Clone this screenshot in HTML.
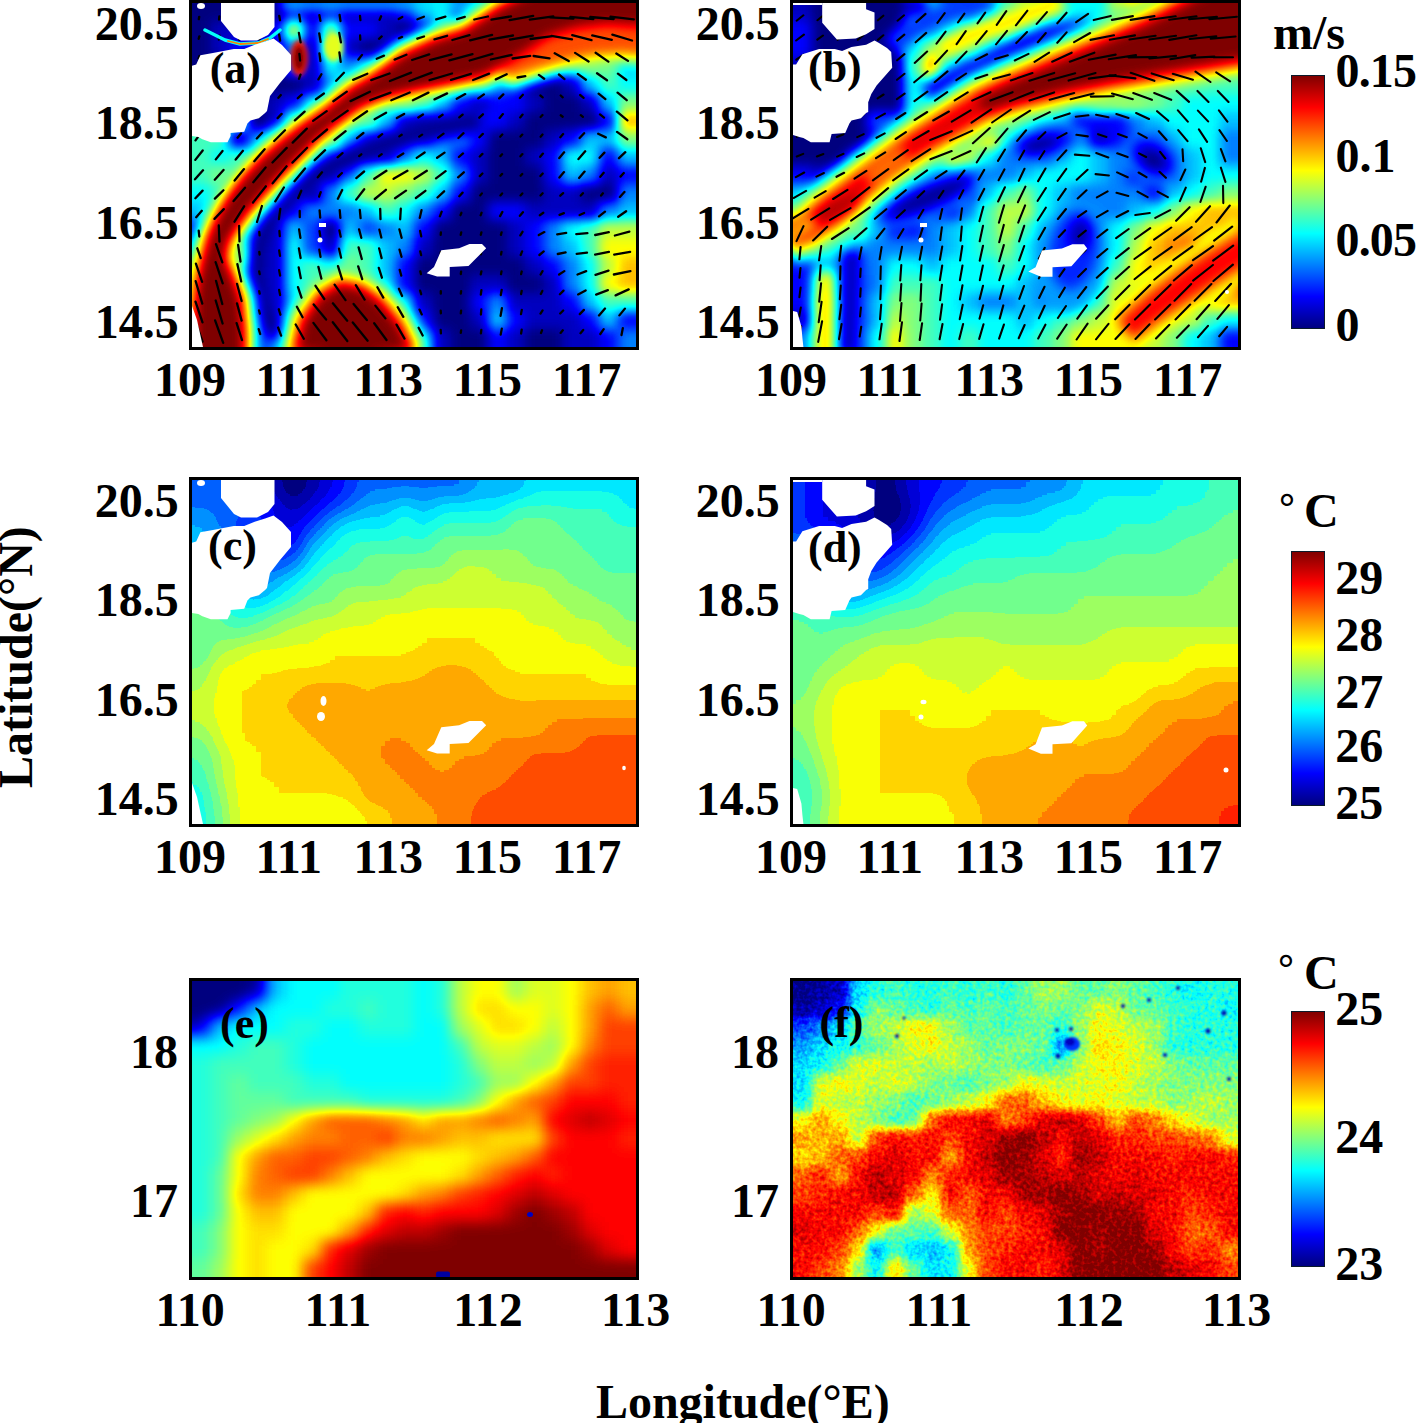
<!DOCTYPE html><html><head><meta charset="utf-8"><style>
html,body{margin:0;padding:0;background:#fff;}
body{width:1417px;height:1423px;position:relative;overflow:hidden;font-family:"Liberation Serif",serif;font-weight:bold;}
.t{position:absolute;line-height:1;white-space:nowrap;color:#000;}
.fr{position:absolute;border:3px solid #000;box-sizing:border-box;}
.pn{position:absolute;overflow:hidden;}
.cb{position:absolute;box-sizing:border-box;border:1px solid #0b1a2a;}
</style></head><body>

<svg class="pn" style="left:192px;top:3px" width="444" height="344" viewBox="0 0 444 344">
<defs><filter id="fa" filterUnits="userSpaceOnUse" x="-55.5" y="-54.3" width="555.0" height="452.6" color-interpolation-filters="sRGB"><feGaussianBlur stdDeviation="6.0" result="bl"/><feComponentTransfer><feFuncR type="table" tableValues="0 0 0 0 0.5 1 1 1 0.5"/><feFuncG type="table" tableValues="0 0 0.5 1 1 1 0.5 0 0"/><feFuncB type="table" tableValues="0.5 1 1 1 0.5 0 0 0 0"/></feComponentTransfer></filter></defs>
<g filter="url(#fa)" shape-rendering="crispEdges">
<rect x="-55.5" y="-54.3" width="148.6" height="18.7" fill="#000000"/>
<rect x="92.5" y="-54.3" width="19.1" height="18.7" fill="#202020"/>
<rect x="111.0" y="-54.3" width="19.1" height="18.7" fill="#101010"/>
<rect x="129.5" y="-54.3" width="19.1" height="18.7" fill="#202020"/>
<rect x="148.0" y="-54.3" width="56.1" height="18.7" fill="#101010"/>
<rect x="203.5" y="-54.3" width="19.1" height="18.7" fill="#202020"/>
<rect x="222.0" y="-54.3" width="19.1" height="18.7" fill="#505050"/>
<rect x="240.5" y="-54.3" width="19.1" height="18.7" fill="#606060"/>
<rect x="259.0" y="-54.3" width="19.1" height="18.7" fill="#202020"/>
<rect x="277.5" y="-54.3" width="19.1" height="18.7" fill="#505050"/>
<rect x="296.0" y="-54.3" width="19.1" height="18.7" fill="#9f9f9f"/>
<rect x="314.5" y="-54.3" width="185.6" height="18.7" fill="#ffffff"/>
<rect x="-55.5" y="-36.2" width="148.6" height="18.7" fill="#000000"/>
<rect x="92.5" y="-36.2" width="19.1" height="18.7" fill="#202020"/>
<rect x="111.0" y="-36.2" width="19.1" height="18.7" fill="#101010"/>
<rect x="129.5" y="-36.2" width="19.1" height="18.7" fill="#202020"/>
<rect x="148.0" y="-36.2" width="56.1" height="18.7" fill="#101010"/>
<rect x="203.5" y="-36.2" width="19.1" height="18.7" fill="#202020"/>
<rect x="222.0" y="-36.2" width="19.1" height="18.7" fill="#505050"/>
<rect x="240.5" y="-36.2" width="19.1" height="18.7" fill="#606060"/>
<rect x="259.0" y="-36.2" width="19.1" height="18.7" fill="#202020"/>
<rect x="277.5" y="-36.2" width="19.1" height="18.7" fill="#505050"/>
<rect x="296.0" y="-36.2" width="19.1" height="18.7" fill="#9f9f9f"/>
<rect x="314.5" y="-36.2" width="185.6" height="18.7" fill="#ffffff"/>
<rect x="-55.5" y="-18.1" width="148.6" height="18.7" fill="#000000"/>
<rect x="92.5" y="-18.1" width="19.1" height="18.7" fill="#202020"/>
<rect x="111.0" y="-18.1" width="19.1" height="18.7" fill="#101010"/>
<rect x="129.5" y="-18.1" width="19.1" height="18.7" fill="#202020"/>
<rect x="148.0" y="-18.1" width="56.1" height="18.7" fill="#101010"/>
<rect x="203.5" y="-18.1" width="19.1" height="18.7" fill="#202020"/>
<rect x="222.0" y="-18.1" width="19.1" height="18.7" fill="#505050"/>
<rect x="240.5" y="-18.1" width="19.1" height="18.7" fill="#606060"/>
<rect x="259.0" y="-18.1" width="19.1" height="18.7" fill="#202020"/>
<rect x="277.5" y="-18.1" width="19.1" height="18.7" fill="#505050"/>
<rect x="296.0" y="-18.1" width="19.1" height="18.7" fill="#9f9f9f"/>
<rect x="314.5" y="-18.1" width="185.6" height="18.7" fill="#ffffff"/>
<rect x="-55.5" y="0.0" width="148.6" height="18.7" fill="#000000"/>
<rect x="92.5" y="0.0" width="19.1" height="18.7" fill="#202020"/>
<rect x="111.0" y="0.0" width="19.1" height="18.7" fill="#101010"/>
<rect x="129.5" y="0.0" width="19.1" height="18.7" fill="#202020"/>
<rect x="148.0" y="0.0" width="56.1" height="18.7" fill="#101010"/>
<rect x="203.5" y="0.0" width="19.1" height="18.7" fill="#202020"/>
<rect x="222.0" y="0.0" width="19.1" height="18.7" fill="#505050"/>
<rect x="240.5" y="0.0" width="19.1" height="18.7" fill="#606060"/>
<rect x="259.0" y="0.0" width="19.1" height="18.7" fill="#202020"/>
<rect x="277.5" y="0.0" width="19.1" height="18.7" fill="#505050"/>
<rect x="296.0" y="0.0" width="19.1" height="18.7" fill="#9f9f9f"/>
<rect x="314.5" y="0.0" width="185.6" height="18.7" fill="#ffffff"/>
<rect x="-55.5" y="18.1" width="74.6" height="18.7" fill="#000000"/>
<rect x="18.5" y="18.1" width="56.1" height="18.7" fill="#101010"/>
<rect x="74.0" y="18.1" width="19.1" height="18.7" fill="#202020"/>
<rect x="92.5" y="18.1" width="19.1" height="18.7" fill="#8f8f8f"/>
<rect x="111.0" y="18.1" width="19.1" height="18.7" fill="#202020"/>
<rect x="129.5" y="18.1" width="19.1" height="18.7" fill="#808080"/>
<rect x="148.0" y="18.1" width="37.6" height="18.7" fill="#202020"/>
<rect x="185.0" y="18.1" width="19.1" height="18.7" fill="#101010"/>
<rect x="203.5" y="18.1" width="19.1" height="18.7" fill="#000000"/>
<rect x="222.0" y="18.1" width="19.1" height="18.7" fill="#101010"/>
<rect x="240.5" y="18.1" width="19.1" height="18.7" fill="#404040"/>
<rect x="259.0" y="18.1" width="19.1" height="18.7" fill="#808080"/>
<rect x="277.5" y="18.1" width="19.1" height="18.7" fill="#dfdfdf"/>
<rect x="296.0" y="18.1" width="56.1" height="18.7" fill="#ffffff"/>
<rect x="351.5" y="18.1" width="19.1" height="18.7" fill="#efefef"/>
<rect x="370.0" y="18.1" width="37.6" height="18.7" fill="#dfdfdf"/>
<rect x="407.0" y="18.1" width="93.1" height="18.7" fill="#efefef"/>
<rect x="-55.5" y="36.2" width="74.6" height="18.7" fill="#000000"/>
<rect x="18.5" y="36.2" width="19.1" height="18.7" fill="#101010"/>
<rect x="37.0" y="36.2" width="37.6" height="18.7" fill="#202020"/>
<rect x="74.0" y="36.2" width="19.1" height="18.7" fill="#101010"/>
<rect x="92.5" y="36.2" width="19.1" height="18.7" fill="#404040"/>
<rect x="111.0" y="36.2" width="19.1" height="18.7" fill="#101010"/>
<rect x="129.5" y="36.2" width="19.1" height="18.7" fill="#9f9f9f"/>
<rect x="148.0" y="36.2" width="19.1" height="18.7" fill="#101010"/>
<rect x="166.5" y="36.2" width="37.6" height="18.7" fill="#000000"/>
<rect x="203.5" y="36.2" width="19.1" height="18.7" fill="#202020"/>
<rect x="222.0" y="36.2" width="19.1" height="18.7" fill="#808080"/>
<rect x="240.5" y="36.2" width="19.1" height="18.7" fill="#dfdfdf"/>
<rect x="259.0" y="36.2" width="56.1" height="18.7" fill="#ffffff"/>
<rect x="314.5" y="36.2" width="19.1" height="18.7" fill="#efefef"/>
<rect x="333.0" y="36.2" width="37.6" height="18.7" fill="#cfcfcf"/>
<rect x="370.0" y="36.2" width="19.1" height="18.7" fill="#bfbfbf"/>
<rect x="388.5" y="36.2" width="111.6" height="18.7" fill="#afafaf"/>
<rect x="-55.5" y="54.3" width="148.6" height="18.7" fill="#000000"/>
<rect x="92.5" y="54.3" width="19.1" height="18.7" fill="#404040"/>
<rect x="111.0" y="54.3" width="19.1" height="18.7" fill="#101010"/>
<rect x="129.5" y="54.3" width="19.1" height="18.7" fill="#606060"/>
<rect x="148.0" y="54.3" width="19.1" height="18.7" fill="#404040"/>
<rect x="166.5" y="54.3" width="19.1" height="18.7" fill="#505050"/>
<rect x="185.0" y="54.3" width="19.1" height="18.7" fill="#9f9f9f"/>
<rect x="203.5" y="54.3" width="19.1" height="18.7" fill="#efefef"/>
<rect x="222.0" y="54.3" width="74.6" height="18.7" fill="#ffffff"/>
<rect x="296.0" y="54.3" width="19.1" height="18.7" fill="#cfcfcf"/>
<rect x="314.5" y="54.3" width="19.1" height="18.7" fill="#8f8f8f"/>
<rect x="333.0" y="54.3" width="37.6" height="18.7" fill="#707070"/>
<rect x="370.0" y="54.3" width="19.1" height="18.7" fill="#808080"/>
<rect x="388.5" y="54.3" width="19.1" height="18.7" fill="#8f8f8f"/>
<rect x="407.0" y="54.3" width="19.1" height="18.7" fill="#808080"/>
<rect x="425.5" y="54.3" width="74.6" height="18.7" fill="#505050"/>
<rect x="-55.5" y="72.4" width="167.1" height="18.7" fill="#000000"/>
<rect x="111.0" y="72.4" width="19.1" height="18.7" fill="#101010"/>
<rect x="129.5" y="72.4" width="19.1" height="18.7" fill="#404040"/>
<rect x="148.0" y="72.4" width="19.1" height="18.7" fill="#afafaf"/>
<rect x="166.5" y="72.4" width="19.1" height="18.7" fill="#efefef"/>
<rect x="185.0" y="72.4" width="56.1" height="18.7" fill="#ffffff"/>
<rect x="240.5" y="72.4" width="19.1" height="18.7" fill="#efefef"/>
<rect x="259.0" y="72.4" width="19.1" height="18.7" fill="#bfbfbf"/>
<rect x="277.5" y="72.4" width="19.1" height="18.7" fill="#808080"/>
<rect x="296.0" y="72.4" width="19.1" height="18.7" fill="#404040"/>
<rect x="314.5" y="72.4" width="19.1" height="18.7" fill="#101010"/>
<rect x="333.0" y="72.4" width="37.6" height="18.7" fill="#000000"/>
<rect x="370.0" y="72.4" width="19.1" height="18.7" fill="#101010"/>
<rect x="388.5" y="72.4" width="19.1" height="18.7" fill="#505050"/>
<rect x="407.0" y="72.4" width="19.1" height="18.7" fill="#707070"/>
<rect x="425.5" y="72.4" width="74.6" height="18.7" fill="#606060"/>
<rect x="-55.5" y="90.5" width="93.1" height="18.7" fill="#606060"/>
<rect x="37.0" y="90.5" width="37.6" height="18.7" fill="#000000"/>
<rect x="74.0" y="90.5" width="19.1" height="18.7" fill="#101010"/>
<rect x="92.5" y="90.5" width="19.1" height="18.7" fill="#202020"/>
<rect x="111.0" y="90.5" width="19.1" height="18.7" fill="#505050"/>
<rect x="129.5" y="90.5" width="19.1" height="18.7" fill="#9f9f9f"/>
<rect x="148.0" y="90.5" width="19.1" height="18.7" fill="#dfdfdf"/>
<rect x="166.5" y="90.5" width="19.1" height="18.7" fill="#efefef"/>
<rect x="185.0" y="90.5" width="19.1" height="18.7" fill="#cfcfcf"/>
<rect x="203.5" y="90.5" width="19.1" height="18.7" fill="#afafaf"/>
<rect x="222.0" y="90.5" width="19.1" height="18.7" fill="#808080"/>
<rect x="240.5" y="90.5" width="19.1" height="18.7" fill="#505050"/>
<rect x="259.0" y="90.5" width="19.1" height="18.7" fill="#202020"/>
<rect x="277.5" y="90.5" width="19.1" height="18.7" fill="#101010"/>
<rect x="296.0" y="90.5" width="37.6" height="18.7" fill="#202020"/>
<rect x="333.0" y="90.5" width="19.1" height="18.7" fill="#101010"/>
<rect x="351.5" y="90.5" width="37.6" height="18.7" fill="#000000"/>
<rect x="388.5" y="90.5" width="19.1" height="18.7" fill="#101010"/>
<rect x="407.0" y="90.5" width="19.1" height="18.7" fill="#505050"/>
<rect x="425.5" y="90.5" width="74.6" height="18.7" fill="#808080"/>
<rect x="-55.5" y="108.6" width="111.6" height="18.7" fill="#707070"/>
<rect x="55.5" y="108.6" width="19.1" height="18.7" fill="#000000"/>
<rect x="74.0" y="108.6" width="19.1" height="18.7" fill="#101010"/>
<rect x="92.5" y="108.6" width="19.1" height="18.7" fill="#8f8f8f"/>
<rect x="111.0" y="108.6" width="19.1" height="18.7" fill="#afafaf"/>
<rect x="129.5" y="108.6" width="19.1" height="18.7" fill="#cfcfcf"/>
<rect x="148.0" y="108.6" width="19.1" height="18.7" fill="#afafaf"/>
<rect x="166.5" y="108.6" width="19.1" height="18.7" fill="#808080"/>
<rect x="185.0" y="108.6" width="19.1" height="18.7" fill="#505050"/>
<rect x="203.5" y="108.6" width="19.1" height="18.7" fill="#101010"/>
<rect x="222.0" y="108.6" width="37.6" height="18.7" fill="#000000"/>
<rect x="259.0" y="108.6" width="19.1" height="18.7" fill="#101010"/>
<rect x="277.5" y="108.6" width="37.6" height="18.7" fill="#202020"/>
<rect x="314.5" y="108.6" width="19.1" height="18.7" fill="#101010"/>
<rect x="333.0" y="108.6" width="74.6" height="18.7" fill="#000000"/>
<rect x="407.0" y="108.6" width="19.1" height="18.7" fill="#202020"/>
<rect x="425.5" y="108.6" width="74.6" height="18.7" fill="#afafaf"/>
<rect x="-55.5" y="126.7" width="93.1" height="18.7" fill="#707070"/>
<rect x="37.0" y="126.7" width="19.1" height="18.7" fill="#101010"/>
<rect x="55.5" y="126.7" width="19.1" height="18.7" fill="#404040"/>
<rect x="74.0" y="126.7" width="19.1" height="18.7" fill="#9f9f9f"/>
<rect x="92.5" y="126.7" width="19.1" height="18.7" fill="#dfdfdf"/>
<rect x="111.0" y="126.7" width="19.1" height="18.7" fill="#cfcfcf"/>
<rect x="129.5" y="126.7" width="19.1" height="18.7" fill="#afafaf"/>
<rect x="148.0" y="126.7" width="19.1" height="18.7" fill="#505050"/>
<rect x="166.5" y="126.7" width="19.1" height="18.7" fill="#202020"/>
<rect x="185.0" y="126.7" width="37.6" height="18.7" fill="#000000"/>
<rect x="222.0" y="126.7" width="19.1" height="18.7" fill="#101010"/>
<rect x="240.5" y="126.7" width="37.6" height="18.7" fill="#404040"/>
<rect x="277.5" y="126.7" width="19.1" height="18.7" fill="#202020"/>
<rect x="296.0" y="126.7" width="56.1" height="18.7" fill="#000000"/>
<rect x="351.5" y="126.7" width="19.1" height="18.7" fill="#101010"/>
<rect x="370.0" y="126.7" width="19.1" height="18.7" fill="#202020"/>
<rect x="388.5" y="126.7" width="37.6" height="18.7" fill="#505050"/>
<rect x="425.5" y="126.7" width="74.6" height="18.7" fill="#808080"/>
<rect x="-55.5" y="144.8" width="74.6" height="18.7" fill="#707070"/>
<rect x="18.5" y="144.8" width="19.1" height="18.7" fill="#606060"/>
<rect x="37.0" y="144.8" width="19.1" height="18.7" fill="#707070"/>
<rect x="55.5" y="144.8" width="19.1" height="18.7" fill="#9f9f9f"/>
<rect x="74.0" y="144.8" width="19.1" height="18.7" fill="#cfcfcf"/>
<rect x="92.5" y="144.8" width="19.1" height="18.7" fill="#efefef"/>
<rect x="111.0" y="144.8" width="19.1" height="18.7" fill="#afafaf"/>
<rect x="129.5" y="144.8" width="19.1" height="18.7" fill="#505050"/>
<rect x="148.0" y="144.8" width="37.6" height="18.7" fill="#000000"/>
<rect x="185.0" y="144.8" width="19.1" height="18.7" fill="#101010"/>
<rect x="203.5" y="144.8" width="19.1" height="18.7" fill="#404040"/>
<rect x="222.0" y="144.8" width="19.1" height="18.7" fill="#606060"/>
<rect x="240.5" y="144.8" width="19.1" height="18.7" fill="#505050"/>
<rect x="259.0" y="144.8" width="19.1" height="18.7" fill="#202020"/>
<rect x="277.5" y="144.8" width="19.1" height="18.7" fill="#101010"/>
<rect x="296.0" y="144.8" width="37.6" height="18.7" fill="#000000"/>
<rect x="333.0" y="144.8" width="19.1" height="18.7" fill="#101010"/>
<rect x="351.5" y="144.8" width="19.1" height="18.7" fill="#202020"/>
<rect x="370.0" y="144.8" width="37.6" height="18.7" fill="#606060"/>
<rect x="407.0" y="144.8" width="19.1" height="18.7" fill="#202020"/>
<rect x="425.5" y="144.8" width="74.6" height="18.7" fill="#505050"/>
<rect x="-55.5" y="162.9" width="74.6" height="18.7" fill="#707070"/>
<rect x="18.5" y="162.9" width="19.1" height="18.7" fill="#808080"/>
<rect x="37.0" y="162.9" width="19.1" height="18.7" fill="#8f8f8f"/>
<rect x="55.5" y="162.9" width="19.1" height="18.7" fill="#bfbfbf"/>
<rect x="74.0" y="162.9" width="19.1" height="18.7" fill="#efefef"/>
<rect x="92.5" y="162.9" width="19.1" height="18.7" fill="#cfcfcf"/>
<rect x="111.0" y="162.9" width="19.1" height="18.7" fill="#505050"/>
<rect x="129.5" y="162.9" width="19.1" height="18.7" fill="#000000"/>
<rect x="148.0" y="162.9" width="19.1" height="18.7" fill="#404040"/>
<rect x="166.5" y="162.9" width="19.1" height="18.7" fill="#707070"/>
<rect x="185.0" y="162.9" width="37.6" height="18.7" fill="#9f9f9f"/>
<rect x="222.0" y="162.9" width="19.1" height="18.7" fill="#8f8f8f"/>
<rect x="240.5" y="162.9" width="19.1" height="18.7" fill="#707070"/>
<rect x="259.0" y="162.9" width="19.1" height="18.7" fill="#404040"/>
<rect x="277.5" y="162.9" width="19.1" height="18.7" fill="#101010"/>
<rect x="296.0" y="162.9" width="56.1" height="18.7" fill="#000000"/>
<rect x="351.5" y="162.9" width="19.1" height="18.7" fill="#202020"/>
<rect x="370.0" y="162.9" width="19.1" height="18.7" fill="#505050"/>
<rect x="388.5" y="162.9" width="19.1" height="18.7" fill="#404040"/>
<rect x="407.0" y="162.9" width="19.1" height="18.7" fill="#101010"/>
<rect x="425.5" y="162.9" width="74.6" height="18.7" fill="#202020"/>
<rect x="-55.5" y="181.1" width="74.6" height="18.7" fill="#606060"/>
<rect x="18.5" y="181.1" width="19.1" height="18.7" fill="#707070"/>
<rect x="37.0" y="181.1" width="19.1" height="18.7" fill="#afafaf"/>
<rect x="55.5" y="181.1" width="19.1" height="18.7" fill="#dfdfdf"/>
<rect x="74.0" y="181.1" width="19.1" height="18.7" fill="#bfbfbf"/>
<rect x="92.5" y="181.1" width="19.1" height="18.7" fill="#606060"/>
<rect x="111.0" y="181.1" width="19.1" height="18.7" fill="#000000"/>
<rect x="129.5" y="181.1" width="19.1" height="18.7" fill="#404040"/>
<rect x="148.0" y="181.1" width="19.1" height="18.7" fill="#707070"/>
<rect x="166.5" y="181.1" width="37.6" height="18.7" fill="#8f8f8f"/>
<rect x="203.5" y="181.1" width="19.1" height="18.7" fill="#808080"/>
<rect x="222.0" y="181.1" width="19.1" height="18.7" fill="#707070"/>
<rect x="240.5" y="181.1" width="19.1" height="18.7" fill="#505050"/>
<rect x="259.0" y="181.1" width="19.1" height="18.7" fill="#202020"/>
<rect x="277.5" y="181.1" width="74.6" height="18.7" fill="#000000"/>
<rect x="351.5" y="181.1" width="37.6" height="18.7" fill="#101010"/>
<rect x="388.5" y="181.1" width="37.6" height="18.7" fill="#000000"/>
<rect x="425.5" y="181.1" width="74.6" height="18.7" fill="#404040"/>
<rect x="-55.5" y="199.2" width="74.6" height="18.7" fill="#505050"/>
<rect x="18.5" y="199.2" width="19.1" height="18.7" fill="#808080"/>
<rect x="37.0" y="199.2" width="19.1" height="18.7" fill="#bfbfbf"/>
<rect x="55.5" y="199.2" width="19.1" height="18.7" fill="#cfcfcf"/>
<rect x="74.0" y="199.2" width="19.1" height="18.7" fill="#808080"/>
<rect x="92.5" y="199.2" width="19.1" height="18.7" fill="#202020"/>
<rect x="111.0" y="199.2" width="56.1" height="18.7" fill="#404040"/>
<rect x="166.5" y="199.2" width="19.1" height="18.7" fill="#505050"/>
<rect x="185.0" y="199.2" width="19.1" height="18.7" fill="#707070"/>
<rect x="203.5" y="199.2" width="19.1" height="18.7" fill="#606060"/>
<rect x="222.0" y="199.2" width="19.1" height="18.7" fill="#404040"/>
<rect x="240.5" y="199.2" width="19.1" height="18.7" fill="#202020"/>
<rect x="259.0" y="199.2" width="37.6" height="18.7" fill="#000000"/>
<rect x="296.0" y="199.2" width="37.6" height="18.7" fill="#202020"/>
<rect x="333.0" y="199.2" width="74.6" height="18.7" fill="#101010"/>
<rect x="407.0" y="199.2" width="19.1" height="18.7" fill="#404040"/>
<rect x="425.5" y="199.2" width="74.6" height="18.7" fill="#505050"/>
<rect x="-55.5" y="217.3" width="74.6" height="18.7" fill="#202020"/>
<rect x="18.5" y="217.3" width="37.6" height="18.7" fill="#9f9f9f"/>
<rect x="55.5" y="217.3" width="37.6" height="18.7" fill="#101010"/>
<rect x="92.5" y="217.3" width="19.1" height="18.7" fill="#505050"/>
<rect x="111.0" y="217.3" width="19.1" height="18.7" fill="#303030"/>
<rect x="129.5" y="217.3" width="19.1" height="18.7" fill="#000000"/>
<rect x="148.0" y="217.3" width="19.1" height="18.7" fill="#505050"/>
<rect x="166.5" y="217.3" width="19.1" height="18.7" fill="#303030"/>
<rect x="185.0" y="217.3" width="19.1" height="18.7" fill="#404040"/>
<rect x="203.5" y="217.3" width="19.1" height="18.7" fill="#505050"/>
<rect x="222.0" y="217.3" width="19.1" height="18.7" fill="#202020"/>
<rect x="240.5" y="217.3" width="74.6" height="18.7" fill="#000000"/>
<rect x="314.5" y="217.3" width="19.1" height="18.7" fill="#101010"/>
<rect x="333.0" y="217.3" width="19.1" height="18.7" fill="#202020"/>
<rect x="351.5" y="217.3" width="19.1" height="18.7" fill="#404040"/>
<rect x="370.0" y="217.3" width="19.1" height="18.7" fill="#606060"/>
<rect x="388.5" y="217.3" width="19.1" height="18.7" fill="#707070"/>
<rect x="407.0" y="217.3" width="93.1" height="18.7" fill="#8f8f8f"/>
<rect x="-55.5" y="235.4" width="74.6" height="18.7" fill="#404040"/>
<rect x="18.5" y="235.4" width="19.1" height="18.7" fill="#bfbfbf"/>
<rect x="37.0" y="235.4" width="19.1" height="18.7" fill="#afafaf"/>
<rect x="55.5" y="235.4" width="19.1" height="18.7" fill="#000000"/>
<rect x="74.0" y="235.4" width="19.1" height="18.7" fill="#101010"/>
<rect x="92.5" y="235.4" width="19.1" height="18.7" fill="#606060"/>
<rect x="111.0" y="235.4" width="19.1" height="18.7" fill="#303030"/>
<rect x="129.5" y="235.4" width="19.1" height="18.7" fill="#101010"/>
<rect x="148.0" y="235.4" width="37.6" height="18.7" fill="#707070"/>
<rect x="185.0" y="235.4" width="19.1" height="18.7" fill="#505050"/>
<rect x="203.5" y="235.4" width="19.1" height="18.7" fill="#404040"/>
<rect x="222.0" y="235.4" width="19.1" height="18.7" fill="#101010"/>
<rect x="240.5" y="235.4" width="74.6" height="18.7" fill="#000000"/>
<rect x="314.5" y="235.4" width="19.1" height="18.7" fill="#101010"/>
<rect x="333.0" y="235.4" width="19.1" height="18.7" fill="#202020"/>
<rect x="351.5" y="235.4" width="19.1" height="18.7" fill="#404040"/>
<rect x="370.0" y="235.4" width="19.1" height="18.7" fill="#505050"/>
<rect x="388.5" y="235.4" width="19.1" height="18.7" fill="#707070"/>
<rect x="407.0" y="235.4" width="93.1" height="18.7" fill="#9f9f9f"/>
<rect x="-55.5" y="253.5" width="74.6" height="18.7" fill="#9f9f9f"/>
<rect x="18.5" y="253.5" width="19.1" height="18.7" fill="#dfdfdf"/>
<rect x="37.0" y="253.5" width="19.1" height="18.7" fill="#bfbfbf"/>
<rect x="55.5" y="253.5" width="19.1" height="18.7" fill="#000000"/>
<rect x="74.0" y="253.5" width="19.1" height="18.7" fill="#101010"/>
<rect x="92.5" y="253.5" width="19.1" height="18.7" fill="#606060"/>
<rect x="111.0" y="253.5" width="19.1" height="18.7" fill="#707070"/>
<rect x="129.5" y="253.5" width="19.1" height="18.7" fill="#606060"/>
<rect x="148.0" y="253.5" width="19.1" height="18.7" fill="#808080"/>
<rect x="166.5" y="253.5" width="19.1" height="18.7" fill="#707070"/>
<rect x="185.0" y="253.5" width="19.1" height="18.7" fill="#505050"/>
<rect x="203.5" y="253.5" width="19.1" height="18.7" fill="#202020"/>
<rect x="222.0" y="253.5" width="111.6" height="18.7" fill="#000000"/>
<rect x="333.0" y="253.5" width="19.1" height="18.7" fill="#101010"/>
<rect x="351.5" y="253.5" width="19.1" height="18.7" fill="#202020"/>
<rect x="370.0" y="253.5" width="19.1" height="18.7" fill="#404040"/>
<rect x="388.5" y="253.5" width="19.1" height="18.7" fill="#606060"/>
<rect x="407.0" y="253.5" width="19.1" height="18.7" fill="#8f8f8f"/>
<rect x="425.5" y="253.5" width="74.6" height="18.7" fill="#afafaf"/>
<rect x="-55.5" y="271.6" width="93.1" height="18.7" fill="#ffffff"/>
<rect x="37.0" y="271.6" width="19.1" height="18.7" fill="#bfbfbf"/>
<rect x="55.5" y="271.6" width="19.1" height="18.7" fill="#000000"/>
<rect x="74.0" y="271.6" width="19.1" height="18.7" fill="#101010"/>
<rect x="92.5" y="271.6" width="19.1" height="18.7" fill="#606060"/>
<rect x="111.0" y="271.6" width="19.1" height="18.7" fill="#707070"/>
<rect x="129.5" y="271.6" width="19.1" height="18.7" fill="#9f9f9f"/>
<rect x="148.0" y="271.6" width="19.1" height="18.7" fill="#afafaf"/>
<rect x="166.5" y="271.6" width="19.1" height="18.7" fill="#808080"/>
<rect x="185.0" y="271.6" width="19.1" height="18.7" fill="#505050"/>
<rect x="203.5" y="271.6" width="19.1" height="18.7" fill="#202020"/>
<rect x="222.0" y="271.6" width="56.1" height="18.7" fill="#000000"/>
<rect x="277.5" y="271.6" width="37.6" height="18.7" fill="#101010"/>
<rect x="314.5" y="271.6" width="37.6" height="18.7" fill="#000000"/>
<rect x="351.5" y="271.6" width="19.1" height="18.7" fill="#101010"/>
<rect x="370.0" y="271.6" width="19.1" height="18.7" fill="#404040"/>
<rect x="388.5" y="271.6" width="19.1" height="18.7" fill="#606060"/>
<rect x="407.0" y="271.6" width="19.1" height="18.7" fill="#9f9f9f"/>
<rect x="425.5" y="271.6" width="74.6" height="18.7" fill="#afafaf"/>
<rect x="-55.5" y="289.7" width="74.6" height="18.7" fill="#efefef"/>
<rect x="18.5" y="289.7" width="19.1" height="18.7" fill="#ffffff"/>
<rect x="37.0" y="289.7" width="19.1" height="18.7" fill="#bfbfbf"/>
<rect x="55.5" y="289.7" width="19.1" height="18.7" fill="#000000"/>
<rect x="74.0" y="289.7" width="19.1" height="18.7" fill="#101010"/>
<rect x="92.5" y="289.7" width="19.1" height="18.7" fill="#505050"/>
<rect x="111.0" y="289.7" width="19.1" height="18.7" fill="#9f9f9f"/>
<rect x="129.5" y="289.7" width="37.6" height="18.7" fill="#dfdfdf"/>
<rect x="166.5" y="289.7" width="19.1" height="18.7" fill="#afafaf"/>
<rect x="185.0" y="289.7" width="19.1" height="18.7" fill="#707070"/>
<rect x="203.5" y="289.7" width="19.1" height="18.7" fill="#505050"/>
<rect x="222.0" y="289.7" width="19.1" height="18.7" fill="#101010"/>
<rect x="240.5" y="289.7" width="37.6" height="18.7" fill="#000000"/>
<rect x="277.5" y="289.7" width="19.1" height="18.7" fill="#202020"/>
<rect x="296.0" y="289.7" width="19.1" height="18.7" fill="#404040"/>
<rect x="314.5" y="289.7" width="56.1" height="18.7" fill="#101010"/>
<rect x="370.0" y="289.7" width="19.1" height="18.7" fill="#202020"/>
<rect x="388.5" y="289.7" width="19.1" height="18.7" fill="#505050"/>
<rect x="407.0" y="289.7" width="93.1" height="18.7" fill="#707070"/>
<rect x="-55.5" y="307.8" width="74.6" height="18.7" fill="#dfdfdf"/>
<rect x="18.5" y="307.8" width="19.1" height="18.7" fill="#ffffff"/>
<rect x="37.0" y="307.8" width="19.1" height="18.7" fill="#bfbfbf"/>
<rect x="55.5" y="307.8" width="19.1" height="18.7" fill="#101010"/>
<rect x="74.0" y="307.8" width="19.1" height="18.7" fill="#202020"/>
<rect x="92.5" y="307.8" width="19.1" height="18.7" fill="#505050"/>
<rect x="111.0" y="307.8" width="19.1" height="18.7" fill="#bfbfbf"/>
<rect x="129.5" y="307.8" width="19.1" height="18.7" fill="#efefef"/>
<rect x="148.0" y="307.8" width="19.1" height="18.7" fill="#ffffff"/>
<rect x="166.5" y="307.8" width="19.1" height="18.7" fill="#dfdfdf"/>
<rect x="185.0" y="307.8" width="19.1" height="18.7" fill="#afafaf"/>
<rect x="203.5" y="307.8" width="19.1" height="18.7" fill="#606060"/>
<rect x="222.0" y="307.8" width="19.1" height="18.7" fill="#202020"/>
<rect x="240.5" y="307.8" width="37.6" height="18.7" fill="#000000"/>
<rect x="277.5" y="307.8" width="19.1" height="18.7" fill="#101010"/>
<rect x="296.0" y="307.8" width="19.1" height="18.7" fill="#505050"/>
<rect x="314.5" y="307.8" width="19.1" height="18.7" fill="#202020"/>
<rect x="333.0" y="307.8" width="56.1" height="18.7" fill="#101010"/>
<rect x="388.5" y="307.8" width="19.1" height="18.7" fill="#202020"/>
<rect x="407.0" y="307.8" width="19.1" height="18.7" fill="#505050"/>
<rect x="425.5" y="307.8" width="74.6" height="18.7" fill="#202020"/>
<rect x="-55.5" y="325.9" width="74.6" height="18.7" fill="#dfdfdf"/>
<rect x="18.5" y="325.9" width="19.1" height="18.7" fill="#ffffff"/>
<rect x="37.0" y="325.9" width="19.1" height="18.7" fill="#bfbfbf"/>
<rect x="55.5" y="325.9" width="19.1" height="18.7" fill="#202020"/>
<rect x="74.0" y="325.9" width="19.1" height="18.7" fill="#404040"/>
<rect x="92.5" y="325.9" width="19.1" height="18.7" fill="#afafaf"/>
<rect x="111.0" y="325.9" width="19.1" height="18.7" fill="#dfdfdf"/>
<rect x="129.5" y="325.9" width="56.1" height="18.7" fill="#ffffff"/>
<rect x="185.0" y="325.9" width="19.1" height="18.7" fill="#dfdfdf"/>
<rect x="203.5" y="325.9" width="19.1" height="18.7" fill="#afafaf"/>
<rect x="222.0" y="325.9" width="19.1" height="18.7" fill="#505050"/>
<rect x="240.5" y="325.9" width="19.1" height="18.7" fill="#101010"/>
<rect x="259.0" y="325.9" width="37.6" height="18.7" fill="#000000"/>
<rect x="296.0" y="325.9" width="19.1" height="18.7" fill="#202020"/>
<rect x="314.5" y="325.9" width="19.1" height="18.7" fill="#101010"/>
<rect x="333.0" y="325.9" width="37.6" height="18.7" fill="#000000"/>
<rect x="370.0" y="325.9" width="37.6" height="18.7" fill="#101010"/>
<rect x="407.0" y="325.9" width="19.1" height="18.7" fill="#202020"/>
<rect x="425.5" y="325.9" width="74.6" height="18.7" fill="#404040"/>
<rect x="-55.5" y="344.0" width="74.6" height="18.7" fill="#dfdfdf"/>
<rect x="18.5" y="344.0" width="19.1" height="18.7" fill="#ffffff"/>
<rect x="37.0" y="344.0" width="19.1" height="18.7" fill="#bfbfbf"/>
<rect x="55.5" y="344.0" width="19.1" height="18.7" fill="#202020"/>
<rect x="74.0" y="344.0" width="19.1" height="18.7" fill="#404040"/>
<rect x="92.5" y="344.0" width="19.1" height="18.7" fill="#afafaf"/>
<rect x="111.0" y="344.0" width="19.1" height="18.7" fill="#dfdfdf"/>
<rect x="129.5" y="344.0" width="56.1" height="18.7" fill="#ffffff"/>
<rect x="185.0" y="344.0" width="19.1" height="18.7" fill="#dfdfdf"/>
<rect x="203.5" y="344.0" width="19.1" height="18.7" fill="#afafaf"/>
<rect x="222.0" y="344.0" width="19.1" height="18.7" fill="#505050"/>
<rect x="240.5" y="344.0" width="19.1" height="18.7" fill="#101010"/>
<rect x="259.0" y="344.0" width="37.6" height="18.7" fill="#000000"/>
<rect x="296.0" y="344.0" width="19.1" height="18.7" fill="#202020"/>
<rect x="314.5" y="344.0" width="19.1" height="18.7" fill="#101010"/>
<rect x="333.0" y="344.0" width="37.6" height="18.7" fill="#000000"/>
<rect x="370.0" y="344.0" width="37.6" height="18.7" fill="#101010"/>
<rect x="407.0" y="344.0" width="19.1" height="18.7" fill="#202020"/>
<rect x="425.5" y="344.0" width="74.6" height="18.7" fill="#404040"/>
<rect x="-55.5" y="362.1" width="74.6" height="18.7" fill="#dfdfdf"/>
<rect x="18.5" y="362.1" width="19.1" height="18.7" fill="#ffffff"/>
<rect x="37.0" y="362.1" width="19.1" height="18.7" fill="#bfbfbf"/>
<rect x="55.5" y="362.1" width="19.1" height="18.7" fill="#202020"/>
<rect x="74.0" y="362.1" width="19.1" height="18.7" fill="#404040"/>
<rect x="92.5" y="362.1" width="19.1" height="18.7" fill="#afafaf"/>
<rect x="111.0" y="362.1" width="19.1" height="18.7" fill="#dfdfdf"/>
<rect x="129.5" y="362.1" width="56.1" height="18.7" fill="#ffffff"/>
<rect x="185.0" y="362.1" width="19.1" height="18.7" fill="#dfdfdf"/>
<rect x="203.5" y="362.1" width="19.1" height="18.7" fill="#afafaf"/>
<rect x="222.0" y="362.1" width="19.1" height="18.7" fill="#505050"/>
<rect x="240.5" y="362.1" width="19.1" height="18.7" fill="#101010"/>
<rect x="259.0" y="362.1" width="37.6" height="18.7" fill="#000000"/>
<rect x="296.0" y="362.1" width="19.1" height="18.7" fill="#202020"/>
<rect x="314.5" y="362.1" width="19.1" height="18.7" fill="#101010"/>
<rect x="333.0" y="362.1" width="37.6" height="18.7" fill="#000000"/>
<rect x="370.0" y="362.1" width="37.6" height="18.7" fill="#101010"/>
<rect x="407.0" y="362.1" width="19.1" height="18.7" fill="#202020"/>
<rect x="425.5" y="362.1" width="74.6" height="18.7" fill="#404040"/>
<rect x="-55.5" y="380.2" width="74.6" height="18.7" fill="#dfdfdf"/>
<rect x="18.5" y="380.2" width="19.1" height="18.7" fill="#ffffff"/>
<rect x="37.0" y="380.2" width="19.1" height="18.7" fill="#bfbfbf"/>
<rect x="55.5" y="380.2" width="19.1" height="18.7" fill="#202020"/>
<rect x="74.0" y="380.2" width="19.1" height="18.7" fill="#404040"/>
<rect x="92.5" y="380.2" width="19.1" height="18.7" fill="#afafaf"/>
<rect x="111.0" y="380.2" width="19.1" height="18.7" fill="#dfdfdf"/>
<rect x="129.5" y="380.2" width="56.1" height="18.7" fill="#ffffff"/>
<rect x="185.0" y="380.2" width="19.1" height="18.7" fill="#dfdfdf"/>
<rect x="203.5" y="380.2" width="19.1" height="18.7" fill="#afafaf"/>
<rect x="222.0" y="380.2" width="19.1" height="18.7" fill="#505050"/>
<rect x="240.5" y="380.2" width="19.1" height="18.7" fill="#101010"/>
<rect x="259.0" y="380.2" width="37.6" height="18.7" fill="#000000"/>
<rect x="296.0" y="380.2" width="19.1" height="18.7" fill="#202020"/>
<rect x="314.5" y="380.2" width="19.1" height="18.7" fill="#101010"/>
<rect x="333.0" y="380.2" width="37.6" height="18.7" fill="#000000"/>
<rect x="370.0" y="380.2" width="37.6" height="18.7" fill="#101010"/>
<rect x="407.0" y="380.2" width="19.1" height="18.7" fill="#202020"/>
<rect x="425.5" y="380.2" width="74.6" height="18.7" fill="#404040"/>
<polygon points="88.0,-3.0 313.0,-3.0 313.0,6.0 88.0,6.0" fill="#5c5c5c" />
<polygon points="285.5,104.2 249.5,111.3 219.4,117.5 195.4,126.8 168.3,136.9 142.6,147.2 115.8,161.2 89.0,182.6 66.9,208.3 55.3,239.3 53.0,272.4 57.5,305.5 70.1,330.4 90.4,345.5 105.6,324.5 89.9,313.6 82.5,298.5 79.0,271.6 80.7,244.7 89.1,221.7 107.0,201.4 130.2,182.8 153.4,170.8 177.7,161.1 204.6,151.2 226.6,142.5 254.5,136.7 290.5,129.8" fill="#1a1a1a" />
<polygon points="286.5,109.1 250.4,116.2 220.8,122.3 197.2,131.5 170.1,141.5 144.7,151.7 118.6,165.3 92.5,186.2 71.1,210.9 60.2,240.4 58.0,272.3 62.3,304.2 73.9,327.2 93.3,341.5 102.7,328.5 86.1,316.8 77.7,299.8 74.0,271.7 75.8,243.6 84.9,219.1 103.5,197.8 127.4,178.7 151.3,166.3 175.9,156.5 202.8,146.5 225.2,137.7 253.6,131.8 289.5,124.9" fill="#030303" />
<polygon points="460.4,-44.3 438.6,-37.8 410.1,-35.9 375.2,-29.5 334.6,-25.6 296.9,-7.2 266.7,13.5 240.3,21.5 205.5,37.4 176.0,58.6 149.7,73.9 125.5,93.9 102.4,109.5 80.5,125.9 58.2,145.2 39.3,165.7 24.2,186.1 12.4,206.1 2.5,228.5 -3.9,252.8 -8.9,276.0 -11.9,299.8 -13.0,327.7 -13.0,357.0 67.0,357.0 67.0,326.3 63.9,294.2 54.9,270.0 47.9,257.2 49.5,245.5 57.6,231.9 67.8,217.9 81.7,202.3 97.8,184.8 116.7,166.1 133.6,148.5 154.5,132.1 176.3,116.1 199.0,107.4 230.5,100.6 261.7,94.5 299.3,86.5 339.1,63.2 361.4,47.6 386.8,39.5 415.9,35.9 445.4,37.8 475.6,34.3" fill="#6b6b6b" />
<polygon points="461.8,-37.4 439.2,-30.9 410.6,-28.9 376.3,-22.6 337.0,-19.1 300.5,-1.2 269.5,19.9 242.3,28.2 208.1,43.9 179.0,64.9 153.4,79.8 129.8,99.4 106.8,114.9 85.2,131.1 63.2,150.1 44.6,170.3 29.8,190.2 18.5,209.6 9.1,230.9 3.1,253.4 -1.9,275.4 -4.9,299.3 -6.0,327.5 -6.0,357.0 60.0,357.0 60.0,326.5 56.9,294.7 47.9,270.6 40.9,256.6 42.9,243.1 51.5,228.4 62.2,213.8 76.4,197.7 92.8,179.9 112.0,160.9 129.2,143.1 150.2,126.6 172.6,110.2 196.0,101.1 227.9,94.1 259.7,87.8 296.5,80.1 335.5,57.2 359.0,41.1 385.7,32.6 415.4,28.9 444.8,30.9 474.2,27.4" fill="#9e9e9e" />
<polygon points="469.5,5.0 428.0,3.0 394.0,5.3 359.8,12.1 327.6,26.0 298.1,42.1 317.9,87.9 348.4,78.0 376.2,69.9 402.0,64.7 428.0,63.0 466.5,65.0" fill="#737373" />
<polygon points="469.2,11.0 428.0,9.0 394.8,11.2 361.5,17.9 329.8,31.6 300.4,47.6 315.6,82.4 346.2,72.4 374.5,64.1 401.2,58.8 428.0,57.0 466.8,59.0" fill="#9e9e9e" />
<polygon points="468.8,18.0 428.0,16.0 395.8,18.1 363.4,24.6 332.4,38.1 303.2,54.0 312.8,76.0 343.6,65.9 372.6,57.4 400.2,51.9 428.0,50.0 467.2,52.0" fill="#cccccc" />
<polygon points="462.6,-33.0 439.6,-26.4 411.0,-24.4 377.1,-18.2 338.6,-14.8 302.8,2.7 271.4,24.0 243.6,32.6 209.8,48.1 180.9,69.0 155.8,83.6 132.5,103.0 109.6,118.4 88.2,134.5 66.3,153.3 48.0,173.2 33.5,192.9 22.4,211.8 13.3,232.4 7.6,253.8 2.6,274.9 -0.4,299.0 -1.5,327.5 -1.5,357.0 55.5,357.0 55.5,326.5 52.4,295.0 43.4,271.1 36.4,256.2 38.7,241.6 47.6,226.2 58.5,211.1 73.0,194.8 89.7,176.7 109.0,157.5 126.4,139.6 147.5,123.0 170.2,106.4 194.1,97.0 226.2,89.9 258.4,83.4 294.6,76.0 333.2,53.3 357.4,36.8 384.9,28.2 415.0,24.4 444.4,26.4 473.4,23.0" fill="#cccccc" />
<polygon points="463.3,-29.6 439.9,-22.9 411.3,-20.9 377.7,-14.7 339.8,-11.5 304.6,5.7 272.8,27.2 244.5,35.9 211.0,51.3 182.4,72.2 157.7,86.5 134.6,105.8 111.8,121.2 90.6,137.1 68.8,155.8 50.7,175.5 36.3,194.9 25.4,213.5 16.6,233.6 11.0,254.1 6.1,274.6 3.1,298.7 2.0,327.4 2.0,357.0 52.0,357.0 52.0,326.6 48.9,295.3 39.9,271.4 33.0,255.9 35.4,240.4 44.6,224.5 55.7,209.1 70.3,192.5 87.2,174.2 106.6,154.9 124.2,136.8 145.4,120.2 168.3,103.5 192.6,93.8 225.0,86.7 257.5,80.1 293.2,72.8 331.4,50.3 356.2,33.5 384.3,24.7 414.7,20.9 444.1,22.9 472.7,19.6" fill="#ffffff" />
<polygon points="84.0,349.0 93.8,308.9 117.5,277.0 145.2,261.4 172.5,266.2 198.7,282.5 222.9,310.3 240.0,349.0" fill="#737373" />
<polygon points="93.0,349.0 101.5,313.4 122.2,284.6 146.9,270.2 171.4,275.1 194.3,290.4 215.3,315.1 231.0,349.0" fill="#a6a6a6" />
<polygon points="99.0,349.0 106.7,316.5 125.4,289.7 148.1,276.1 170.6,281.0 191.4,295.6 210.2,318.3 225.0,349.0" fill="#d1d1d1" />
<polygon points="104.0,349.0 111.0,319.0 128.0,294.0 149.0,281.0 170.0,286.0 189.0,300.0 206.0,321.0 220.0,349.0" fill="#ffffff" />
</g>
<defs><filter id="sb" x="-50%" y="-50%" width="200%" height="200%"><feGaussianBlur stdDeviation="2.5"/></filter></defs><g filter="url(#sb)">
<ellipse cx="107.0" cy="55.0" rx="9" ry="18" fill="#ff1a00" />
<ellipse cx="107.0" cy="55.0" rx="6" ry="13" fill="#800000" />
<ellipse cx="142.0" cy="44.0" rx="9" ry="14" fill="#e5ff1a" />
</g>
<path d="M6.8 16.2L7.2 13.8M27.0 16.5L27.3 13.5M47.3 13.5L47.3 16.5M67.3 13.5L67.6 16.5M87.2 12.8L88.0 17.2M107.2 11.6L108.3 18.4M127.4 12.2L128.4 17.8M147.6 12.0L148.5 18.0M168.0 12.9L168.4 17.1M187.6 16.8L189.1 13.2M206.7 16.0L210.3 14.0M225.4 16.3L231.9 13.7M244.2 16.4L253.4 13.6M265.1 16.1L272.8 13.9M282.3 16.5L295.9 13.5M299.5 16.7L319.0 13.3M317.6 17.1L341.2 12.9M337.8 16.6L361.3 13.4M358.0 14.3L381.4 15.7M378.4 13.8L401.3 16.2M398.3 14.0L421.7 16.0M418.5 13.6L441.8 16.4M6.7 35.8L7.3 33.4M26.8 36.5L27.5 32.7M47.2 36.8L47.4 32.4M67.3 32.4L67.6 36.8M87.1 31.5L88.1 37.7M106.9 29.9L108.6 39.3M127.2 30.3L128.6 38.9M147.2 29.9L148.9 39.3M168.1 32.5L168.3 36.7M187.0 35.8L189.7 33.4M206.9 35.3L210.1 33.9M225.3 35.7L232.0 33.5M242.5 36.4L255.1 32.8M260.4 37.0L277.5 32.2M278.1 37.3L300.1 31.9M297.5 36.7L321.0 32.5M318.0 36.6L340.8 32.6M338.6 36.0L360.5 33.2M359.4 32.8L380.0 36.4M380.2 32.1L399.5 37.1M400.2 32.4L419.8 36.8M420.3 31.7L440.0 37.5M6.6 55.4L7.4 53.0M26.7 55.7L27.6 52.7M46.9 56.1L47.7 52.3M67.4 56.1L67.5 52.3M87.4 52.1L87.8 56.3M107.4 50.9L108.1 57.5M127.4 50.4L128.4 58.0M147.4 49.5L148.7 58.9M166.4 56.5L170.0 51.9M184.7 55.8L192.0 52.6M202.6 56.6L214.4 51.8M220.1 57.0L237.2 51.4M238.0 57.1L259.6 51.3M257.4 57.3L280.5 51.1M277.7 57.5L300.5 50.9M298.9 56.5L319.6 51.9M320.6 55.5L338.2 52.9M341.6 53.0L357.5 55.4M362.7 50.3L376.7 58.1M383.1 49.9L396.6 58.5M403.6 49.8L416.4 58.6M424.3 50.5L436.0 57.9M6.4 74.9L7.6 72.7M26.6 74.9L27.7 72.7M46.8 74.9L47.8 72.7M67.0 75.0L67.9 72.6M87.1 75.2L88.1 72.4M107.0 75.9L108.5 71.7M126.4 76.4L129.4 71.2M144.2 77.8L151.9 69.8M161.1 76.9L175.3 70.7M179.2 77.1L197.5 70.5M197.9 78.0L219.1 69.6M217.5 78.0L239.8 69.6M237.6 77.1L260.0 70.5M259.0 76.8L278.9 70.8M281.1 77.0L297.1 70.6M303.8 76.4L314.7 71.2M325.5 74.5L333.3 73.1M346.9 71.9L352.2 75.7M366.9 71.5L372.5 76.1M385.8 70.9L393.9 76.7M405.0 70.3L415.0 77.3M425.9 70.6L434.4 77.0M5.0 96.7L9.0 90.1M25.0 96.7L29.3 90.1M46.6 94.4L48.0 92.4M66.7 94.4L68.2 92.4M86.4 94.8L88.8 92.0M105.8 95.2L109.7 91.6M123.9 96.3L131.9 90.5M141.3 98.2L154.8 88.6M158.5 98.1L177.9 88.7M178.2 97.2L198.5 89.6M199.3 97.3L217.7 89.5M220.9 97.2L236.4 89.6M242.5 96.4L255.1 90.4M264.7 95.7L273.2 91.1M286.3 95.4L291.9 91.4M307.2 95.4L311.3 91.4M327.9 95.0L330.9 91.8M348.4 92.5L350.7 94.3M368.7 92.5L370.7 94.3M388.1 92.0L391.6 94.8M406.6 90.7L413.4 96.1M425.6 89.6L434.7 97.2M3.8 117.8L10.2 108.2M23.7 117.7L30.6 108.3M44.5 116.5L50.1 109.5M66.5 114.0L68.4 112.0M85.6 115.1L89.6 110.9M102.9 117.4L112.6 108.6M121.1 117.9L134.7 108.1M140.4 118.4L155.7 107.6M161.3 117.7L175.1 108.3M182.6 116.3L194.1 109.7M204.9 115.1L212.1 110.9M226.3 114.5L231.0 111.5M247.0 114.2L250.6 111.8M267.3 114.4L270.6 111.6M287.3 114.7L290.9 111.3M307.6 114.9L310.9 111.1M328.2 114.4L330.6 111.6M348.6 114.0L350.5 112.0M368.7 112.3L370.7 113.7M388.8 112.2L390.9 113.8M408.0 111.4L412.0 114.6M424.9 108.6L435.4 117.4M3.5 137.4L10.5 127.8M23.5 137.3L30.8 127.9M45.6 134.7L49.0 130.5M64.8 135.5L70.1 129.7M82.2 138.0L93.0 127.2M100.7 139.6L114.8 125.6M120.7 138.7L135.1 126.5M142.5 137.0L153.6 128.2M165.0 135.2L171.4 130.0M186.5 134.0L190.2 131.2M207.3 133.4L209.7 131.8M227.2 133.6L230.1 131.6M246.1 134.6L251.5 130.6M266.4 135.0L271.5 130.2M287.4 134.3L290.8 130.9M308.2 133.7L310.3 131.5M328.5 133.6L330.3 131.6M348.6 133.7L350.5 131.5M368.3 134.2L371.1 131.0M387.6 135.0L392.1 130.2M406.2 130.8L413.8 134.4M425.0 128.9L435.3 136.3M3.3 156.9L10.7 147.5M23.8 156.4L30.5 148.0M43.7 156.6L50.9 147.8M62.3 158.2L72.6 146.2M80.5 159.5L94.7 144.9M100.4 159.6L115.1 144.8M122.7 157.2L133.1 147.2M145.6 154.3L150.5 150.1M167.1 153.1L169.3 151.3M187.0 153.2L189.7 151.2M205.7 153.9L211.3 150.5M224.7 154.9L232.6 149.5M245.1 154.8L252.5 149.6M266.9 154.0L271.0 150.4M287.8 153.5L290.4 150.9M308.4 153.1L310.1 151.3M328.4 153.3L330.4 151.1M348.2 153.8L350.9 150.6M367.3 155.1L372.1 149.3M386.5 156.1L393.2 148.3M407.6 154.8L412.4 149.6M427.0 155.2L433.3 149.2M3.0 176.3L11.0 167.3M22.8 176.7L31.5 166.9M42.6 177.5L52.0 166.1M61.3 179.2L73.6 164.4M80.6 180.3L94.6 163.3M102.5 178.2L113.0 165.4M125.8 174.3L130.0 169.3M146.2 173.6L149.9 170.0M164.3 175.1L172.1 168.5M182.3 175.8L194.4 167.8M201.6 175.8L215.4 167.8M222.5 175.8L234.8 167.8M244.0 175.4L253.6 168.2M266.1 174.3L271.8 169.3M287.8 173.1L290.4 170.5M308.4 172.7L310.1 170.9M328.6 172.7L330.2 170.9M348.4 173.1L350.7 170.5M367.4 174.5L372.0 169.1M387.1 175.0L392.6 168.6M408.3 173.8L411.7 169.8M428.5 173.6L431.8 170.0M3.4 195.2L10.6 187.6M22.9 195.6L31.4 187.2M41.6 198.1L53.0 184.7M61.0 199.5L73.9 183.3M83.3 198.3L91.9 184.5M106.2 195.0L109.3 187.8M127.1 193.7L128.7 189.1M145.9 195.8L150.2 187.0M164.2 196.6L172.2 186.2M182.8 196.0L193.9 186.8M203.0 195.2L214.0 187.6M223.9 195.0L233.4 187.8M245.5 194.5L252.1 188.3M267.3 193.2L270.6 189.6M288.3 192.4L289.9 190.4M308.4 192.4L310.1 190.4M328.5 192.4L330.3 190.4M348.5 192.5L350.6 190.3M368.3 192.7L371.1 190.1M388.8 192.6L390.9 190.2M409.1 192.5L410.9 190.3M427.9 193.9L432.4 188.9M4.2 214.2L9.8 207.8M22.5 215.9L31.8 206.1M42.5 218.7L52.1 203.3M65.0 219.0L69.9 203.0M86.9 216.2L88.3 205.8M107.7 207.8L107.8 214.2M127.6 207.3L128.2 214.7M147.7 207.2L148.4 214.8M167.8 206.8L168.6 215.2M188.2 205.8L188.5 216.2M208.2 216.3L208.8 205.7M227.8 214.8L229.5 207.2M247.9 213.3L249.7 208.7M268.5 212.2L269.4 209.8M288.6 212.3L289.6 209.7M308.1 213.1L310.4 208.9M327.9 212.8L330.9 209.2M347.8 212.2L351.3 209.8M367.5 211.9L371.9 210.1M387.6 212.0L392.1 210.0M407.0 213.4L413.0 208.6M426.2 213.8L434.1 208.2M6.7 227.7L7.3 233.5M26.8 222.5L27.5 238.7M47.1 222.8L47.5 238.4M67.3 228.8L67.6 232.4M87.4 228.0L87.8 233.2M107.1 226.4L108.4 234.8M127.5 228.1L128.3 233.1M147.4 227.5L148.7 233.7M167.1 226.4L169.3 234.8M187.4 226.7L189.3 234.5M207.4 226.4L209.6 234.8M228.1 227.9L229.2 233.3M248.7 231.9L248.9 229.3M268.7 231.8L269.2 229.4M288.8 231.8L289.4 229.4M308.9 231.9L309.6 229.3M328.3 232.4L330.5 228.8M346.8 232.1L352.3 229.1M365.2 231.3L374.2 229.9M384.3 231.1L395.4 230.1M403.2 232.0L416.8 229.2M422.9 232.5L437.4 228.7M5.3 245.3L8.7 255.1M24.0 241.1L30.3 259.3M46.1 241.9L48.5 258.5M67.3 248.9L67.6 251.5M87.2 247.5L88.0 252.9M106.9 245.4L108.6 255.0M127.3 246.6L128.5 253.8M147.0 245.7L149.1 254.7M166.6 244.4L169.8 256.0M187.1 245.3L189.6 255.1M207.5 246.6L209.5 253.8M228.2 248.3L229.1 252.1M248.8 248.9L248.8 251.5M268.7 251.4L269.2 249.0M288.9 251.4L289.3 249.0M309.0 251.5L309.5 248.9M328.7 252.0L330.1 248.4M347.4 252.0L351.7 248.4M365.8 251.0L373.6 249.4M384.7 250.8L395.0 249.6M403.1 251.6L416.9 248.8M422.2 251.6L438.1 248.8M3.9 260.7L10.1 278.9M23.6 259.2L30.7 280.4M45.4 261.2L49.2 278.4M67.2 268.5L67.7 271.1M87.1 267.1L88.1 272.5M106.7 264.4L108.8 275.2M126.4 263.9L129.4 275.7M146.0 263.2L150.1 276.4M166.2 263.4L170.2 276.2M186.8 264.9L189.9 274.7M207.7 266.9L209.3 272.7M228.3 268.4L229.0 271.2M248.8 268.6L248.8 271.0M268.8 271.0L269.1 268.6M288.8 271.3L289.4 268.3M309.0 271.2L309.5 268.4M329.1 271.1L329.7 268.5M348.6 271.5L350.5 268.1M367.1 271.5L372.3 268.1M385.5 271.5L394.2 268.1M403.5 271.9L416.5 267.7M421.9 271.5L438.4 268.1M3.7 278.2L10.3 300.6M24.0 277.8L30.3 301.0M45.0 280.8L49.6 298.0M67.2 288.1L67.7 290.7M87.1 286.8L88.1 292.0M106.0 284.1L109.5 294.7M123.5 282.8L132.3 296.0M142.6 281.7L153.5 297.1M163.8 282.2L172.6 296.6M185.4 284.2L191.3 294.6M206.9 285.8L210.1 293.0M228.1 287.6L229.2 291.2M248.8 288.1L248.8 290.7M268.8 290.7L269.1 288.1M288.8 291.7L289.4 287.1M308.8 292.0L309.7 286.8M329.1 291.0L329.7 287.8M348.8 290.9L350.3 287.9M367.9 291.2L371.5 287.6M386.1 291.4L393.6 287.4M404.1 291.6L415.9 287.2M423.6 292.4L436.7 286.4M3.5 298.6L10.5 319.4M23.7 297.5L30.6 320.5M45.0 300.4L49.6 317.6M67.0 307.3L67.9 310.7M86.8 306.3L88.4 311.7M104.9 303.8L110.6 314.2M121.7 301.5L134.1 316.5M140.9 300.3L155.2 317.7M161.6 300.9L174.8 317.1M183.3 302.6L193.4 315.4M205.7 304.2L211.3 313.8M227.5 306.6L229.8 311.4M248.7 307.7L248.9 310.3M268.8 310.3L269.1 307.7M288.9 311.5L289.3 306.5M308.6 312.8L309.9 305.2M329.0 311.1L329.8 306.9M348.5 310.6L350.6 307.4M368.2 310.5L371.2 307.5M387.8 311.1L391.9 306.9M407.0 312.5L413.0 305.5M427.4 312.4L432.9 305.6M3.4 318.6L10.6 338.6M23.1 317.4L31.2 339.8M44.6 320.1L50.0 337.1M66.7 326.2L68.2 331.0M86.1 324.5L89.1 332.7M103.7 321.5L111.8 335.7M121.4 319.9L134.4 337.3M140.8 319.2L155.3 338.0M160.8 319.5L175.6 337.7M182.2 320.2L194.5 337.0M204.5 321.6L212.5 335.6M226.6 324.7L230.7 332.5M248.7 326.8L248.9 330.4M268.8 329.9L269.1 327.3M288.9 330.3L289.3 326.9M308.7 331.6L309.8 325.6M329.1 330.5L329.7 326.7M349.0 330.0L350.1 327.2M368.6 329.9L370.8 327.3M388.5 330.2L391.2 327.0M408.3 331.0L411.7 326.2M429.5 332.0L430.8 325.2" stroke="#000" stroke-width="2.3" stroke-linecap="round" fill="none"/>
<polyline points="13.0,27.0 23.0,32.0 33.0,37.0 48.0,41.0 66.0,40.0 78.0,35.0 88.0,27.0" fill="none" stroke="#05fffa" stroke-width="3.5" stroke-linecap="round" stroke-linejoin="round" />
<polyline points="36.0,38.0 48.0,41.0 66.0,40.0 76.0,36.0" fill="none" stroke="#ff8000" stroke-width="1.8" stroke-linecap="round" stroke-linejoin="round" />
<polygon points="29.0,0.0 29.0,18.0 42.0,34.0 49.0,37.5 65.0,37.5 76.0,32.0 82.5,24.0 82.5,0.0" fill="#fff" />
<polygon points="0.0,62.7 4.2,61.6 8.4,52.2 20.9,50.1 41.8,46.0 52.2,46.0 62.7,41.8 73.1,38.6 81.5,35.5 90.0,42.0 99.0,52.0 99.0,67.0 88.0,80.0 78.0,93.0 75.0,108.0 73.1,110.0 66.8,115.3 58.5,117.4 55.4,120.5 52.2,128.8 38.6,129.9 38.6,133.0 35.5,139.3 18.8,139.3 10.4,136.2 6.3,134.0 0.0,133.0" fill="#fff" />
<polygon points="0.0,303.0 5.0,317.0 11.0,344.0 0.0,344.0" fill="#fff" />
<polygon points="234.7,270.3 242.0,264.0 249.3,247.3 267.1,245.2 277.5,241.0 290.0,241.0 294.2,245.2 276.5,263.0 257.7,264.0 257.7,273.4 245.1,273.4" fill="#fff" />
<ellipse cx="9.0" cy="3.0" rx="4" ry="3" fill="#fff" />
<rect x="127" y="220" width="7" height="4" fill="#fff"/>
<ellipse cx="128.0" cy="237.0" rx="2.5" ry="2.5" fill="#fff" />
</svg>
<div class="fr" style="left:189px;top:0px;width:450px;height:350px"></div>
<svg class="pn" style="left:793px;top:3px" width="445" height="344" viewBox="0 0 445 344">
<defs><filter id="fb" filterUnits="userSpaceOnUse" x="-55.6" y="-54.3" width="556.2" height="452.6" color-interpolation-filters="sRGB"><feGaussianBlur stdDeviation="6.0" result="bl"/><feComponentTransfer><feFuncR type="table" tableValues="0 0 0 0 0.5 1 1 1 0.5"/><feFuncG type="table" tableValues="0 0 0.5 1 1 1 0.5 0 0"/><feFuncB type="table" tableValues="0.5 1 1 1 0.5 0 0 0 0"/></feComponentTransfer></filter></defs>
<g filter="url(#fb)" shape-rendering="crispEdges">
<rect x="-55.6" y="-54.3" width="74.8" height="18.7" fill="#101010"/>
<rect x="18.5" y="-54.3" width="93.3" height="18.7" fill="#000000"/>
<rect x="111.2" y="-54.3" width="19.1" height="18.7" fill="#303030"/>
<rect x="129.8" y="-54.3" width="19.1" height="18.7" fill="#505050"/>
<rect x="148.3" y="-54.3" width="19.1" height="18.7" fill="#202020"/>
<rect x="166.9" y="-54.3" width="19.1" height="18.7" fill="#101010"/>
<rect x="185.4" y="-54.3" width="19.1" height="18.7" fill="#404040"/>
<rect x="204.0" y="-54.3" width="19.1" height="18.7" fill="#707070"/>
<rect x="222.5" y="-54.3" width="19.1" height="18.7" fill="#8f8f8f"/>
<rect x="241.0" y="-54.3" width="19.1" height="18.7" fill="#707070"/>
<rect x="259.6" y="-54.3" width="56.2" height="18.7" fill="#606060"/>
<rect x="315.2" y="-54.3" width="19.1" height="18.7" fill="#8f8f8f"/>
<rect x="333.8" y="-54.3" width="19.1" height="18.7" fill="#bfbfbf"/>
<rect x="352.3" y="-54.3" width="19.1" height="18.7" fill="#dfdfdf"/>
<rect x="370.8" y="-54.3" width="19.1" height="18.7" fill="#efefef"/>
<rect x="389.4" y="-54.3" width="111.8" height="18.7" fill="#ffffff"/>
<rect x="-55.6" y="-36.2" width="74.8" height="18.7" fill="#101010"/>
<rect x="18.5" y="-36.2" width="93.3" height="18.7" fill="#000000"/>
<rect x="111.2" y="-36.2" width="19.1" height="18.7" fill="#303030"/>
<rect x="129.8" y="-36.2" width="19.1" height="18.7" fill="#505050"/>
<rect x="148.3" y="-36.2" width="19.1" height="18.7" fill="#202020"/>
<rect x="166.9" y="-36.2" width="19.1" height="18.7" fill="#101010"/>
<rect x="185.4" y="-36.2" width="19.1" height="18.7" fill="#404040"/>
<rect x="204.0" y="-36.2" width="19.1" height="18.7" fill="#707070"/>
<rect x="222.5" y="-36.2" width="19.1" height="18.7" fill="#8f8f8f"/>
<rect x="241.0" y="-36.2" width="19.1" height="18.7" fill="#707070"/>
<rect x="259.6" y="-36.2" width="56.2" height="18.7" fill="#606060"/>
<rect x="315.2" y="-36.2" width="19.1" height="18.7" fill="#8f8f8f"/>
<rect x="333.8" y="-36.2" width="19.1" height="18.7" fill="#bfbfbf"/>
<rect x="352.3" y="-36.2" width="19.1" height="18.7" fill="#dfdfdf"/>
<rect x="370.8" y="-36.2" width="19.1" height="18.7" fill="#efefef"/>
<rect x="389.4" y="-36.2" width="111.8" height="18.7" fill="#ffffff"/>
<rect x="-55.6" y="-18.1" width="74.8" height="18.7" fill="#101010"/>
<rect x="18.5" y="-18.1" width="93.3" height="18.7" fill="#000000"/>
<rect x="111.2" y="-18.1" width="19.1" height="18.7" fill="#303030"/>
<rect x="129.8" y="-18.1" width="19.1" height="18.7" fill="#505050"/>
<rect x="148.3" y="-18.1" width="19.1" height="18.7" fill="#202020"/>
<rect x="166.9" y="-18.1" width="19.1" height="18.7" fill="#101010"/>
<rect x="185.4" y="-18.1" width="19.1" height="18.7" fill="#404040"/>
<rect x="204.0" y="-18.1" width="19.1" height="18.7" fill="#707070"/>
<rect x="222.5" y="-18.1" width="19.1" height="18.7" fill="#8f8f8f"/>
<rect x="241.0" y="-18.1" width="19.1" height="18.7" fill="#707070"/>
<rect x="259.6" y="-18.1" width="56.2" height="18.7" fill="#606060"/>
<rect x="315.2" y="-18.1" width="19.1" height="18.7" fill="#8f8f8f"/>
<rect x="333.8" y="-18.1" width="19.1" height="18.7" fill="#bfbfbf"/>
<rect x="352.3" y="-18.1" width="19.1" height="18.7" fill="#dfdfdf"/>
<rect x="370.8" y="-18.1" width="19.1" height="18.7" fill="#efefef"/>
<rect x="389.4" y="-18.1" width="111.8" height="18.7" fill="#ffffff"/>
<rect x="-55.6" y="0.0" width="74.8" height="18.7" fill="#101010"/>
<rect x="18.5" y="0.0" width="93.3" height="18.7" fill="#000000"/>
<rect x="111.2" y="0.0" width="19.1" height="18.7" fill="#303030"/>
<rect x="129.8" y="0.0" width="19.1" height="18.7" fill="#505050"/>
<rect x="148.3" y="0.0" width="19.1" height="18.7" fill="#202020"/>
<rect x="166.9" y="0.0" width="19.1" height="18.7" fill="#101010"/>
<rect x="185.4" y="0.0" width="19.1" height="18.7" fill="#404040"/>
<rect x="204.0" y="0.0" width="19.1" height="18.7" fill="#707070"/>
<rect x="222.5" y="0.0" width="19.1" height="18.7" fill="#8f8f8f"/>
<rect x="241.0" y="0.0" width="19.1" height="18.7" fill="#707070"/>
<rect x="259.6" y="0.0" width="56.2" height="18.7" fill="#606060"/>
<rect x="315.2" y="0.0" width="19.1" height="18.7" fill="#8f8f8f"/>
<rect x="333.8" y="0.0" width="19.1" height="18.7" fill="#bfbfbf"/>
<rect x="352.3" y="0.0" width="19.1" height="18.7" fill="#dfdfdf"/>
<rect x="370.8" y="0.0" width="19.1" height="18.7" fill="#efefef"/>
<rect x="389.4" y="0.0" width="111.8" height="18.7" fill="#ffffff"/>
<rect x="-55.6" y="18.1" width="74.8" height="18.7" fill="#202020"/>
<rect x="18.5" y="18.1" width="93.3" height="18.7" fill="#000000"/>
<rect x="111.2" y="18.1" width="19.1" height="18.7" fill="#505050"/>
<rect x="129.8" y="18.1" width="19.1" height="18.7" fill="#404040"/>
<rect x="148.3" y="18.1" width="19.1" height="18.7" fill="#505050"/>
<rect x="166.9" y="18.1" width="19.1" height="18.7" fill="#707070"/>
<rect x="185.4" y="18.1" width="19.1" height="18.7" fill="#8f8f8f"/>
<rect x="204.0" y="18.1" width="19.1" height="18.7" fill="#9f9f9f"/>
<rect x="222.5" y="18.1" width="19.1" height="18.7" fill="#8f8f8f"/>
<rect x="241.0" y="18.1" width="19.1" height="18.7" fill="#505050"/>
<rect x="259.6" y="18.1" width="19.1" height="18.7" fill="#404040"/>
<rect x="278.1" y="18.1" width="19.1" height="18.7" fill="#505050"/>
<rect x="296.7" y="18.1" width="19.1" height="18.7" fill="#afafaf"/>
<rect x="315.2" y="18.1" width="19.1" height="18.7" fill="#cfcfcf"/>
<rect x="333.8" y="18.1" width="37.7" height="18.7" fill="#dfdfdf"/>
<rect x="370.8" y="18.1" width="56.2" height="18.7" fill="#ffffff"/>
<rect x="426.5" y="18.1" width="74.8" height="18.7" fill="#efefef"/>
<rect x="-55.6" y="36.2" width="74.8" height="18.7" fill="#202020"/>
<rect x="18.5" y="36.2" width="93.3" height="18.7" fill="#000000"/>
<rect x="111.2" y="36.2" width="19.1" height="18.7" fill="#606060"/>
<rect x="129.8" y="36.2" width="19.1" height="18.7" fill="#808080"/>
<rect x="148.3" y="36.2" width="19.1" height="18.7" fill="#8f8f8f"/>
<rect x="166.9" y="36.2" width="19.1" height="18.7" fill="#707070"/>
<rect x="185.4" y="36.2" width="19.1" height="18.7" fill="#606060"/>
<rect x="204.0" y="36.2" width="19.1" height="18.7" fill="#505050"/>
<rect x="222.5" y="36.2" width="37.7" height="18.7" fill="#202020"/>
<rect x="259.6" y="36.2" width="19.1" height="18.7" fill="#707070"/>
<rect x="278.1" y="36.2" width="19.1" height="18.7" fill="#cfcfcf"/>
<rect x="296.7" y="36.2" width="37.7" height="18.7" fill="#efefef"/>
<rect x="333.8" y="36.2" width="37.7" height="18.7" fill="#ffffff"/>
<rect x="370.8" y="36.2" width="37.7" height="18.7" fill="#efefef"/>
<rect x="407.9" y="36.2" width="19.1" height="18.7" fill="#cfcfcf"/>
<rect x="426.5" y="36.2" width="74.8" height="18.7" fill="#afafaf"/>
<rect x="-55.6" y="54.3" width="74.8" height="18.7" fill="#101010"/>
<rect x="18.5" y="54.3" width="93.3" height="18.7" fill="#000000"/>
<rect x="111.2" y="54.3" width="19.1" height="18.7" fill="#707070"/>
<rect x="129.8" y="54.3" width="19.1" height="18.7" fill="#9f9f9f"/>
<rect x="148.3" y="54.3" width="19.1" height="18.7" fill="#606060"/>
<rect x="166.9" y="54.3" width="19.1" height="18.7" fill="#404040"/>
<rect x="185.4" y="54.3" width="19.1" height="18.7" fill="#202020"/>
<rect x="204.0" y="54.3" width="19.1" height="18.7" fill="#505050"/>
<rect x="222.5" y="54.3" width="19.1" height="18.7" fill="#afafaf"/>
<rect x="241.0" y="54.3" width="19.1" height="18.7" fill="#dfdfdf"/>
<rect x="259.6" y="54.3" width="19.1" height="18.7" fill="#efefef"/>
<rect x="278.1" y="54.3" width="74.8" height="18.7" fill="#ffffff"/>
<rect x="352.3" y="54.3" width="19.1" height="18.7" fill="#efefef"/>
<rect x="370.8" y="54.3" width="19.1" height="18.7" fill="#dfdfdf"/>
<rect x="389.4" y="54.3" width="19.1" height="18.7" fill="#bfbfbf"/>
<rect x="407.9" y="54.3" width="19.1" height="18.7" fill="#8f8f8f"/>
<rect x="426.5" y="54.3" width="74.8" height="18.7" fill="#707070"/>
<rect x="-55.6" y="72.4" width="167.5" height="18.7" fill="#000000"/>
<rect x="111.2" y="72.4" width="19.1" height="18.7" fill="#606060"/>
<rect x="129.8" y="72.4" width="19.1" height="18.7" fill="#9f9f9f"/>
<rect x="148.3" y="72.4" width="19.1" height="18.7" fill="#404040"/>
<rect x="166.9" y="72.4" width="19.1" height="18.7" fill="#202020"/>
<rect x="185.4" y="72.4" width="19.1" height="18.7" fill="#707070"/>
<rect x="204.0" y="72.4" width="19.1" height="18.7" fill="#bfbfbf"/>
<rect x="222.5" y="72.4" width="19.1" height="18.7" fill="#dfdfdf"/>
<rect x="241.0" y="72.4" width="19.1" height="18.7" fill="#efefef"/>
<rect x="259.6" y="72.4" width="37.7" height="18.7" fill="#ffffff"/>
<rect x="296.7" y="72.4" width="19.1" height="18.7" fill="#efefef"/>
<rect x="315.2" y="72.4" width="19.1" height="18.7" fill="#dfdfdf"/>
<rect x="333.8" y="72.4" width="19.1" height="18.7" fill="#cfcfcf"/>
<rect x="352.3" y="72.4" width="19.1" height="18.7" fill="#afafaf"/>
<rect x="370.8" y="72.4" width="19.1" height="18.7" fill="#9f9f9f"/>
<rect x="389.4" y="72.4" width="19.1" height="18.7" fill="#808080"/>
<rect x="407.9" y="72.4" width="93.3" height="18.7" fill="#707070"/>
<rect x="-55.6" y="90.5" width="167.5" height="18.7" fill="#000000"/>
<rect x="111.2" y="90.5" width="19.1" height="18.7" fill="#606060"/>
<rect x="129.8" y="90.5" width="19.1" height="18.7" fill="#707070"/>
<rect x="148.3" y="90.5" width="19.1" height="18.7" fill="#404040"/>
<rect x="166.9" y="90.5" width="19.1" height="18.7" fill="#afafaf"/>
<rect x="185.4" y="90.5" width="19.1" height="18.7" fill="#cfcfcf"/>
<rect x="204.0" y="90.5" width="56.2" height="18.7" fill="#dfdfdf"/>
<rect x="259.6" y="90.5" width="19.1" height="18.7" fill="#cfcfcf"/>
<rect x="278.1" y="90.5" width="37.7" height="18.7" fill="#afafaf"/>
<rect x="315.2" y="90.5" width="19.1" height="18.7" fill="#9f9f9f"/>
<rect x="333.8" y="90.5" width="19.1" height="18.7" fill="#8f8f8f"/>
<rect x="352.3" y="90.5" width="19.1" height="18.7" fill="#808080"/>
<rect x="370.8" y="90.5" width="19.1" height="18.7" fill="#707070"/>
<rect x="389.4" y="90.5" width="111.8" height="18.7" fill="#606060"/>
<rect x="-55.6" y="108.6" width="130.4" height="18.7" fill="#000000"/>
<rect x="74.2" y="108.6" width="37.7" height="18.7" fill="#303030"/>
<rect x="111.2" y="108.6" width="19.1" height="18.7" fill="#505050"/>
<rect x="129.8" y="108.6" width="19.1" height="18.7" fill="#707070"/>
<rect x="148.3" y="108.6" width="19.1" height="18.7" fill="#bfbfbf"/>
<rect x="166.9" y="108.6" width="37.7" height="18.7" fill="#cfcfcf"/>
<rect x="204.0" y="108.6" width="19.1" height="18.7" fill="#afafaf"/>
<rect x="222.5" y="108.6" width="19.1" height="18.7" fill="#808080"/>
<rect x="241.0" y="108.6" width="19.1" height="18.7" fill="#606060"/>
<rect x="259.6" y="108.6" width="19.1" height="18.7" fill="#505050"/>
<rect x="278.1" y="108.6" width="56.2" height="18.7" fill="#202020"/>
<rect x="333.8" y="108.6" width="19.1" height="18.7" fill="#404040"/>
<rect x="352.3" y="108.6" width="19.1" height="18.7" fill="#505050"/>
<rect x="370.8" y="108.6" width="56.2" height="18.7" fill="#606060"/>
<rect x="426.5" y="108.6" width="74.8" height="18.7" fill="#505050"/>
<rect x="-55.6" y="126.7" width="130.4" height="18.7" fill="#000000"/>
<rect x="74.2" y="126.7" width="19.1" height="18.7" fill="#101010"/>
<rect x="92.7" y="126.7" width="19.1" height="18.7" fill="#303030"/>
<rect x="111.2" y="126.7" width="19.1" height="18.7" fill="#707070"/>
<rect x="129.8" y="126.7" width="19.1" height="18.7" fill="#bfbfbf"/>
<rect x="148.3" y="126.7" width="19.1" height="18.7" fill="#dfdfdf"/>
<rect x="166.9" y="126.7" width="19.1" height="18.7" fill="#cfcfcf"/>
<rect x="185.4" y="126.7" width="19.1" height="18.7" fill="#afafaf"/>
<rect x="204.0" y="126.7" width="19.1" height="18.7" fill="#707070"/>
<rect x="222.5" y="126.7" width="19.1" height="18.7" fill="#404040"/>
<rect x="241.0" y="126.7" width="19.1" height="18.7" fill="#101010"/>
<rect x="259.6" y="126.7" width="19.1" height="18.7" fill="#202020"/>
<rect x="278.1" y="126.7" width="19.1" height="18.7" fill="#404040"/>
<rect x="296.7" y="126.7" width="19.1" height="18.7" fill="#101010"/>
<rect x="315.2" y="126.7" width="19.1" height="18.7" fill="#202020"/>
<rect x="333.8" y="126.7" width="19.1" height="18.7" fill="#101010"/>
<rect x="352.3" y="126.7" width="19.1" height="18.7" fill="#202020"/>
<rect x="370.8" y="126.7" width="19.1" height="18.7" fill="#505050"/>
<rect x="389.4" y="126.7" width="37.7" height="18.7" fill="#606060"/>
<rect x="426.5" y="126.7" width="74.8" height="18.7" fill="#404040"/>
<rect x="-55.6" y="144.8" width="111.8" height="18.7" fill="#000000"/>
<rect x="55.6" y="144.8" width="19.1" height="18.7" fill="#101010"/>
<rect x="74.2" y="144.8" width="19.1" height="18.7" fill="#202020"/>
<rect x="92.7" y="144.8" width="19.1" height="18.7" fill="#707070"/>
<rect x="111.2" y="144.8" width="19.1" height="18.7" fill="#afafaf"/>
<rect x="129.8" y="144.8" width="19.1" height="18.7" fill="#cfcfcf"/>
<rect x="148.3" y="144.8" width="19.1" height="18.7" fill="#afafaf"/>
<rect x="166.9" y="144.8" width="19.1" height="18.7" fill="#8f8f8f"/>
<rect x="185.4" y="144.8" width="19.1" height="18.7" fill="#606060"/>
<rect x="204.0" y="144.8" width="19.1" height="18.7" fill="#404040"/>
<rect x="222.5" y="144.8" width="37.7" height="18.7" fill="#202020"/>
<rect x="259.6" y="144.8" width="19.1" height="18.7" fill="#505050"/>
<rect x="278.1" y="144.8" width="19.1" height="18.7" fill="#606060"/>
<rect x="296.7" y="144.8" width="19.1" height="18.7" fill="#505050"/>
<rect x="315.2" y="144.8" width="19.1" height="18.7" fill="#404040"/>
<rect x="333.8" y="144.8" width="19.1" height="18.7" fill="#101010"/>
<rect x="352.3" y="144.8" width="19.1" height="18.7" fill="#000000"/>
<rect x="370.8" y="144.8" width="19.1" height="18.7" fill="#202020"/>
<rect x="389.4" y="144.8" width="19.1" height="18.7" fill="#505050"/>
<rect x="407.9" y="144.8" width="19.1" height="18.7" fill="#606060"/>
<rect x="426.5" y="144.8" width="74.8" height="18.7" fill="#404040"/>
<rect x="-55.6" y="162.9" width="74.8" height="18.7" fill="#202020"/>
<rect x="18.5" y="162.9" width="37.7" height="18.7" fill="#101010"/>
<rect x="55.6" y="162.9" width="19.1" height="18.7" fill="#505050"/>
<rect x="74.2" y="162.9" width="19.1" height="18.7" fill="#8f8f8f"/>
<rect x="92.7" y="162.9" width="19.1" height="18.7" fill="#9f9f9f"/>
<rect x="111.2" y="162.9" width="19.1" height="18.7" fill="#707070"/>
<rect x="129.8" y="162.9" width="19.1" height="18.7" fill="#505050"/>
<rect x="148.3" y="162.9" width="19.1" height="18.7" fill="#404040"/>
<rect x="166.9" y="162.9" width="19.1" height="18.7" fill="#202020"/>
<rect x="185.4" y="162.9" width="37.7" height="18.7" fill="#404040"/>
<rect x="222.5" y="162.9" width="19.1" height="18.7" fill="#505050"/>
<rect x="241.0" y="162.9" width="56.2" height="18.7" fill="#606060"/>
<rect x="296.7" y="162.9" width="19.1" height="18.7" fill="#505050"/>
<rect x="315.2" y="162.9" width="19.1" height="18.7" fill="#404040"/>
<rect x="333.8" y="162.9" width="19.1" height="18.7" fill="#202020"/>
<rect x="352.3" y="162.9" width="19.1" height="18.7" fill="#101010"/>
<rect x="370.8" y="162.9" width="19.1" height="18.7" fill="#202020"/>
<rect x="389.4" y="162.9" width="19.1" height="18.7" fill="#505050"/>
<rect x="407.9" y="162.9" width="93.3" height="18.7" fill="#606060"/>
<rect x="-55.6" y="181.1" width="74.8" height="18.7" fill="#505050"/>
<rect x="18.5" y="181.1" width="19.1" height="18.7" fill="#404040"/>
<rect x="37.1" y="181.1" width="19.1" height="18.7" fill="#707070"/>
<rect x="55.6" y="181.1" width="19.1" height="18.7" fill="#bfbfbf"/>
<rect x="74.2" y="181.1" width="19.1" height="18.7" fill="#afafaf"/>
<rect x="92.7" y="181.1" width="19.1" height="18.7" fill="#606060"/>
<rect x="111.2" y="181.1" width="19.1" height="18.7" fill="#202020"/>
<rect x="129.8" y="181.1" width="37.7" height="18.7" fill="#101010"/>
<rect x="166.9" y="181.1" width="19.1" height="18.7" fill="#202020"/>
<rect x="185.4" y="181.1" width="19.1" height="18.7" fill="#505050"/>
<rect x="204.0" y="181.1" width="19.1" height="18.7" fill="#707070"/>
<rect x="222.5" y="181.1" width="19.1" height="18.7" fill="#808080"/>
<rect x="241.0" y="181.1" width="19.1" height="18.7" fill="#606060"/>
<rect x="259.6" y="181.1" width="19.1" height="18.7" fill="#505050"/>
<rect x="278.1" y="181.1" width="74.8" height="18.7" fill="#404040"/>
<rect x="352.3" y="181.1" width="19.1" height="18.7" fill="#202020"/>
<rect x="370.8" y="181.1" width="19.1" height="18.7" fill="#505050"/>
<rect x="389.4" y="181.1" width="19.1" height="18.7" fill="#606060"/>
<rect x="407.9" y="181.1" width="19.1" height="18.7" fill="#707070"/>
<rect x="426.5" y="181.1" width="74.8" height="18.7" fill="#808080"/>
<rect x="-55.6" y="199.2" width="74.8" height="18.7" fill="#9f9f9f"/>
<rect x="18.5" y="199.2" width="19.1" height="18.7" fill="#afafaf"/>
<rect x="37.1" y="199.2" width="19.1" height="18.7" fill="#cfcfcf"/>
<rect x="55.6" y="199.2" width="19.1" height="18.7" fill="#dfdfdf"/>
<rect x="74.2" y="199.2" width="19.1" height="18.7" fill="#707070"/>
<rect x="92.7" y="199.2" width="19.1" height="18.7" fill="#404040"/>
<rect x="111.2" y="199.2" width="56.2" height="18.7" fill="#202020"/>
<rect x="166.9" y="199.2" width="19.1" height="18.7" fill="#404040"/>
<rect x="185.4" y="199.2" width="19.1" height="18.7" fill="#707070"/>
<rect x="204.0" y="199.2" width="37.7" height="18.7" fill="#8f8f8f"/>
<rect x="241.0" y="199.2" width="19.1" height="18.7" fill="#606060"/>
<rect x="259.6" y="199.2" width="19.1" height="18.7" fill="#505050"/>
<rect x="278.1" y="199.2" width="19.1" height="18.7" fill="#202020"/>
<rect x="296.7" y="199.2" width="37.7" height="18.7" fill="#404040"/>
<rect x="333.8" y="199.2" width="19.1" height="18.7" fill="#505050"/>
<rect x="352.3" y="199.2" width="19.1" height="18.7" fill="#606060"/>
<rect x="370.8" y="199.2" width="19.1" height="18.7" fill="#808080"/>
<rect x="389.4" y="199.2" width="19.1" height="18.7" fill="#9f9f9f"/>
<rect x="407.9" y="199.2" width="93.3" height="18.7" fill="#afafaf"/>
<rect x="-55.6" y="217.3" width="74.8" height="18.7" fill="#808080"/>
<rect x="18.5" y="217.3" width="37.7" height="18.7" fill="#afafaf"/>
<rect x="55.6" y="217.3" width="19.1" height="18.7" fill="#808080"/>
<rect x="74.2" y="217.3" width="19.1" height="18.7" fill="#505050"/>
<rect x="92.7" y="217.3" width="37.7" height="18.7" fill="#202020"/>
<rect x="129.8" y="217.3" width="19.1" height="18.7" fill="#404040"/>
<rect x="148.3" y="217.3" width="19.1" height="18.7" fill="#505050"/>
<rect x="166.9" y="217.3" width="19.1" height="18.7" fill="#606060"/>
<rect x="185.4" y="217.3" width="19.1" height="18.7" fill="#707070"/>
<rect x="204.0" y="217.3" width="19.1" height="18.7" fill="#8f8f8f"/>
<rect x="222.5" y="217.3" width="19.1" height="18.7" fill="#707070"/>
<rect x="241.0" y="217.3" width="19.1" height="18.7" fill="#505050"/>
<rect x="259.6" y="217.3" width="37.7" height="18.7" fill="#202020"/>
<rect x="296.7" y="217.3" width="19.1" height="18.7" fill="#404040"/>
<rect x="315.2" y="217.3" width="19.1" height="18.7" fill="#606060"/>
<rect x="333.8" y="217.3" width="19.1" height="18.7" fill="#808080"/>
<rect x="352.3" y="217.3" width="19.1" height="18.7" fill="#9f9f9f"/>
<rect x="370.8" y="217.3" width="56.2" height="18.7" fill="#afafaf"/>
<rect x="426.5" y="217.3" width="74.8" height="18.7" fill="#bfbfbf"/>
<rect x="-55.6" y="235.4" width="74.8" height="18.7" fill="#505050"/>
<rect x="18.5" y="235.4" width="19.1" height="18.7" fill="#606060"/>
<rect x="37.1" y="235.4" width="19.1" height="18.7" fill="#707070"/>
<rect x="55.6" y="235.4" width="19.1" height="18.7" fill="#505050"/>
<rect x="74.2" y="235.4" width="74.8" height="18.7" fill="#404040"/>
<rect x="148.3" y="235.4" width="19.1" height="18.7" fill="#505050"/>
<rect x="166.9" y="235.4" width="19.1" height="18.7" fill="#606060"/>
<rect x="185.4" y="235.4" width="19.1" height="18.7" fill="#707070"/>
<rect x="204.0" y="235.4" width="19.1" height="18.7" fill="#808080"/>
<rect x="222.5" y="235.4" width="19.1" height="18.7" fill="#606060"/>
<rect x="241.0" y="235.4" width="19.1" height="18.7" fill="#404040"/>
<rect x="259.6" y="235.4" width="37.7" height="18.7" fill="#101010"/>
<rect x="296.7" y="235.4" width="19.1" height="18.7" fill="#404040"/>
<rect x="315.2" y="235.4" width="19.1" height="18.7" fill="#606060"/>
<rect x="333.8" y="235.4" width="19.1" height="18.7" fill="#8f8f8f"/>
<rect x="352.3" y="235.4" width="19.1" height="18.7" fill="#afafaf"/>
<rect x="370.8" y="235.4" width="19.1" height="18.7" fill="#bfbfbf"/>
<rect x="389.4" y="235.4" width="37.7" height="18.7" fill="#cfcfcf"/>
<rect x="426.5" y="235.4" width="74.8" height="18.7" fill="#dfdfdf"/>
<rect x="-55.6" y="253.5" width="74.8" height="18.7" fill="#202020"/>
<rect x="18.5" y="253.5" width="37.7" height="18.7" fill="#505050"/>
<rect x="55.6" y="253.5" width="19.1" height="18.7" fill="#101010"/>
<rect x="74.2" y="253.5" width="19.1" height="18.7" fill="#404040"/>
<rect x="92.7" y="253.5" width="37.7" height="18.7" fill="#606060"/>
<rect x="129.8" y="253.5" width="19.1" height="18.7" fill="#505050"/>
<rect x="148.3" y="253.5" width="56.2" height="18.7" fill="#606060"/>
<rect x="204.0" y="253.5" width="19.1" height="18.7" fill="#707070"/>
<rect x="222.5" y="253.5" width="19.1" height="18.7" fill="#606060"/>
<rect x="241.0" y="253.5" width="19.1" height="18.7" fill="#404040"/>
<rect x="259.6" y="253.5" width="19.1" height="18.7" fill="#101010"/>
<rect x="278.1" y="253.5" width="19.1" height="18.7" fill="#202020"/>
<rect x="296.7" y="253.5" width="19.1" height="18.7" fill="#505050"/>
<rect x="315.2" y="253.5" width="19.1" height="18.7" fill="#707070"/>
<rect x="333.8" y="253.5" width="19.1" height="18.7" fill="#9f9f9f"/>
<rect x="352.3" y="253.5" width="19.1" height="18.7" fill="#afafaf"/>
<rect x="370.8" y="253.5" width="19.1" height="18.7" fill="#bfbfbf"/>
<rect x="389.4" y="253.5" width="19.1" height="18.7" fill="#cfcfcf"/>
<rect x="407.9" y="253.5" width="93.3" height="18.7" fill="#dfdfdf"/>
<rect x="-55.6" y="271.6" width="74.8" height="18.7" fill="#202020"/>
<rect x="18.5" y="271.6" width="19.1" height="18.7" fill="#808080"/>
<rect x="37.1" y="271.6" width="19.1" height="18.7" fill="#505050"/>
<rect x="55.6" y="271.6" width="19.1" height="18.7" fill="#000000"/>
<rect x="74.2" y="271.6" width="19.1" height="18.7" fill="#404040"/>
<rect x="92.7" y="271.6" width="56.2" height="18.7" fill="#707070"/>
<rect x="148.3" y="271.6" width="74.8" height="18.7" fill="#606060"/>
<rect x="222.5" y="271.6" width="19.1" height="18.7" fill="#505050"/>
<rect x="241.0" y="271.6" width="19.1" height="18.7" fill="#404040"/>
<rect x="259.6" y="271.6" width="19.1" height="18.7" fill="#202020"/>
<rect x="278.1" y="271.6" width="19.1" height="18.7" fill="#404040"/>
<rect x="296.7" y="271.6" width="19.1" height="18.7" fill="#606060"/>
<rect x="315.2" y="271.6" width="19.1" height="18.7" fill="#8f8f8f"/>
<rect x="333.8" y="271.6" width="19.1" height="18.7" fill="#9f9f9f"/>
<rect x="352.3" y="271.6" width="19.1" height="18.7" fill="#afafaf"/>
<rect x="370.8" y="271.6" width="19.1" height="18.7" fill="#bfbfbf"/>
<rect x="389.4" y="271.6" width="111.8" height="18.7" fill="#dfdfdf"/>
<rect x="-55.6" y="289.7" width="74.8" height="18.7" fill="#202020"/>
<rect x="18.5" y="289.7" width="19.1" height="18.7" fill="#9f9f9f"/>
<rect x="37.1" y="289.7" width="19.1" height="18.7" fill="#606060"/>
<rect x="55.6" y="289.7" width="19.1" height="18.7" fill="#101010"/>
<rect x="74.2" y="289.7" width="19.1" height="18.7" fill="#505050"/>
<rect x="92.7" y="289.7" width="37.7" height="18.7" fill="#808080"/>
<rect x="129.8" y="289.7" width="19.1" height="18.7" fill="#707070"/>
<rect x="148.3" y="289.7" width="19.1" height="18.7" fill="#606060"/>
<rect x="166.9" y="289.7" width="19.1" height="18.7" fill="#505050"/>
<rect x="185.4" y="289.7" width="37.7" height="18.7" fill="#404040"/>
<rect x="222.5" y="289.7" width="19.1" height="18.7" fill="#505050"/>
<rect x="241.0" y="289.7" width="37.7" height="18.7" fill="#404040"/>
<rect x="278.1" y="289.7" width="19.1" height="18.7" fill="#606060"/>
<rect x="296.7" y="289.7" width="19.1" height="18.7" fill="#707070"/>
<rect x="315.2" y="289.7" width="19.1" height="18.7" fill="#9f9f9f"/>
<rect x="333.8" y="289.7" width="37.7" height="18.7" fill="#afafaf"/>
<rect x="370.8" y="289.7" width="37.7" height="18.7" fill="#bfbfbf"/>
<rect x="407.9" y="289.7" width="93.3" height="18.7" fill="#afafaf"/>
<rect x="-55.6" y="307.8" width="74.8" height="18.7" fill="#101010"/>
<rect x="18.5" y="307.8" width="19.1" height="18.7" fill="#afafaf"/>
<rect x="37.1" y="307.8" width="19.1" height="18.7" fill="#606060"/>
<rect x="55.6" y="307.8" width="19.1" height="18.7" fill="#101010"/>
<rect x="74.2" y="307.8" width="19.1" height="18.7" fill="#505050"/>
<rect x="92.7" y="307.8" width="19.1" height="18.7" fill="#8f8f8f"/>
<rect x="111.2" y="307.8" width="19.1" height="18.7" fill="#808080"/>
<rect x="129.8" y="307.8" width="19.1" height="18.7" fill="#707070"/>
<rect x="148.3" y="307.8" width="74.8" height="18.7" fill="#606060"/>
<rect x="222.5" y="307.8" width="19.1" height="18.7" fill="#505050"/>
<rect x="241.0" y="307.8" width="19.1" height="18.7" fill="#606060"/>
<rect x="259.6" y="307.8" width="19.1" height="18.7" fill="#707070"/>
<rect x="278.1" y="307.8" width="19.1" height="18.7" fill="#808080"/>
<rect x="296.7" y="307.8" width="19.1" height="18.7" fill="#8f8f8f"/>
<rect x="315.2" y="307.8" width="19.1" height="18.7" fill="#9f9f9f"/>
<rect x="333.8" y="307.8" width="37.7" height="18.7" fill="#afafaf"/>
<rect x="370.8" y="307.8" width="19.1" height="18.7" fill="#9f9f9f"/>
<rect x="389.4" y="307.8" width="19.1" height="18.7" fill="#8f8f8f"/>
<rect x="407.9" y="307.8" width="19.1" height="18.7" fill="#707070"/>
<rect x="426.5" y="307.8" width="74.8" height="18.7" fill="#606060"/>
<rect x="-55.6" y="325.9" width="74.8" height="18.7" fill="#404040"/>
<rect x="18.5" y="325.9" width="19.1" height="18.7" fill="#afafaf"/>
<rect x="37.1" y="325.9" width="19.1" height="18.7" fill="#707070"/>
<rect x="55.6" y="325.9" width="19.1" height="18.7" fill="#202020"/>
<rect x="74.2" y="325.9" width="19.1" height="18.7" fill="#606060"/>
<rect x="92.7" y="325.9" width="19.1" height="18.7" fill="#9f9f9f"/>
<rect x="111.2" y="325.9" width="19.1" height="18.7" fill="#808080"/>
<rect x="129.8" y="325.9" width="19.1" height="18.7" fill="#707070"/>
<rect x="148.3" y="325.9" width="19.1" height="18.7" fill="#606060"/>
<rect x="166.9" y="325.9" width="19.1" height="18.7" fill="#707070"/>
<rect x="185.4" y="325.9" width="56.2" height="18.7" fill="#606060"/>
<rect x="241.0" y="325.9" width="19.1" height="18.7" fill="#707070"/>
<rect x="259.6" y="325.9" width="19.1" height="18.7" fill="#808080"/>
<rect x="278.1" y="325.9" width="74.8" height="18.7" fill="#9f9f9f"/>
<rect x="352.3" y="325.9" width="19.1" height="18.7" fill="#8f8f8f"/>
<rect x="370.8" y="325.9" width="19.1" height="18.7" fill="#808080"/>
<rect x="389.4" y="325.9" width="19.1" height="18.7" fill="#606060"/>
<rect x="407.9" y="325.9" width="19.1" height="18.7" fill="#505050"/>
<rect x="426.5" y="325.9" width="74.8" height="18.7" fill="#202020"/>
<rect x="-55.6" y="344.0" width="74.8" height="18.7" fill="#404040"/>
<rect x="18.5" y="344.0" width="19.1" height="18.7" fill="#afafaf"/>
<rect x="37.1" y="344.0" width="19.1" height="18.7" fill="#707070"/>
<rect x="55.6" y="344.0" width="19.1" height="18.7" fill="#202020"/>
<rect x="74.2" y="344.0" width="19.1" height="18.7" fill="#606060"/>
<rect x="92.7" y="344.0" width="19.1" height="18.7" fill="#9f9f9f"/>
<rect x="111.2" y="344.0" width="19.1" height="18.7" fill="#808080"/>
<rect x="129.8" y="344.0" width="19.1" height="18.7" fill="#707070"/>
<rect x="148.3" y="344.0" width="19.1" height="18.7" fill="#606060"/>
<rect x="166.9" y="344.0" width="19.1" height="18.7" fill="#707070"/>
<rect x="185.4" y="344.0" width="56.2" height="18.7" fill="#606060"/>
<rect x="241.0" y="344.0" width="19.1" height="18.7" fill="#707070"/>
<rect x="259.6" y="344.0" width="19.1" height="18.7" fill="#808080"/>
<rect x="278.1" y="344.0" width="74.8" height="18.7" fill="#9f9f9f"/>
<rect x="352.3" y="344.0" width="19.1" height="18.7" fill="#8f8f8f"/>
<rect x="370.8" y="344.0" width="19.1" height="18.7" fill="#808080"/>
<rect x="389.4" y="344.0" width="19.1" height="18.7" fill="#606060"/>
<rect x="407.9" y="344.0" width="19.1" height="18.7" fill="#505050"/>
<rect x="426.5" y="344.0" width="74.8" height="18.7" fill="#202020"/>
<rect x="-55.6" y="362.1" width="74.8" height="18.7" fill="#404040"/>
<rect x="18.5" y="362.1" width="19.1" height="18.7" fill="#afafaf"/>
<rect x="37.1" y="362.1" width="19.1" height="18.7" fill="#707070"/>
<rect x="55.6" y="362.1" width="19.1" height="18.7" fill="#202020"/>
<rect x="74.2" y="362.1" width="19.1" height="18.7" fill="#606060"/>
<rect x="92.7" y="362.1" width="19.1" height="18.7" fill="#9f9f9f"/>
<rect x="111.2" y="362.1" width="19.1" height="18.7" fill="#808080"/>
<rect x="129.8" y="362.1" width="19.1" height="18.7" fill="#707070"/>
<rect x="148.3" y="362.1" width="19.1" height="18.7" fill="#606060"/>
<rect x="166.9" y="362.1" width="19.1" height="18.7" fill="#707070"/>
<rect x="185.4" y="362.1" width="56.2" height="18.7" fill="#606060"/>
<rect x="241.0" y="362.1" width="19.1" height="18.7" fill="#707070"/>
<rect x="259.6" y="362.1" width="19.1" height="18.7" fill="#808080"/>
<rect x="278.1" y="362.1" width="74.8" height="18.7" fill="#9f9f9f"/>
<rect x="352.3" y="362.1" width="19.1" height="18.7" fill="#8f8f8f"/>
<rect x="370.8" y="362.1" width="19.1" height="18.7" fill="#808080"/>
<rect x="389.4" y="362.1" width="19.1" height="18.7" fill="#606060"/>
<rect x="407.9" y="362.1" width="19.1" height="18.7" fill="#505050"/>
<rect x="426.5" y="362.1" width="74.8" height="18.7" fill="#202020"/>
<rect x="-55.6" y="380.2" width="74.8" height="18.7" fill="#404040"/>
<rect x="18.5" y="380.2" width="19.1" height="18.7" fill="#afafaf"/>
<rect x="37.1" y="380.2" width="19.1" height="18.7" fill="#707070"/>
<rect x="55.6" y="380.2" width="19.1" height="18.7" fill="#202020"/>
<rect x="74.2" y="380.2" width="19.1" height="18.7" fill="#606060"/>
<rect x="92.7" y="380.2" width="19.1" height="18.7" fill="#9f9f9f"/>
<rect x="111.2" y="380.2" width="19.1" height="18.7" fill="#808080"/>
<rect x="129.8" y="380.2" width="19.1" height="18.7" fill="#707070"/>
<rect x="148.3" y="380.2" width="19.1" height="18.7" fill="#606060"/>
<rect x="166.9" y="380.2" width="19.1" height="18.7" fill="#707070"/>
<rect x="185.4" y="380.2" width="56.2" height="18.7" fill="#606060"/>
<rect x="241.0" y="380.2" width="19.1" height="18.7" fill="#707070"/>
<rect x="259.6" y="380.2" width="19.1" height="18.7" fill="#808080"/>
<rect x="278.1" y="380.2" width="74.8" height="18.7" fill="#9f9f9f"/>
<rect x="352.3" y="380.2" width="19.1" height="18.7" fill="#8f8f8f"/>
<rect x="370.8" y="380.2" width="19.1" height="18.7" fill="#808080"/>
<rect x="389.4" y="380.2" width="19.1" height="18.7" fill="#606060"/>
<rect x="407.9" y="380.2" width="19.1" height="18.7" fill="#505050"/>
<rect x="426.5" y="380.2" width="74.8" height="18.7" fill="#202020"/>
<polygon points="73.0,0.0 110.0,0.0 110.0,108.0 73.0,108.0" fill="#000000" />
<polygon points="83.0,0.0 134.0,0.0 134.0,8.0 83.0,8.0" fill="#000000" />
<polygon points="107.5,53.0 123.8,37.7 140.9,26.8 160.2,19.5 184.4,13.7 199.2,10.8 194.8,-10.8 179.6,-7.7 153.8,-1.5 131.1,7.2 110.2,20.3 92.5,37.0" fill="#424242" />
<polygon points="104.1,49.4 120.7,33.7 138.7,22.4 158.7,14.7 183.3,8.9 198.2,5.9 195.8,-5.9 180.7,-2.9 155.3,3.3 133.3,11.6 113.3,24.3 95.9,40.6" fill="#292929" />
<polygon points="152.4,58.8 174.3,48.9 191.7,41.1 225.5,29.2 258.8,16.1 273.8,10.1 264.2,-14.1 249.2,-8.1 216.5,4.8 182.3,16.9 163.7,25.1 141.6,35.2" fill="#8c8c8c" />
<polygon points="149.9,53.4 171.9,43.4 189.5,35.5 223.4,23.6 256.6,10.5 271.6,4.5 266.4,-8.5 251.4,-2.5 218.6,10.4 184.5,22.5 166.1,30.6 144.1,40.6" fill="#a8a8a8" />
<ellipse cx="137.0" cy="62.0" rx="6" ry="14" transform="rotate(10 137.0 62.0)" fill="#b8b8b8"/>
<polygon points="139.5,103.3 158.1,92.5 170.4,86.8 192.6,76.7 213.0,66.5 234.3,54.9 255.8,47.4 277.1,41.8 303.0,40.0 301.0,14.0 272.9,16.2 248.2,22.6 223.7,31.1 201.0,43.5 181.4,53.3 159.6,63.2 145.9,69.5 126.5,80.7" fill="#383838" />
<polygon points="136.5,98.1 155.3,87.2 167.9,81.4 190.0,71.3 210.2,61.2 231.8,49.4 254.0,41.7 276.1,35.9 302.5,34.0 301.5,20.0 273.9,22.1 250.0,28.3 226.2,36.6 203.8,48.8 184.0,58.7 162.1,68.6 148.7,74.8 129.5,85.9" fill="#121212" />
<ellipse cx="251.0" cy="140.0" rx="40" ry="20" transform="rotate(-14 251.0 140.0)" fill="#404040"/>
<ellipse cx="251.0" cy="140.0" rx="30" ry="12" transform="rotate(-14 251.0 140.0)" fill="#1f1f1f"/>
<ellipse cx="247.0" cy="142.0" rx="18" ry="7" transform="rotate(-14 247.0 142.0)" fill="#050505"/>
<ellipse cx="360.0" cy="155.0" rx="34" ry="25" transform="rotate(35 360.0 155.0)" fill="#404040"/>
<ellipse cx="360.0" cy="155.0" rx="24" ry="16" transform="rotate(35 360.0 155.0)" fill="#1a1a1a"/>
<ellipse cx="360.0" cy="157.0" rx="12" ry="8" transform="rotate(35 360.0 157.0)" fill="#000000"/>
<ellipse cx="135.0" cy="195.0" rx="60" ry="21" transform="rotate(-23 135.0 195.0)" fill="#404040"/>
<ellipse cx="135.0" cy="195.0" rx="52" ry="13" transform="rotate(-23 135.0 195.0)" fill="#1a1a1a"/>
<ellipse cx="137.0" cy="194.0" rx="42" ry="8" transform="rotate(-23 137.0 194.0)" fill="#050505"/>
<polygon points="44.0,246.4 42.0,296.4 40.0,351.5 70.0,352.5 72.0,297.6 74.0,247.6" fill="#383838" />
<polygon points="51.0,246.7 49.0,296.7 47.0,351.7 63.0,352.3 65.0,297.3 67.0,247.3" fill="#0d0d0d" />
<polygon points="23.0,269.0 22.0,307.0 22.0,352.0 44.0,352.0 44.0,307.0 43.0,269.0" fill="#858585" />
<polygon points="28.0,269.0 27.0,307.0 27.0,352.0 39.0,352.0 39.0,307.0 38.0,269.0" fill="#adadad" />
<ellipse cx="279.0" cy="255.0" rx="36" ry="58" transform="rotate(10 279.0 255.0)" fill="#474747"/>
<ellipse cx="281.0" cy="247.0" rx="24" ry="40" transform="rotate(10 281.0 247.0)" fill="#292929"/>
<ellipse cx="287.0" cy="232.0" rx="10" ry="16" transform="rotate(10 287.0 232.0)" fill="#0a0a0a"/>
<polygon points="436.2,-47.5 427.3,-44.5 392.6,-25.2 348.2,-2.0 302.9,17.8 256.0,37.2 208.3,57.3 173.8,73.3 140.1,94.4 107.9,115.1 75.1,139.3 41.6,164.8 18.5,182.0 -2.1,200.1 -18.3,206.9 2.3,261.1 28.1,251.9 58.3,232.0 79.8,211.2 109.9,185.7 140.7,165.3 171.9,147.6 202.2,130.7 231.3,121.3 279.0,109.6 327.7,100.2 377.8,91.4 429.0,82.8 468.7,76.7 477.8,73.5" fill="#737373" />
<polygon points="438.8,-39.9 429.9,-36.9 395.2,-17.6 350.6,5.6 305.2,25.5 258.4,44.8 211.0,64.8 177.3,80.5 144.2,101.3 112.3,121.8 79.9,145.7 46.7,171.0 23.4,188.2 1.9,207.0 -15.5,214.4 -0.5,253.6 24.1,245.0 53.4,225.8 74.7,205.0 105.1,179.3 136.3,158.6 167.8,140.7 198.7,123.5 228.6,113.8 276.6,102.0 325.4,92.5 375.4,83.8 426.4,75.2 466.1,69.1 475.2,65.9" fill="#999999" />
<polygon points="441.0,-33.3 432.1,-30.3 397.4,-11.0 352.7,12.3 307.2,32.2 260.5,51.5 213.4,71.4 180.4,86.8 147.8,107.3 116.1,127.6 84.1,151.3 51.2,176.4 27.8,193.7 5.5,213.0 -13.0,220.9 -3.0,247.1 20.5,239.0 49.0,220.3 70.2,199.6 100.9,173.7 132.5,152.8 164.2,134.7 195.6,117.2 226.2,107.2 274.5,95.3 323.4,85.8 373.3,77.1 424.2,68.6 463.9,62.5 473.0,59.3" fill="#c7c7c7" />
<polygon points="442.7,-28.6 433.8,-25.5 399.0,-6.3 354.3,17.0 308.7,37.0 262.1,56.2 215.1,76.1 182.7,91.3 150.3,111.6 118.8,131.8 87.1,155.3 54.3,180.3 30.9,197.6 8.0,217.4 -11.2,225.6 -4.8,242.4 18.0,234.6 45.9,216.4 67.1,195.7 97.9,169.7 129.8,148.6 161.7,130.4 193.3,112.7 224.5,102.5 272.9,90.6 321.9,81.0 371.7,72.4 422.6,63.9 462.2,57.7 471.3,54.6" fill="#e6e6e6" />
<polygon points="444.0,-24.8 435.1,-21.7 400.3,-2.5 355.5,20.9 309.8,40.8 263.3,60.1 216.4,79.9 185.0,94.6 191.0,109.4 223.2,98.7 271.7,86.7 320.8,77.2 370.5,68.5 421.3,60.1 460.9,53.9 470.0,50.8" fill="#ffffff" />
<polygon points="108.6,144.1 88.4,158.2 71.2,172.4 78.8,181.6 95.6,167.8 115.4,153.9" fill="#bdbdbd" />
<polygon points="19.2,213.7 4.2,221.7 -11.7,229.6 -6.3,240.4 9.8,232.3 24.8,224.3" fill="#adadad" />
<ellipse cx="45.0" cy="206.0" rx="26" ry="9" transform="rotate(-22 45.0 206.0)" fill="#f2f2f2"/>
<polygon points="348.7,348.2 382.2,324.3 413.5,304.0 442.7,285.6 474.3,266.8 443.7,215.2 411.3,234.4 380.5,254.0 347.8,277.7 315.3,305.8" fill="#949494" />
<polygon points="343.1,341.1 376.9,317.1 408.6,296.5 438.0,277.9 469.7,259.1 448.3,222.9 416.0,242.1 385.4,261.5 353.1,284.9 320.9,312.9" fill="#b8b8b8" />
<polygon points="338.2,334.9 372.1,310.7 404.2,289.8 433.8,271.1 465.6,252.2 452.4,229.8 420.2,248.9 389.8,268.2 357.9,291.3 325.8,319.1" fill="#e0e0e0" />
</g>
<path d="M3.6 17.7L10.4 12.3M24.4 17.2L29.9 12.8M44.6 17.2L50.0 12.8M64.8 17.3L70.1 12.7M84.9 17.3L90.3 12.7M104.5 17.7L111.0 12.3M123.3 19.1L132.5 10.9M144.4 19.8L151.7 10.2M165.0 19.4L171.4 10.6M184.5 20.3L192.2 9.7M203.7 21.8L213.3 8.2M222.9 22.3L234.4 7.7M243.7 20.9L253.9 9.1M264.3 20.3L273.6 9.7M283.1 19.2L295.1 10.8M300.7 17.1L317.8 12.9M318.9 16.9L339.9 13.1M337.6 16.9L361.5 13.1M356.7 16.7L382.7 13.3M376.2 16.7L403.5 13.3M396.1 16.2L423.9 13.8M416.4 16.2L443.9 13.8M3.1 37.5L10.9 31.7M24.3 36.7L30.0 32.5M44.6 36.8L50.0 32.4M64.8 36.8L70.1 32.4M84.9 36.9L90.3 32.3M104.2 37.6L111.3 31.6M122.6 39.3L133.2 29.9M143.5 40.6L152.6 28.6M163.6 41.1L172.8 28.1M183.0 41.1L193.7 28.1M203.0 41.3L214.0 27.9M223.3 40.1L234.0 29.1M244.8 39.2L252.8 30.0M264.3 39.8L273.6 29.4M281.1 39.2L297.1 30.0M297.5 36.9L321.0 32.3M316.8 36.8L342.0 32.4M336.5 36.5L362.6 32.7M356.4 36.5L383.0 32.7M376.3 36.9L403.4 32.3M396.7 36.0L423.3 33.2M417.7 35.7L442.6 33.5M3.3 56.7L10.7 51.7M24.3 56.2L30.0 52.2M44.5 56.3L50.1 52.1M64.7 56.4L70.2 52.0M84.9 56.4L90.3 52.0M104.1 57.3L111.4 51.1M121.7 59.9L134.1 48.5M142.0 60.8L154.1 47.6M162.9 59.8L173.5 48.6M182.6 57.1L194.1 51.3M202.2 56.1L214.8 52.3M221.8 57.5L235.5 50.9M241.5 58.8L256.1 49.6M259.2 58.7L278.7 49.7M276.8 58.7L301.4 49.7M295.8 56.8L322.7 51.6M315.8 56.3L343.0 52.1M335.7 54.4L363.4 54.0M356.4 55.5L383.0 52.9M377.4 56.3L402.3 52.1M398.6 54.8L421.4 53.6M420.3 54.1L440.0 54.3M3.8 75.8L10.2 71.8M24.2 75.6L30.1 72.0M44.4 75.7L50.2 71.9M64.6 75.8L70.3 71.8M84.8 75.9L90.4 71.7M104.0 76.8L111.5 70.8M121.2 79.3L134.6 68.3M141.6 79.2L154.5 68.4M163.3 77.1L173.1 70.5M182.4 75.8L194.3 71.8M200.1 76.1L216.9 71.5M217.8 77.5L239.5 70.1M236.4 77.7L261.2 69.9M255.7 77.4L282.2 70.2M275.6 77.6L302.6 70.0M295.8 75.6L322.7 72.0M316.4 72.2L342.4 75.4M337.7 69.8L361.4 77.8M358.7 70.4L380.7 77.2M379.8 70.8L399.9 76.8M402.5 68.6L417.5 79.0M423.2 69.3L437.1 78.3M3.9 95.1L10.1 91.7M24.1 95.0L30.2 91.8M44.2 95.1L50.4 91.7M64.4 95.1L70.5 91.7M84.6 95.3L90.6 91.5M103.9 96.1L111.6 90.7M121.4 98.1L134.4 88.7M141.9 97.7L154.2 89.1M161.7 97.4L174.7 89.4M179.2 97.6L197.5 89.2M197.4 97.6L219.6 89.2M217.0 98.1L240.3 88.7M236.5 97.4L261.1 89.4M256.7 96.8L281.2 90.0M277.6 96.3L300.6 90.5M297.8 93.6L320.7 93.2M319.0 90.5L339.8 96.3M340.2 90.0L358.9 96.8M361.2 90.0L378.2 96.8M383.7 87.9L396.0 98.9M404.5 87.9L415.5 98.9M424.8 87.9L435.5 98.9M3.8 114.5L10.2 111.5M24.0 114.4L30.3 111.6M44.1 114.5L50.5 111.5M64.1 114.6L70.8 111.4M83.3 115.4L91.9 110.6M103.1 116.0L112.4 110.0M121.6 117.0L134.2 109.0M140.2 117.5L155.9 108.5M158.8 118.6L177.6 107.4M178.5 119.7L198.2 106.3M199.1 119.5L217.9 106.5M220.2 118.4L237.1 107.6M240.8 116.9L256.8 109.1M261.2 115.6L276.7 110.4M282.8 113.7L295.4 112.3M303.1 111.8L315.4 114.2M323.3 111.0L335.5 115.0M343.1 110.0L356.0 116.0M364.1 108.2L375.3 117.8M384.9 107.4L394.8 118.6M404.9 107.6L415.1 118.4M425.9 107.3L434.4 118.7M3.8 133.9L10.2 131.3M23.9 133.8L30.4 131.4M44.1 134.0L50.5 131.2M64.2 134.1L70.7 131.1M83.5 134.8L91.7 130.4M102.6 136.0L112.9 129.2M120.1 137.2L135.7 128.0M137.3 137.0L158.8 128.2M157.1 137.6L179.3 127.6M179.9 140.2L196.8 125.0M202.5 139.6L214.5 125.6M224.2 137.9L233.1 127.3M245.3 136.0L252.3 129.2M264.4 135.1L273.5 130.1M283.4 131.8L294.8 133.4M305.1 131.2L313.4 134.0M325.0 131.0L333.8 134.2M345.4 130.3L353.7 134.9M365.8 128.2L373.6 137.0M385.2 127.1L394.5 138.1M405.9 126.4L414.1 138.8M426.4 127.2L433.9 138.0M3.8 153.5L10.2 150.9M23.9 153.4L30.4 151.0M44.1 153.6L50.5 150.8M63.7 154.0L71.2 150.4M83.0 155.1L92.2 149.3M100.7 157.2L114.8 147.2M118.6 158.2L137.2 146.2M137.4 156.3L158.7 148.1M158.9 156.4L177.5 148.0M183.8 159.3L192.9 145.1M205.0 157.9L212.0 146.5M226.1 156.7L231.2 147.7M246.2 156.2L251.4 148.2M264.5 157.1L273.4 147.3M281.9 151.6L296.3 152.8M303.2 150.0L315.3 154.4M324.2 150.3L334.6 154.1M346.0 150.4L353.1 154.0M367.1 148.9L372.3 155.5M389.5 146.2L390.2 158.2M407.8 145.3L412.2 159.1M427.9 146.1L432.4 158.3M2.8 174.1L11.2 169.5M23.4 173.6L30.9 170.0M43.5 173.8L51.1 169.8M61.5 175.7L73.4 167.9M79.9 177.4L95.3 166.2M100.1 177.3L115.4 166.3M121.7 176.3L134.1 167.3M142.6 175.4L153.5 168.2M164.9 176.1L171.5 167.5M185.5 176.7L191.2 166.9M205.6 177.2L211.4 166.4M225.8 177.8L231.5 165.8M245.1 178.1L252.5 165.5M264.6 177.8L273.3 165.8M283.7 176.8L294.5 166.8M302.6 171.1L315.9 172.5M324.1 169.4L334.7 174.2M345.6 169.5L353.5 174.1M366.5 168.8L372.9 174.8M387.4 177.1L392.3 166.5M408.1 178.7L411.9 164.9M427.9 164.7L432.4 178.9M0.9 194.9L13.1 187.9M21.6 194.7L32.7 188.1M40.1 196.0L54.5 186.8M58.5 198.4L76.4 184.4M80.1 197.7L95.1 185.1M102.7 195.6L112.8 187.2M124.6 194.6L131.2 188.2M145.7 194.9L150.4 187.9M166.1 195.5L170.3 187.3M185.5 196.9L191.2 185.9M205.1 198.5L211.9 184.3M224.9 199.2L232.4 183.6M244.7 197.8L252.9 185.0M265.1 196.9L272.8 185.9M284.7 195.5L293.5 187.3M303.9 194.4L314.6 188.4M323.5 189.8L335.3 193.0M344.5 188.6L354.6 194.2M364.6 188.6L374.8 194.2M386.9 198.1L392.8 184.7M407.4 199.0L412.6 183.8M430.0 182.7L430.3 200.1M-1.4 216.1L15.4 205.9M18.1 216.7L36.2 205.3M37.1 216.9L57.5 205.1M58.1 217.7L76.8 204.3M81.9 215.8L93.3 206.2M103.7 214.8L111.8 207.2M125.4 215.2L130.4 206.8M146.9 215.9L149.2 206.1M167.4 216.8L169.0 205.2M186.4 218.2L190.3 203.8M205.9 219.7L211.1 202.3M225.2 219.6L232.1 202.4M244.8 217.3L252.8 204.7M264.9 216.0L273.0 206.0M285.0 213.8L293.2 208.2M303.9 214.1L314.6 207.9M323.6 214.0L335.2 208.0M342.3 212.0L356.8 210.0M362.3 214.9L377.1 207.1M383.1 217.8L396.6 204.2M403.0 218.8L417.0 203.2M423.5 219.5L436.8 202.5M3.5 238.1L10.5 223.1M20.1 237.5L34.2 223.7M38.9 236.0L55.7 225.2M61.4 235.9L73.5 225.3M83.7 235.5L91.5 225.7M105.1 235.0L110.4 226.2M126.2 235.8L129.6 225.4M147.2 237.0L148.9 224.2M167.6 237.7L168.8 223.5M186.7 238.3L190.0 222.9M206.2 239.3L210.8 221.9M226.1 238.4L231.2 222.8M245.5 236.4L252.1 224.8M265.8 234.0L272.1 227.2M285.4 233.6L292.8 227.6M304.2 234.5L314.3 226.7M323.1 235.2L335.7 226.0M341.9 236.0L357.2 225.2M361.1 236.7L378.3 224.5M381.0 237.1L398.7 224.1M401.0 237.0L419.0 224.2M421.1 237.6L439.2 223.6M6.4 256.3L7.6 244.1M26.1 257.3L28.2 243.1M46.4 257.7L48.2 242.7M66.3 256.1L68.6 244.3M86.6 256.3L88.6 244.1M106.5 256.6L109.0 243.8M126.7 256.6L129.1 243.8M146.9 256.8L149.2 243.6M167.1 257.4L169.3 243.0M186.7 257.7L190.0 242.7M206.2 258.3L210.8 242.1M226.1 257.4L231.2 243.0M245.8 255.6L251.8 244.8M266.2 253.3L271.7 247.1M285.7 253.2L292.5 247.2M304.2 254.4L314.3 246.0M323.0 255.3L335.8 245.1M341.4 256.0L357.7 244.4M360.7 256.6L378.7 243.8M380.3 257.1L399.4 243.3M400.0 257.2L420.0 243.2M420.1 257.7L440.2 242.7M6.5 274.6L7.5 265.0M26.6 277.2L27.7 262.4M47.1 276.4L47.5 263.2M67.2 274.0L67.7 265.6M87.4 276.3L87.8 263.3M107.2 277.5L108.3 262.1M127.3 277.3L128.5 262.3M146.9 277.1L149.2 262.5M166.9 277.1L169.5 262.5M186.8 277.1L189.9 262.5M206.3 277.2L210.7 262.4M226.1 276.6L231.2 263.0M245.9 275.3L251.7 264.3M266.4 273.4L271.5 266.2M285.2 273.7L293.0 265.9M303.8 274.7L314.7 264.9M322.7 275.8L336.1 263.8M341.5 276.2L357.6 263.4M361.2 276.7L378.2 262.9M380.8 277.5L398.9 262.1M400.1 277.6L419.9 262.0M420.4 278.0L439.9 261.6M6.4 294.2L7.6 284.6M26.2 298.6L28.1 280.2M46.8 296.3L47.8 282.5M67.2 293.6L67.7 285.2M87.3 296.3L87.9 282.5M107.2 297.8L108.3 281.0M127.5 297.7L128.3 281.1M147.1 297.1L149.0 281.7M166.9 296.5L169.5 282.3M186.7 296.1L190.0 282.7M206.7 296.0L210.3 282.8M226.3 295.8L231.0 283.0M246.1 295.0L251.5 283.8M266.1 294.1L271.8 284.7M284.9 294.8L293.3 284.0M303.6 295.2L314.9 283.6M322.4 296.4L336.4 282.4M342.0 296.7L357.1 282.1M361.8 297.1L377.6 281.7M381.5 297.7L398.2 281.1M401.6 297.8L418.4 281.0M422.2 298.0L438.1 280.8M6.2 313.4L7.8 304.6M25.7 319.1L28.6 298.9M46.4 316.2L48.2 301.8M67.0 313.5L67.9 304.5M87.0 316.3L88.2 301.7M107.0 318.0L108.5 300.0M127.2 317.5L128.6 300.5M147.0 316.7L149.1 301.3M166.7 316.1L169.7 301.9M186.5 315.7L190.2 302.3M206.7 315.6L210.3 302.4M226.0 315.3L231.3 302.7M245.9 315.2L251.7 302.8M264.9 315.0L273.0 303.0M284.3 315.7L293.9 302.3M303.1 315.7L315.4 302.3M322.2 316.3L336.6 301.7M342.0 316.6L357.1 301.4M362.1 316.5L377.3 301.5M382.5 316.4L397.2 301.6M403.6 316.2L416.4 301.8M424.4 315.9L435.9 302.1M5.8 333.9L8.2 323.3M25.2 338.9L29.1 318.3M46.0 336.2L48.6 321.0M66.7 333.5L68.2 323.7M86.5 336.3L88.7 320.9M106.5 338.0L109.0 319.2M126.7 337.0L129.1 320.2M146.6 336.2L149.5 321.0M166.3 336.1L170.1 321.1M186.2 335.9L190.5 321.3M206.1 335.6L210.9 321.6M225.7 335.2L231.6 322.0M245.2 335.5L252.4 321.7M264.2 335.7L273.7 321.5M283.6 336.5L294.6 320.7M303.0 336.3L315.5 320.9M322.5 336.0L336.3 321.2M342.5 335.9L356.6 321.3M363.0 335.4L376.4 321.8M383.9 334.8L395.8 322.4M405.0 334.3L415.0 322.9M426.2 333.3L434.1 323.9" stroke="#000" stroke-width="2.1" stroke-linecap="round" fill="none"/>
<polygon points="29.2,0.0 29.2,19.8 43.9,36.6 62.7,35.5 73.1,31.3 81.5,26.1 81.5,9.4 73.1,6.3 73.1,0.0" fill="#fff" />
<polygon points="0.0,61.6 3.1,61.6 9.4,51.2 26.1,46.0 41.8,46.0 49.1,48.0 58.5,43.9 73.1,41.8 81.5,37.6 85.6,39.7 94.0,44.9 98.2,49.1 99.2,64.8 83.6,82.5 78.3,90.9 75.2,99.2 75.2,109.0 73.1,110.0 67.9,115.3 58.5,117.4 56.4,120.5 52.2,129.9 38.6,130.9 36.6,139.3 17.8,139.3 10.4,135.1 6.3,134.0 0.0,132.0" fill="#fff" />
<polygon points="0.0,307.9 4.2,308.9 6.3,316.2 8.4,323.5 9.4,335.0 10.4,344.0 0.0,344.0" fill="#fff" />
<polygon points="235.3,268.5 242.6,264.3 249.0,247.5 268.9,245.4 279.4,241.2 291.0,241.2 294.2,245.4 278.4,263.3 259.5,264.3 259.5,273.8 247.9,273.8" fill="#fff" />
<rect x="127" y="220" width="7" height="4" fill="#fff"/>
<ellipse cx="128.0" cy="237.0" rx="2.5" ry="2.5" fill="#fff" />
<ellipse cx="434.0" cy="289.0" rx="2" ry="2" fill="#fff" />
<rect x="0" y="0" width="29" height="2" fill="#fff"/>
</svg>
<div class="fr" style="left:790px;top:0px;width:451px;height:350px"></div>
<svg class="pn" style="left:192px;top:480px" width="444" height="344" viewBox="0 0 444 344">
<defs><filter id="fc" filterUnits="userSpaceOnUse" x="-55.5" y="-54.3" width="555.0" height="452.6" color-interpolation-filters="sRGB"><feGaussianBlur stdDeviation="9.0" result="bl"/><feComponentTransfer><feFuncR type="discrete" tableValues="0.0000 0.0444 0.0889 0.1333 0.1778 0.2222 0.2667 0.3111 0.3556 0.4000 0.4444 0.4889 0.5333 0.5778 0.6222 0.6667 0.7111 0.7556 0.8000 0.8444 0.8889 0.9333 0.9778"/><feFuncG type="discrete" tableValues="0.0000 0.0444 0.0889 0.1333 0.1778 0.2222 0.2667 0.3111 0.3556 0.4000 0.4444 0.4889 0.5333 0.5778 0.6222 0.6667 0.7111 0.7556 0.8000 0.8444 0.8889 0.9333 0.9778"/><feFuncB type="discrete" tableValues="0.0000 0.0444 0.0889 0.1333 0.1778 0.2222 0.2667 0.3111 0.3556 0.4000 0.4444 0.4889 0.5333 0.5778 0.6222 0.6667 0.7111 0.7556 0.8000 0.8444 0.8889 0.9333 0.9778"/></feComponentTransfer><feComponentTransfer><feFuncR type="table" tableValues="0 0 0 0 0.5 1 1 1 0.5"/><feFuncG type="table" tableValues="0 0 0.5 1 1 1 0.5 0 0"/><feFuncB type="table" tableValues="0.5 1 1 1 0.5 0 0 0 0"/></feComponentTransfer></filter></defs>
<g filter="url(#fc)" shape-rendering="crispEdges">
<rect x="-55.5" y="-54.3" width="93.1" height="18.7" fill="#404040"/>
<rect x="37.0" y="-54.3" width="37.6" height="18.7" fill="#303030"/>
<rect x="74.0" y="-54.3" width="19.1" height="18.7" fill="#101010"/>
<rect x="92.5" y="-54.3" width="19.1" height="18.7" fill="#000000"/>
<rect x="111.0" y="-54.3" width="19.1" height="18.7" fill="#101010"/>
<rect x="129.5" y="-54.3" width="19.1" height="18.7" fill="#202020"/>
<rect x="148.0" y="-54.3" width="19.1" height="18.7" fill="#303030"/>
<rect x="166.5" y="-54.3" width="111.6" height="18.7" fill="#404040"/>
<rect x="277.5" y="-54.3" width="56.1" height="18.7" fill="#505050"/>
<rect x="333.0" y="-54.3" width="167.1" height="18.7" fill="#606060"/>
<rect x="-55.5" y="-36.2" width="93.1" height="18.7" fill="#404040"/>
<rect x="37.0" y="-36.2" width="37.6" height="18.7" fill="#303030"/>
<rect x="74.0" y="-36.2" width="19.1" height="18.7" fill="#101010"/>
<rect x="92.5" y="-36.2" width="19.1" height="18.7" fill="#000000"/>
<rect x="111.0" y="-36.2" width="19.1" height="18.7" fill="#101010"/>
<rect x="129.5" y="-36.2" width="19.1" height="18.7" fill="#202020"/>
<rect x="148.0" y="-36.2" width="19.1" height="18.7" fill="#303030"/>
<rect x="166.5" y="-36.2" width="111.6" height="18.7" fill="#404040"/>
<rect x="277.5" y="-36.2" width="56.1" height="18.7" fill="#505050"/>
<rect x="333.0" y="-36.2" width="167.1" height="18.7" fill="#606060"/>
<rect x="-55.5" y="-18.1" width="93.1" height="18.7" fill="#404040"/>
<rect x="37.0" y="-18.1" width="37.6" height="18.7" fill="#303030"/>
<rect x="74.0" y="-18.1" width="19.1" height="18.7" fill="#101010"/>
<rect x="92.5" y="-18.1" width="19.1" height="18.7" fill="#000000"/>
<rect x="111.0" y="-18.1" width="19.1" height="18.7" fill="#101010"/>
<rect x="129.5" y="-18.1" width="19.1" height="18.7" fill="#202020"/>
<rect x="148.0" y="-18.1" width="19.1" height="18.7" fill="#303030"/>
<rect x="166.5" y="-18.1" width="111.6" height="18.7" fill="#404040"/>
<rect x="277.5" y="-18.1" width="56.1" height="18.7" fill="#505050"/>
<rect x="333.0" y="-18.1" width="167.1" height="18.7" fill="#606060"/>
<rect x="-55.5" y="0.0" width="93.1" height="18.7" fill="#404040"/>
<rect x="37.0" y="0.0" width="37.6" height="18.7" fill="#303030"/>
<rect x="74.0" y="0.0" width="19.1" height="18.7" fill="#101010"/>
<rect x="92.5" y="0.0" width="19.1" height="18.7" fill="#000000"/>
<rect x="111.0" y="0.0" width="19.1" height="18.7" fill="#101010"/>
<rect x="129.5" y="0.0" width="19.1" height="18.7" fill="#202020"/>
<rect x="148.0" y="0.0" width="19.1" height="18.7" fill="#303030"/>
<rect x="166.5" y="0.0" width="111.6" height="18.7" fill="#404040"/>
<rect x="277.5" y="0.0" width="56.1" height="18.7" fill="#505050"/>
<rect x="333.0" y="0.0" width="167.1" height="18.7" fill="#606060"/>
<rect x="-55.5" y="18.1" width="111.6" height="18.7" fill="#404040"/>
<rect x="55.5" y="18.1" width="19.1" height="18.7" fill="#303030"/>
<rect x="74.0" y="18.1" width="19.1" height="18.7" fill="#202020"/>
<rect x="92.5" y="18.1" width="19.1" height="18.7" fill="#101010"/>
<rect x="111.0" y="18.1" width="19.1" height="18.7" fill="#202020"/>
<rect x="129.5" y="18.1" width="19.1" height="18.7" fill="#303030"/>
<rect x="148.0" y="18.1" width="19.1" height="18.7" fill="#404040"/>
<rect x="166.5" y="18.1" width="37.6" height="18.7" fill="#505050"/>
<rect x="203.5" y="18.1" width="19.1" height="18.7" fill="#606060"/>
<rect x="222.0" y="18.1" width="19.1" height="18.7" fill="#505050"/>
<rect x="240.5" y="18.1" width="74.6" height="18.7" fill="#606060"/>
<rect x="314.5" y="18.1" width="111.6" height="18.7" fill="#707070"/>
<rect x="425.5" y="18.1" width="74.6" height="18.7" fill="#606060"/>
<rect x="-55.5" y="36.2" width="74.6" height="18.7" fill="#505050"/>
<rect x="18.5" y="36.2" width="19.1" height="18.7" fill="#404040"/>
<rect x="37.0" y="36.2" width="37.6" height="18.7" fill="#303030"/>
<rect x="74.0" y="36.2" width="37.6" height="18.7" fill="#202020"/>
<rect x="111.0" y="36.2" width="19.1" height="18.7" fill="#303030"/>
<rect x="129.5" y="36.2" width="19.1" height="18.7" fill="#505050"/>
<rect x="148.0" y="36.2" width="56.1" height="18.7" fill="#606060"/>
<rect x="203.5" y="36.2" width="19.1" height="18.7" fill="#707070"/>
<rect x="222.0" y="36.2" width="19.1" height="18.7" fill="#606060"/>
<rect x="240.5" y="36.2" width="74.6" height="18.7" fill="#707070"/>
<rect x="314.5" y="36.2" width="56.1" height="18.7" fill="#808080"/>
<rect x="370.0" y="36.2" width="130.1" height="18.7" fill="#707070"/>
<rect x="-55.5" y="54.3" width="93.1" height="18.7" fill="#505050"/>
<rect x="37.0" y="54.3" width="19.1" height="18.7" fill="#404040"/>
<rect x="55.5" y="54.3" width="37.6" height="18.7" fill="#303030"/>
<rect x="92.5" y="54.3" width="19.1" height="18.7" fill="#202020"/>
<rect x="111.0" y="54.3" width="19.1" height="18.7" fill="#505050"/>
<rect x="129.5" y="54.3" width="19.1" height="18.7" fill="#606060"/>
<rect x="148.0" y="54.3" width="93.1" height="18.7" fill="#707070"/>
<rect x="240.5" y="54.3" width="148.6" height="18.7" fill="#808080"/>
<rect x="388.5" y="54.3" width="111.6" height="18.7" fill="#707070"/>
<rect x="-55.5" y="72.4" width="74.6" height="18.7" fill="#606060"/>
<rect x="18.5" y="72.4" width="19.1" height="18.7" fill="#505050"/>
<rect x="37.0" y="72.4" width="37.6" height="18.7" fill="#404040"/>
<rect x="74.0" y="72.4" width="19.1" height="18.7" fill="#303030"/>
<rect x="92.5" y="72.4" width="19.1" height="18.7" fill="#404040"/>
<rect x="111.0" y="72.4" width="19.1" height="18.7" fill="#606060"/>
<rect x="129.5" y="72.4" width="37.6" height="18.7" fill="#707070"/>
<rect x="166.5" y="72.4" width="93.1" height="18.7" fill="#808080"/>
<rect x="259.0" y="72.4" width="74.6" height="18.7" fill="#8f8f8f"/>
<rect x="333.0" y="72.4" width="74.6" height="18.7" fill="#808080"/>
<rect x="407.0" y="72.4" width="93.1" height="18.7" fill="#707070"/>
<rect x="-55.5" y="90.5" width="74.6" height="18.7" fill="#707070"/>
<rect x="18.5" y="90.5" width="19.1" height="18.7" fill="#606060"/>
<rect x="37.0" y="90.5" width="19.1" height="18.7" fill="#505050"/>
<rect x="55.5" y="90.5" width="19.1" height="18.7" fill="#404040"/>
<rect x="74.0" y="90.5" width="19.1" height="18.7" fill="#505050"/>
<rect x="92.5" y="90.5" width="19.1" height="18.7" fill="#606060"/>
<rect x="111.0" y="90.5" width="19.1" height="18.7" fill="#707070"/>
<rect x="129.5" y="90.5" width="74.6" height="18.7" fill="#808080"/>
<rect x="203.5" y="90.5" width="56.1" height="18.7" fill="#8f8f8f"/>
<rect x="259.0" y="90.5" width="37.6" height="18.7" fill="#979797"/>
<rect x="296.0" y="90.5" width="74.6" height="18.7" fill="#8f8f8f"/>
<rect x="370.0" y="90.5" width="130.1" height="18.7" fill="#808080"/>
<rect x="-55.5" y="108.6" width="74.6" height="18.7" fill="#808080"/>
<rect x="18.5" y="108.6" width="19.1" height="18.7" fill="#707070"/>
<rect x="37.0" y="108.6" width="19.1" height="18.7" fill="#606060"/>
<rect x="55.5" y="108.6" width="19.1" height="18.7" fill="#505050"/>
<rect x="74.0" y="108.6" width="19.1" height="18.7" fill="#606060"/>
<rect x="92.5" y="108.6" width="19.1" height="18.7" fill="#707070"/>
<rect x="111.0" y="108.6" width="37.6" height="18.7" fill="#808080"/>
<rect x="148.0" y="108.6" width="74.6" height="18.7" fill="#8f8f8f"/>
<rect x="222.0" y="108.6" width="130.1" height="18.7" fill="#979797"/>
<rect x="351.5" y="108.6" width="37.6" height="18.7" fill="#8f8f8f"/>
<rect x="388.5" y="108.6" width="19.1" height="18.7" fill="#878787"/>
<rect x="407.0" y="108.6" width="93.1" height="18.7" fill="#808080"/>
<rect x="-55.5" y="126.7" width="74.6" height="18.7" fill="#808080"/>
<rect x="18.5" y="126.7" width="19.1" height="18.7" fill="#787878"/>
<rect x="37.0" y="126.7" width="19.1" height="18.7" fill="#686868"/>
<rect x="55.5" y="126.7" width="19.1" height="18.7" fill="#707070"/>
<rect x="74.0" y="126.7" width="19.1" height="18.7" fill="#808080"/>
<rect x="92.5" y="126.7" width="19.1" height="18.7" fill="#878787"/>
<rect x="111.0" y="126.7" width="37.6" height="18.7" fill="#8f8f8f"/>
<rect x="148.0" y="126.7" width="37.6" height="18.7" fill="#979797"/>
<rect x="185.0" y="126.7" width="148.6" height="18.7" fill="#9f9f9f"/>
<rect x="333.0" y="126.7" width="37.6" height="18.7" fill="#979797"/>
<rect x="370.0" y="126.7" width="56.1" height="18.7" fill="#8f8f8f"/>
<rect x="425.5" y="126.7" width="74.6" height="18.7" fill="#808080"/>
<rect x="-55.5" y="144.8" width="74.6" height="18.7" fill="#878787"/>
<rect x="18.5" y="144.8" width="37.6" height="18.7" fill="#808080"/>
<rect x="55.5" y="144.8" width="19.1" height="18.7" fill="#878787"/>
<rect x="74.0" y="144.8" width="19.1" height="18.7" fill="#8f8f8f"/>
<rect x="92.5" y="144.8" width="37.6" height="18.7" fill="#979797"/>
<rect x="129.5" y="144.8" width="93.1" height="18.7" fill="#9f9f9f"/>
<rect x="222.0" y="144.8" width="74.6" height="18.7" fill="#a7a7a7"/>
<rect x="296.0" y="144.8" width="74.6" height="18.7" fill="#9f9f9f"/>
<rect x="370.0" y="144.8" width="37.6" height="18.7" fill="#979797"/>
<rect x="407.0" y="144.8" width="93.1" height="18.7" fill="#8f8f8f"/>
<rect x="-55.5" y="162.9" width="74.6" height="18.7" fill="#787878"/>
<rect x="18.5" y="162.9" width="19.1" height="18.7" fill="#8f8f8f"/>
<rect x="37.0" y="162.9" width="19.1" height="18.7" fill="#979797"/>
<rect x="55.5" y="162.9" width="74.6" height="18.7" fill="#9f9f9f"/>
<rect x="129.5" y="162.9" width="185.6" height="18.7" fill="#a7a7a7"/>
<rect x="314.5" y="162.9" width="93.1" height="18.7" fill="#9f9f9f"/>
<rect x="407.0" y="162.9" width="19.1" height="18.7" fill="#979797"/>
<rect x="425.5" y="162.9" width="74.6" height="18.7" fill="#8f8f8f"/>
<rect x="-55.5" y="181.1" width="74.6" height="18.7" fill="#878787"/>
<rect x="18.5" y="181.1" width="37.6" height="18.7" fill="#9f9f9f"/>
<rect x="55.5" y="181.1" width="167.1" height="18.7" fill="#a7a7a7"/>
<rect x="222.0" y="181.1" width="19.1" height="18.7" fill="#afafaf"/>
<rect x="240.5" y="181.1" width="37.6" height="18.7" fill="#b7b7b7"/>
<rect x="277.5" y="181.1" width="19.1" height="18.7" fill="#afafaf"/>
<rect x="296.0" y="181.1" width="111.6" height="18.7" fill="#a7a7a7"/>
<rect x="407.0" y="181.1" width="93.1" height="18.7" fill="#9f9f9f"/>
<rect x="-55.5" y="199.2" width="74.6" height="18.7" fill="#8f8f8f"/>
<rect x="18.5" y="199.2" width="19.1" height="18.7" fill="#9f9f9f"/>
<rect x="37.0" y="199.2" width="56.1" height="18.7" fill="#a7a7a7"/>
<rect x="92.5" y="199.2" width="19.1" height="18.7" fill="#afafaf"/>
<rect x="111.0" y="199.2" width="56.1" height="18.7" fill="#b7b7b7"/>
<rect x="166.5" y="199.2" width="19.1" height="18.7" fill="#afafaf"/>
<rect x="185.0" y="199.2" width="111.6" height="18.7" fill="#b7b7b7"/>
<rect x="296.0" y="199.2" width="19.1" height="18.7" fill="#afafaf"/>
<rect x="314.5" y="199.2" width="185.6" height="18.7" fill="#a7a7a7"/>
<rect x="-55.5" y="217.3" width="74.6" height="18.7" fill="#979797"/>
<rect x="18.5" y="217.3" width="19.1" height="18.7" fill="#9f9f9f"/>
<rect x="37.0" y="217.3" width="37.6" height="18.7" fill="#a7a7a7"/>
<rect x="74.0" y="217.3" width="19.1" height="18.7" fill="#afafaf"/>
<rect x="92.5" y="217.3" width="407.6" height="18.7" fill="#b7b7b7"/>
<rect x="-55.5" y="235.4" width="74.6" height="18.7" fill="#8f8f8f"/>
<rect x="18.5" y="235.4" width="19.1" height="18.7" fill="#9f9f9f"/>
<rect x="37.0" y="235.4" width="56.1" height="18.7" fill="#a7a7a7"/>
<rect x="92.5" y="235.4" width="19.1" height="18.7" fill="#afafaf"/>
<rect x="111.0" y="235.4" width="241.1" height="18.7" fill="#b7b7b7"/>
<rect x="351.5" y="235.4" width="148.6" height="18.7" fill="#bfbfbf"/>
<rect x="-55.5" y="253.5" width="74.6" height="18.7" fill="#808080"/>
<rect x="18.5" y="253.5" width="19.1" height="18.7" fill="#979797"/>
<rect x="37.0" y="253.5" width="74.6" height="18.7" fill="#a7a7a7"/>
<rect x="111.0" y="253.5" width="19.1" height="18.7" fill="#afafaf"/>
<rect x="129.5" y="253.5" width="56.1" height="18.7" fill="#b7b7b7"/>
<rect x="185.0" y="253.5" width="37.6" height="18.7" fill="#bfbfbf"/>
<rect x="222.0" y="253.5" width="74.6" height="18.7" fill="#b7b7b7"/>
<rect x="296.0" y="253.5" width="93.1" height="18.7" fill="#bfbfbf"/>
<rect x="388.5" y="253.5" width="111.6" height="18.7" fill="#cfcfcf"/>
<rect x="-55.5" y="271.6" width="74.6" height="18.7" fill="#787878"/>
<rect x="18.5" y="271.6" width="19.1" height="18.7" fill="#8f8f8f"/>
<rect x="37.0" y="271.6" width="19.1" height="18.7" fill="#9f9f9f"/>
<rect x="55.5" y="271.6" width="74.6" height="18.7" fill="#a7a7a7"/>
<rect x="129.5" y="271.6" width="19.1" height="18.7" fill="#afafaf"/>
<rect x="148.0" y="271.6" width="37.6" height="18.7" fill="#b7b7b7"/>
<rect x="185.0" y="271.6" width="56.1" height="18.7" fill="#bfbfbf"/>
<rect x="240.5" y="271.6" width="19.1" height="18.7" fill="#b7b7b7"/>
<rect x="259.0" y="271.6" width="74.6" height="18.7" fill="#bfbfbf"/>
<rect x="333.0" y="271.6" width="167.1" height="18.7" fill="#cfcfcf"/>
<rect x="-55.5" y="289.7" width="74.6" height="18.7" fill="#707070"/>
<rect x="18.5" y="289.7" width="19.1" height="18.7" fill="#8f8f8f"/>
<rect x="37.0" y="289.7" width="19.1" height="18.7" fill="#9f9f9f"/>
<rect x="55.5" y="289.7" width="93.1" height="18.7" fill="#a7a7a7"/>
<rect x="148.0" y="289.7" width="19.1" height="18.7" fill="#afafaf"/>
<rect x="166.5" y="289.7" width="37.6" height="18.7" fill="#b7b7b7"/>
<rect x="203.5" y="289.7" width="111.6" height="18.7" fill="#bfbfbf"/>
<rect x="314.5" y="289.7" width="185.6" height="18.7" fill="#cfcfcf"/>
<rect x="-55.5" y="307.8" width="74.6" height="18.7" fill="#686868"/>
<rect x="18.5" y="307.8" width="19.1" height="18.7" fill="#878787"/>
<rect x="37.0" y="307.8" width="37.6" height="18.7" fill="#9f9f9f"/>
<rect x="74.0" y="307.8" width="93.1" height="18.7" fill="#a7a7a7"/>
<rect x="166.5" y="307.8" width="56.1" height="18.7" fill="#b7b7b7"/>
<rect x="222.0" y="307.8" width="56.1" height="18.7" fill="#bfbfbf"/>
<rect x="277.5" y="307.8" width="19.1" height="18.7" fill="#c7c7c7"/>
<rect x="296.0" y="307.8" width="204.1" height="18.7" fill="#cfcfcf"/>
<rect x="-55.5" y="325.9" width="74.6" height="18.7" fill="#686868"/>
<rect x="18.5" y="325.9" width="19.1" height="18.7" fill="#808080"/>
<rect x="37.0" y="325.9" width="130.1" height="18.7" fill="#9f9f9f"/>
<rect x="166.5" y="325.9" width="19.1" height="18.7" fill="#a7a7a7"/>
<rect x="185.0" y="325.9" width="19.1" height="18.7" fill="#afafaf"/>
<rect x="203.5" y="325.9" width="37.6" height="18.7" fill="#b7b7b7"/>
<rect x="240.5" y="325.9" width="37.6" height="18.7" fill="#bfbfbf"/>
<rect x="277.5" y="325.9" width="222.6" height="18.7" fill="#cfcfcf"/>
<rect x="-55.5" y="344.0" width="74.6" height="18.7" fill="#686868"/>
<rect x="18.5" y="344.0" width="19.1" height="18.7" fill="#808080"/>
<rect x="37.0" y="344.0" width="130.1" height="18.7" fill="#9f9f9f"/>
<rect x="166.5" y="344.0" width="19.1" height="18.7" fill="#a7a7a7"/>
<rect x="185.0" y="344.0" width="19.1" height="18.7" fill="#afafaf"/>
<rect x="203.5" y="344.0" width="37.6" height="18.7" fill="#b7b7b7"/>
<rect x="240.5" y="344.0" width="37.6" height="18.7" fill="#bfbfbf"/>
<rect x="277.5" y="344.0" width="222.6" height="18.7" fill="#cfcfcf"/>
<rect x="-55.5" y="362.1" width="74.6" height="18.7" fill="#686868"/>
<rect x="18.5" y="362.1" width="19.1" height="18.7" fill="#808080"/>
<rect x="37.0" y="362.1" width="130.1" height="18.7" fill="#9f9f9f"/>
<rect x="166.5" y="362.1" width="19.1" height="18.7" fill="#a7a7a7"/>
<rect x="185.0" y="362.1" width="19.1" height="18.7" fill="#afafaf"/>
<rect x="203.5" y="362.1" width="37.6" height="18.7" fill="#b7b7b7"/>
<rect x="240.5" y="362.1" width="37.6" height="18.7" fill="#bfbfbf"/>
<rect x="277.5" y="362.1" width="222.6" height="18.7" fill="#cfcfcf"/>
<rect x="-55.5" y="380.2" width="74.6" height="18.7" fill="#686868"/>
<rect x="18.5" y="380.2" width="19.1" height="18.7" fill="#808080"/>
<rect x="37.0" y="380.2" width="130.1" height="18.7" fill="#9f9f9f"/>
<rect x="166.5" y="380.2" width="19.1" height="18.7" fill="#a7a7a7"/>
<rect x="185.0" y="380.2" width="19.1" height="18.7" fill="#afafaf"/>
<rect x="203.5" y="380.2" width="37.6" height="18.7" fill="#b7b7b7"/>
<rect x="240.5" y="380.2" width="37.6" height="18.7" fill="#bfbfbf"/>
<rect x="277.5" y="380.2" width="222.6" height="18.7" fill="#cfcfcf"/>

</g>
<polygon points="29.0,0.0 29.0,18.0 42.0,34.0 49.0,37.5 65.0,37.5 76.0,32.0 82.5,24.0 82.5,0.0" fill="#fff" />
<polygon points="0.0,62.7 4.2,61.6 8.4,52.2 20.9,50.1 41.8,46.0 52.2,46.0 62.7,41.8 73.1,38.6 81.5,35.5 90.0,42.0 99.0,52.0 99.0,67.0 88.0,80.0 78.0,93.0 75.0,108.0 73.1,110.0 66.8,115.3 58.5,117.4 55.4,120.5 52.2,128.8 38.6,129.9 38.6,133.0 35.5,139.3 18.8,139.3 10.4,136.2 6.3,134.0 0.0,133.0" fill="#fff" />
<polygon points="0.0,303.0 5.0,317.0 11.0,344.0 0.0,344.0" fill="#fff" />
<polygon points="234.7,270.3 242.0,264.0 249.3,247.3 267.1,245.2 277.5,241.0 290.0,241.0 294.2,245.2 276.5,263.0 257.7,264.0 257.7,273.4 245.1,273.4" fill="#fff" />
<ellipse cx="131.5" cy="221.0" rx="3" ry="5" fill="#fff" />
<ellipse cx="129.0" cy="236.5" rx="4" ry="4.5" fill="#fff" />
<ellipse cx="432.0" cy="288.0" rx="1.8" ry="2.2" fill="#fff" />
<ellipse cx="9.0" cy="3.0" rx="4" ry="3" fill="#fff" />
</svg>
<div class="fr" style="left:189px;top:477px;width:450px;height:350px"></div>
<svg class="pn" style="left:793px;top:480px" width="445" height="344" viewBox="0 0 445 344">
<defs><filter id="fd" filterUnits="userSpaceOnUse" x="-55.6" y="-54.3" width="556.2" height="452.6" color-interpolation-filters="sRGB"><feGaussianBlur stdDeviation="9.0" result="bl"/><feComponentTransfer><feFuncR type="discrete" tableValues="0.0000 0.0444 0.0889 0.1333 0.1778 0.2222 0.2667 0.3111 0.3556 0.4000 0.4444 0.4889 0.5333 0.5778 0.6222 0.6667 0.7111 0.7556 0.8000 0.8444 0.8889 0.9333 0.9778"/><feFuncG type="discrete" tableValues="0.0000 0.0444 0.0889 0.1333 0.1778 0.2222 0.2667 0.3111 0.3556 0.4000 0.4444 0.4889 0.5333 0.5778 0.6222 0.6667 0.7111 0.7556 0.8000 0.8444 0.8889 0.9333 0.9778"/><feFuncB type="discrete" tableValues="0.0000 0.0444 0.0889 0.1333 0.1778 0.2222 0.2667 0.3111 0.3556 0.4000 0.4444 0.4889 0.5333 0.5778 0.6222 0.6667 0.7111 0.7556 0.8000 0.8444 0.8889 0.9333 0.9778"/></feComponentTransfer><feComponentTransfer><feFuncR type="table" tableValues="0 0 0 0 0.5 1 1 1 0.5"/><feFuncG type="table" tableValues="0 0 0.5 1 1 1 0.5 0 0"/><feFuncB type="table" tableValues="0.5 1 1 1 0.5 0 0 0 0"/></feComponentTransfer></filter></defs>
<g filter="url(#fd)" shape-rendering="crispEdges">
<rect x="-55.6" y="-54.3" width="74.8" height="18.7" fill="#303030"/>
<rect x="18.5" y="-54.3" width="56.2" height="18.7" fill="#202020"/>
<rect x="74.2" y="-54.3" width="37.7" height="18.7" fill="#080808"/>
<rect x="111.2" y="-54.3" width="19.1" height="18.7" fill="#202020"/>
<rect x="129.8" y="-54.3" width="19.1" height="18.7" fill="#282828"/>
<rect x="148.3" y="-54.3" width="19.1" height="18.7" fill="#303030"/>
<rect x="166.9" y="-54.3" width="19.1" height="18.7" fill="#383838"/>
<rect x="185.4" y="-54.3" width="56.2" height="18.7" fill="#404040"/>
<rect x="241.0" y="-54.3" width="37.7" height="18.7" fill="#484848"/>
<rect x="278.1" y="-54.3" width="19.1" height="18.7" fill="#585858"/>
<rect x="296.7" y="-54.3" width="74.8" height="18.7" fill="#606060"/>
<rect x="370.8" y="-54.3" width="37.7" height="18.7" fill="#686868"/>
<rect x="407.9" y="-54.3" width="93.3" height="18.7" fill="#707070"/>
<rect x="-55.6" y="-36.2" width="74.8" height="18.7" fill="#303030"/>
<rect x="18.5" y="-36.2" width="56.2" height="18.7" fill="#202020"/>
<rect x="74.2" y="-36.2" width="37.7" height="18.7" fill="#080808"/>
<rect x="111.2" y="-36.2" width="19.1" height="18.7" fill="#202020"/>
<rect x="129.8" y="-36.2" width="19.1" height="18.7" fill="#282828"/>
<rect x="148.3" y="-36.2" width="19.1" height="18.7" fill="#303030"/>
<rect x="166.9" y="-36.2" width="19.1" height="18.7" fill="#383838"/>
<rect x="185.4" y="-36.2" width="56.2" height="18.7" fill="#404040"/>
<rect x="241.0" y="-36.2" width="37.7" height="18.7" fill="#484848"/>
<rect x="278.1" y="-36.2" width="19.1" height="18.7" fill="#585858"/>
<rect x="296.7" y="-36.2" width="74.8" height="18.7" fill="#606060"/>
<rect x="370.8" y="-36.2" width="37.7" height="18.7" fill="#686868"/>
<rect x="407.9" y="-36.2" width="93.3" height="18.7" fill="#707070"/>
<rect x="-55.6" y="-18.1" width="74.8" height="18.7" fill="#303030"/>
<rect x="18.5" y="-18.1" width="56.2" height="18.7" fill="#202020"/>
<rect x="74.2" y="-18.1" width="37.7" height="18.7" fill="#080808"/>
<rect x="111.2" y="-18.1" width="19.1" height="18.7" fill="#202020"/>
<rect x="129.8" y="-18.1" width="19.1" height="18.7" fill="#282828"/>
<rect x="148.3" y="-18.1" width="19.1" height="18.7" fill="#303030"/>
<rect x="166.9" y="-18.1" width="19.1" height="18.7" fill="#383838"/>
<rect x="185.4" y="-18.1" width="56.2" height="18.7" fill="#404040"/>
<rect x="241.0" y="-18.1" width="37.7" height="18.7" fill="#484848"/>
<rect x="278.1" y="-18.1" width="19.1" height="18.7" fill="#585858"/>
<rect x="296.7" y="-18.1" width="74.8" height="18.7" fill="#606060"/>
<rect x="370.8" y="-18.1" width="37.7" height="18.7" fill="#686868"/>
<rect x="407.9" y="-18.1" width="93.3" height="18.7" fill="#707070"/>
<rect x="-55.6" y="0.0" width="74.8" height="18.7" fill="#303030"/>
<rect x="18.5" y="0.0" width="56.2" height="18.7" fill="#202020"/>
<rect x="74.2" y="0.0" width="37.7" height="18.7" fill="#080808"/>
<rect x="111.2" y="0.0" width="19.1" height="18.7" fill="#202020"/>
<rect x="129.8" y="0.0" width="19.1" height="18.7" fill="#282828"/>
<rect x="148.3" y="0.0" width="19.1" height="18.7" fill="#303030"/>
<rect x="166.9" y="0.0" width="19.1" height="18.7" fill="#383838"/>
<rect x="185.4" y="0.0" width="56.2" height="18.7" fill="#404040"/>
<rect x="241.0" y="0.0" width="37.7" height="18.7" fill="#484848"/>
<rect x="278.1" y="0.0" width="19.1" height="18.7" fill="#585858"/>
<rect x="296.7" y="0.0" width="74.8" height="18.7" fill="#606060"/>
<rect x="370.8" y="0.0" width="37.7" height="18.7" fill="#686868"/>
<rect x="407.9" y="0.0" width="93.3" height="18.7" fill="#707070"/>
<rect x="-55.6" y="18.1" width="74.8" height="18.7" fill="#303030"/>
<rect x="18.5" y="18.1" width="37.7" height="18.7" fill="#202020"/>
<rect x="55.6" y="18.1" width="19.1" height="18.7" fill="#181818"/>
<rect x="74.2" y="18.1" width="19.1" height="18.7" fill="#080808"/>
<rect x="92.7" y="18.1" width="19.1" height="18.7" fill="#000000"/>
<rect x="111.2" y="18.1" width="19.1" height="18.7" fill="#181818"/>
<rect x="129.8" y="18.1" width="19.1" height="18.7" fill="#303030"/>
<rect x="148.3" y="18.1" width="19.1" height="18.7" fill="#404040"/>
<rect x="166.9" y="18.1" width="19.1" height="18.7" fill="#484848"/>
<rect x="185.4" y="18.1" width="56.2" height="18.7" fill="#505050"/>
<rect x="241.0" y="18.1" width="19.1" height="18.7" fill="#585858"/>
<rect x="259.6" y="18.1" width="37.7" height="18.7" fill="#606060"/>
<rect x="296.7" y="18.1" width="74.8" height="18.7" fill="#686868"/>
<rect x="370.8" y="18.1" width="56.2" height="18.7" fill="#707070"/>
<rect x="426.5" y="18.1" width="74.8" height="18.7" fill="#787878"/>
<rect x="-55.6" y="36.2" width="74.8" height="18.7" fill="#303030"/>
<rect x="18.5" y="36.2" width="37.7" height="18.7" fill="#202020"/>
<rect x="55.6" y="36.2" width="19.1" height="18.7" fill="#181818"/>
<rect x="74.2" y="36.2" width="37.7" height="18.7" fill="#080808"/>
<rect x="111.2" y="36.2" width="19.1" height="18.7" fill="#202020"/>
<rect x="129.8" y="36.2" width="19.1" height="18.7" fill="#404040"/>
<rect x="148.3" y="36.2" width="19.1" height="18.7" fill="#505050"/>
<rect x="166.9" y="36.2" width="19.1" height="18.7" fill="#585858"/>
<rect x="185.4" y="36.2" width="74.8" height="18.7" fill="#606060"/>
<rect x="259.6" y="36.2" width="56.2" height="18.7" fill="#686868"/>
<rect x="315.2" y="36.2" width="93.3" height="18.7" fill="#707070"/>
<rect x="407.9" y="36.2" width="19.1" height="18.7" fill="#787878"/>
<rect x="426.5" y="36.2" width="74.8" height="18.7" fill="#808080"/>
<rect x="-55.6" y="54.3" width="93.3" height="18.7" fill="#404040"/>
<rect x="37.1" y="54.3" width="19.1" height="18.7" fill="#303030"/>
<rect x="55.6" y="54.3" width="19.1" height="18.7" fill="#282828"/>
<rect x="74.2" y="54.3" width="37.7" height="18.7" fill="#202020"/>
<rect x="111.2" y="54.3" width="19.1" height="18.7" fill="#383838"/>
<rect x="129.8" y="54.3" width="19.1" height="18.7" fill="#505050"/>
<rect x="148.3" y="54.3" width="37.7" height="18.7" fill="#606060"/>
<rect x="185.4" y="54.3" width="74.8" height="18.7" fill="#686868"/>
<rect x="259.6" y="54.3" width="111.8" height="18.7" fill="#707070"/>
<rect x="370.8" y="54.3" width="19.1" height="18.7" fill="#787878"/>
<rect x="389.4" y="54.3" width="111.8" height="18.7" fill="#808080"/>
<rect x="-55.6" y="72.4" width="74.8" height="18.7" fill="#505050"/>
<rect x="18.5" y="72.4" width="19.1" height="18.7" fill="#404040"/>
<rect x="37.1" y="72.4" width="37.7" height="18.7" fill="#303030"/>
<rect x="74.2" y="72.4" width="19.1" height="18.7" fill="#282828"/>
<rect x="92.7" y="72.4" width="19.1" height="18.7" fill="#383838"/>
<rect x="111.2" y="72.4" width="19.1" height="18.7" fill="#505050"/>
<rect x="129.8" y="72.4" width="19.1" height="18.7" fill="#606060"/>
<rect x="148.3" y="72.4" width="19.1" height="18.7" fill="#686868"/>
<rect x="166.9" y="72.4" width="130.4" height="18.7" fill="#707070"/>
<rect x="296.7" y="72.4" width="19.1" height="18.7" fill="#787878"/>
<rect x="315.2" y="72.4" width="111.8" height="18.7" fill="#808080"/>
<rect x="426.5" y="72.4" width="74.8" height="18.7" fill="#878787"/>
<rect x="-55.6" y="90.5" width="74.8" height="18.7" fill="#606060"/>
<rect x="18.5" y="90.5" width="19.1" height="18.7" fill="#505050"/>
<rect x="37.1" y="90.5" width="56.2" height="18.7" fill="#404040"/>
<rect x="92.7" y="90.5" width="19.1" height="18.7" fill="#505050"/>
<rect x="111.2" y="90.5" width="19.1" height="18.7" fill="#606060"/>
<rect x="129.8" y="90.5" width="37.7" height="18.7" fill="#707070"/>
<rect x="166.9" y="90.5" width="56.2" height="18.7" fill="#787878"/>
<rect x="222.5" y="90.5" width="186.0" height="18.7" fill="#808080"/>
<rect x="407.9" y="90.5" width="93.3" height="18.7" fill="#878787"/>
<rect x="-55.6" y="108.6" width="74.8" height="18.7" fill="#686868"/>
<rect x="18.5" y="108.6" width="19.1" height="18.7" fill="#606060"/>
<rect x="37.1" y="108.6" width="37.7" height="18.7" fill="#505050"/>
<rect x="74.2" y="108.6" width="19.1" height="18.7" fill="#606060"/>
<rect x="92.7" y="108.6" width="19.1" height="18.7" fill="#686868"/>
<rect x="111.2" y="108.6" width="19.1" height="18.7" fill="#707070"/>
<rect x="129.8" y="108.6" width="19.1" height="18.7" fill="#787878"/>
<rect x="148.3" y="108.6" width="130.4" height="18.7" fill="#808080"/>
<rect x="278.1" y="108.6" width="223.1" height="18.7" fill="#878787"/>
<rect x="-55.6" y="126.7" width="74.8" height="18.7" fill="#787878"/>
<rect x="18.5" y="126.7" width="56.2" height="18.7" fill="#707070"/>
<rect x="74.2" y="126.7" width="19.1" height="18.7" fill="#787878"/>
<rect x="92.7" y="126.7" width="56.2" height="18.7" fill="#808080"/>
<rect x="148.3" y="126.7" width="352.9" height="18.7" fill="#878787"/>
<rect x="-55.6" y="144.8" width="74.8" height="18.7" fill="#808080"/>
<rect x="18.5" y="144.8" width="19.1" height="18.7" fill="#787878"/>
<rect x="37.1" y="144.8" width="37.7" height="18.7" fill="#808080"/>
<rect x="74.2" y="144.8" width="56.2" height="18.7" fill="#878787"/>
<rect x="129.8" y="144.8" width="74.8" height="18.7" fill="#8f8f8f"/>
<rect x="204.0" y="144.8" width="93.3" height="18.7" fill="#878787"/>
<rect x="296.7" y="144.8" width="19.1" height="18.7" fill="#8f8f8f"/>
<rect x="315.2" y="144.8" width="186.0" height="18.7" fill="#979797"/>
<rect x="-55.6" y="162.9" width="74.8" height="18.7" fill="#787878"/>
<rect x="18.5" y="162.9" width="19.1" height="18.7" fill="#808080"/>
<rect x="37.1" y="162.9" width="19.1" height="18.7" fill="#878787"/>
<rect x="55.6" y="162.9" width="19.1" height="18.7" fill="#8f8f8f"/>
<rect x="74.2" y="162.9" width="315.8" height="18.7" fill="#979797"/>
<rect x="389.4" y="162.9" width="111.8" height="18.7" fill="#9f9f9f"/>
<rect x="-55.6" y="181.1" width="74.8" height="18.7" fill="#808080"/>
<rect x="18.5" y="181.1" width="19.1" height="18.7" fill="#878787"/>
<rect x="37.1" y="181.1" width="19.1" height="18.7" fill="#8f8f8f"/>
<rect x="55.6" y="181.1" width="37.7" height="18.7" fill="#979797"/>
<rect x="92.7" y="181.1" width="37.7" height="18.7" fill="#9f9f9f"/>
<rect x="129.8" y="181.1" width="74.8" height="18.7" fill="#979797"/>
<rect x="204.0" y="181.1" width="19.1" height="18.7" fill="#9f9f9f"/>
<rect x="222.5" y="181.1" width="93.3" height="18.7" fill="#979797"/>
<rect x="315.2" y="181.1" width="74.8" height="18.7" fill="#9f9f9f"/>
<rect x="389.4" y="181.1" width="111.8" height="18.7" fill="#a7a7a7"/>
<rect x="-55.6" y="199.2" width="74.8" height="18.7" fill="#808080"/>
<rect x="18.5" y="199.2" width="19.1" height="18.7" fill="#8f8f8f"/>
<rect x="37.1" y="199.2" width="130.4" height="18.7" fill="#9f9f9f"/>
<rect x="166.9" y="199.2" width="19.1" height="18.7" fill="#979797"/>
<rect x="185.4" y="199.2" width="167.5" height="18.7" fill="#9f9f9f"/>
<rect x="352.3" y="199.2" width="37.7" height="18.7" fill="#a7a7a7"/>
<rect x="389.4" y="199.2" width="19.1" height="18.7" fill="#afafaf"/>
<rect x="407.9" y="199.2" width="93.3" height="18.7" fill="#b7b7b7"/>
<rect x="-55.6" y="217.3" width="74.8" height="18.7" fill="#878787"/>
<rect x="18.5" y="217.3" width="19.1" height="18.7" fill="#979797"/>
<rect x="37.1" y="217.3" width="37.7" height="18.7" fill="#9f9f9f"/>
<rect x="74.2" y="217.3" width="56.2" height="18.7" fill="#a7a7a7"/>
<rect x="129.8" y="217.3" width="56.2" height="18.7" fill="#9f9f9f"/>
<rect x="185.4" y="217.3" width="74.8" height="18.7" fill="#a7a7a7"/>
<rect x="259.6" y="217.3" width="56.2" height="18.7" fill="#9f9f9f"/>
<rect x="315.2" y="217.3" width="37.7" height="18.7" fill="#a7a7a7"/>
<rect x="352.3" y="217.3" width="74.8" height="18.7" fill="#b7b7b7"/>
<rect x="426.5" y="217.3" width="74.8" height="18.7" fill="#bfbfbf"/>
<rect x="-55.6" y="235.4" width="74.8" height="18.7" fill="#878787"/>
<rect x="18.5" y="235.4" width="19.1" height="18.7" fill="#979797"/>
<rect x="37.1" y="235.4" width="37.7" height="18.7" fill="#9f9f9f"/>
<rect x="74.2" y="235.4" width="260.2" height="18.7" fill="#a7a7a7"/>
<rect x="333.8" y="235.4" width="37.7" height="18.7" fill="#b7b7b7"/>
<rect x="370.8" y="235.4" width="130.4" height="18.7" fill="#bfbfbf"/>
<rect x="-55.6" y="253.5" width="74.8" height="18.7" fill="#808080"/>
<rect x="18.5" y="253.5" width="19.1" height="18.7" fill="#979797"/>
<rect x="37.1" y="253.5" width="37.7" height="18.7" fill="#9f9f9f"/>
<rect x="74.2" y="253.5" width="148.9" height="18.7" fill="#a7a7a7"/>
<rect x="222.5" y="253.5" width="19.1" height="18.7" fill="#afafaf"/>
<rect x="241.0" y="253.5" width="37.7" height="18.7" fill="#b7b7b7"/>
<rect x="278.1" y="253.5" width="19.1" height="18.7" fill="#afafaf"/>
<rect x="296.7" y="253.5" width="56.2" height="18.7" fill="#b7b7b7"/>
<rect x="352.3" y="253.5" width="56.2" height="18.7" fill="#bfbfbf"/>
<rect x="407.9" y="253.5" width="93.3" height="18.7" fill="#cfcfcf"/>
<rect x="-55.6" y="271.6" width="74.8" height="18.7" fill="#787878"/>
<rect x="18.5" y="271.6" width="19.1" height="18.7" fill="#8f8f8f"/>
<rect x="37.1" y="271.6" width="37.7" height="18.7" fill="#9f9f9f"/>
<rect x="74.2" y="271.6" width="93.3" height="18.7" fill="#a7a7a7"/>
<rect x="166.9" y="271.6" width="19.1" height="18.7" fill="#afafaf"/>
<rect x="185.4" y="271.6" width="148.9" height="18.7" fill="#b7b7b7"/>
<rect x="333.8" y="271.6" width="56.2" height="18.7" fill="#bfbfbf"/>
<rect x="389.4" y="271.6" width="111.8" height="18.7" fill="#cfcfcf"/>
<rect x="-55.6" y="289.7" width="74.8" height="18.7" fill="#707070"/>
<rect x="18.5" y="289.7" width="19.1" height="18.7" fill="#878787"/>
<rect x="37.1" y="289.7" width="37.7" height="18.7" fill="#9f9f9f"/>
<rect x="74.2" y="289.7" width="93.3" height="18.7" fill="#a7a7a7"/>
<rect x="166.9" y="289.7" width="111.8" height="18.7" fill="#b7b7b7"/>
<rect x="278.1" y="289.7" width="93.3" height="18.7" fill="#bfbfbf"/>
<rect x="370.8" y="289.7" width="130.4" height="18.7" fill="#cfcfcf"/>
<rect x="-55.6" y="307.8" width="74.8" height="18.7" fill="#707070"/>
<rect x="18.5" y="307.8" width="19.1" height="18.7" fill="#808080"/>
<rect x="37.1" y="307.8" width="37.7" height="18.7" fill="#9f9f9f"/>
<rect x="74.2" y="307.8" width="93.3" height="18.7" fill="#a7a7a7"/>
<rect x="166.9" y="307.8" width="19.1" height="18.7" fill="#afafaf"/>
<rect x="185.4" y="307.8" width="74.8" height="18.7" fill="#b7b7b7"/>
<rect x="259.6" y="307.8" width="93.3" height="18.7" fill="#bfbfbf"/>
<rect x="352.3" y="307.8" width="148.9" height="18.7" fill="#cfcfcf"/>
<rect x="-55.6" y="325.9" width="74.8" height="18.7" fill="#707070"/>
<rect x="18.5" y="325.9" width="19.1" height="18.7" fill="#878787"/>
<rect x="37.1" y="325.9" width="111.8" height="18.7" fill="#9f9f9f"/>
<rect x="148.3" y="325.9" width="37.7" height="18.7" fill="#a7a7a7"/>
<rect x="185.4" y="325.9" width="56.2" height="18.7" fill="#b7b7b7"/>
<rect x="241.0" y="325.9" width="93.3" height="18.7" fill="#bfbfbf"/>
<rect x="333.8" y="325.9" width="93.3" height="18.7" fill="#cfcfcf"/>
<rect x="426.5" y="325.9" width="74.8" height="18.7" fill="#d7d7d7"/>
<rect x="-55.6" y="344.0" width="74.8" height="18.7" fill="#707070"/>
<rect x="18.5" y="344.0" width="19.1" height="18.7" fill="#878787"/>
<rect x="37.1" y="344.0" width="111.8" height="18.7" fill="#9f9f9f"/>
<rect x="148.3" y="344.0" width="37.7" height="18.7" fill="#a7a7a7"/>
<rect x="185.4" y="344.0" width="56.2" height="18.7" fill="#b7b7b7"/>
<rect x="241.0" y="344.0" width="93.3" height="18.7" fill="#bfbfbf"/>
<rect x="333.8" y="344.0" width="93.3" height="18.7" fill="#cfcfcf"/>
<rect x="426.5" y="344.0" width="74.8" height="18.7" fill="#d7d7d7"/>
<rect x="-55.6" y="362.1" width="74.8" height="18.7" fill="#707070"/>
<rect x="18.5" y="362.1" width="19.1" height="18.7" fill="#878787"/>
<rect x="37.1" y="362.1" width="111.8" height="18.7" fill="#9f9f9f"/>
<rect x="148.3" y="362.1" width="37.7" height="18.7" fill="#a7a7a7"/>
<rect x="185.4" y="362.1" width="56.2" height="18.7" fill="#b7b7b7"/>
<rect x="241.0" y="362.1" width="93.3" height="18.7" fill="#bfbfbf"/>
<rect x="333.8" y="362.1" width="93.3" height="18.7" fill="#cfcfcf"/>
<rect x="426.5" y="362.1" width="74.8" height="18.7" fill="#d7d7d7"/>
<rect x="-55.6" y="380.2" width="74.8" height="18.7" fill="#707070"/>
<rect x="18.5" y="380.2" width="19.1" height="18.7" fill="#878787"/>
<rect x="37.1" y="380.2" width="111.8" height="18.7" fill="#9f9f9f"/>
<rect x="148.3" y="380.2" width="37.7" height="18.7" fill="#a7a7a7"/>
<rect x="185.4" y="380.2" width="56.2" height="18.7" fill="#b7b7b7"/>
<rect x="241.0" y="380.2" width="93.3" height="18.7" fill="#bfbfbf"/>
<rect x="333.8" y="380.2" width="93.3" height="18.7" fill="#cfcfcf"/>
<rect x="426.5" y="380.2" width="74.8" height="18.7" fill="#d7d7d7"/>

</g>
<polygon points="29.2,0.0 29.2,19.8 43.9,36.6 62.7,35.5 73.1,31.3 81.5,26.1 81.5,9.4 73.1,6.3 73.1,0.0" fill="#fff" />
<polygon points="0.0,61.6 3.1,61.6 9.4,51.2 26.1,46.0 41.8,46.0 49.1,48.0 58.5,43.9 73.1,41.8 81.5,37.6 85.6,39.7 94.0,44.9 98.2,49.1 99.2,64.8 83.6,82.5 78.3,90.9 75.2,99.2 75.2,109.0 73.1,110.0 67.9,115.3 58.5,117.4 56.4,120.5 52.2,129.9 38.6,130.9 36.6,139.3 17.8,139.3 10.4,135.1 6.3,134.0 0.0,132.0" fill="#fff" />
<polygon points="0.0,307.9 4.2,308.9 6.3,316.2 8.4,323.5 9.4,335.0 10.4,344.0 0.0,344.0" fill="#fff" />
<polygon points="235.3,268.5 242.6,264.3 249.0,247.5 268.9,245.4 279.4,241.2 291.0,241.2 294.2,245.4 278.4,263.3 259.5,264.3 259.5,273.8 247.9,273.8" fill="#fff" />
<ellipse cx="130.5" cy="222.0" rx="3" ry="2.2" fill="#fff" />
<ellipse cx="128.0" cy="237.0" rx="2.5" ry="2.5" fill="#fff" />
<ellipse cx="433.0" cy="290.0" rx="2.5" ry="2.5" fill="#fff" />
<rect x="0" y="0" width="29" height="2" fill="#fff"/>
</svg>
<div class="fr" style="left:790px;top:477px;width:451px;height:350px"></div>
<svg class="pn" style="left:192px;top:981px" width="444" height="296" viewBox="0 0 444 296">
<defs><filter id="fe" filterUnits="userSpaceOnUse" x="-55.5" y="-55.5" width="555.0" height="407.0" color-interpolation-filters="sRGB"><feGaussianBlur stdDeviation="7.0" result="bl"/><feComponentTransfer><feFuncR type="table" tableValues="0 0 0 0 0.5 1 1 1 0.5"/><feFuncG type="table" tableValues="0 0 0.5 1 1 1 0.5 0 0"/><feFuncB type="table" tableValues="0.5 1 1 1 0.5 0 0 0 0"/></feComponentTransfer></filter></defs>
<g filter="url(#fe)" shape-rendering="crispEdges">
<rect x="-55.5" y="-55.5" width="111.6" height="19.1" fill="#000000"/>
<rect x="55.5" y="-55.5" width="19.1" height="19.1" fill="#101010"/>
<rect x="74.0" y="-55.5" width="19.1" height="19.1" fill="#505050"/>
<rect x="92.5" y="-55.5" width="56.1" height="19.1" fill="#606060"/>
<rect x="148.0" y="-55.5" width="74.6" height="19.1" fill="#686868"/>
<rect x="222.0" y="-55.5" width="19.1" height="19.1" fill="#606060"/>
<rect x="240.5" y="-55.5" width="19.1" height="19.1" fill="#686868"/>
<rect x="259.0" y="-55.5" width="19.1" height="19.1" fill="#8f8f8f"/>
<rect x="277.5" y="-55.5" width="37.6" height="19.1" fill="#9f9f9f"/>
<rect x="314.5" y="-55.5" width="19.1" height="19.1" fill="#878787"/>
<rect x="333.0" y="-55.5" width="37.6" height="19.1" fill="#979797"/>
<rect x="370.0" y="-55.5" width="19.1" height="19.1" fill="#9f9f9f"/>
<rect x="388.5" y="-55.5" width="19.1" height="19.1" fill="#afafaf"/>
<rect x="407.0" y="-55.5" width="19.1" height="19.1" fill="#b7b7b7"/>
<rect x="425.5" y="-55.5" width="74.6" height="19.1" fill="#afafaf"/>
<rect x="-55.5" y="-37.0" width="111.6" height="19.1" fill="#000000"/>
<rect x="55.5" y="-37.0" width="19.1" height="19.1" fill="#101010"/>
<rect x="74.0" y="-37.0" width="19.1" height="19.1" fill="#505050"/>
<rect x="92.5" y="-37.0" width="56.1" height="19.1" fill="#606060"/>
<rect x="148.0" y="-37.0" width="74.6" height="19.1" fill="#686868"/>
<rect x="222.0" y="-37.0" width="19.1" height="19.1" fill="#606060"/>
<rect x="240.5" y="-37.0" width="19.1" height="19.1" fill="#686868"/>
<rect x="259.0" y="-37.0" width="19.1" height="19.1" fill="#8f8f8f"/>
<rect x="277.5" y="-37.0" width="37.6" height="19.1" fill="#9f9f9f"/>
<rect x="314.5" y="-37.0" width="19.1" height="19.1" fill="#878787"/>
<rect x="333.0" y="-37.0" width="37.6" height="19.1" fill="#979797"/>
<rect x="370.0" y="-37.0" width="19.1" height="19.1" fill="#9f9f9f"/>
<rect x="388.5" y="-37.0" width="19.1" height="19.1" fill="#afafaf"/>
<rect x="407.0" y="-37.0" width="19.1" height="19.1" fill="#b7b7b7"/>
<rect x="425.5" y="-37.0" width="74.6" height="19.1" fill="#afafaf"/>
<rect x="-55.5" y="-18.5" width="111.6" height="19.1" fill="#000000"/>
<rect x="55.5" y="-18.5" width="19.1" height="19.1" fill="#101010"/>
<rect x="74.0" y="-18.5" width="19.1" height="19.1" fill="#505050"/>
<rect x="92.5" y="-18.5" width="56.1" height="19.1" fill="#606060"/>
<rect x="148.0" y="-18.5" width="74.6" height="19.1" fill="#686868"/>
<rect x="222.0" y="-18.5" width="19.1" height="19.1" fill="#606060"/>
<rect x="240.5" y="-18.5" width="19.1" height="19.1" fill="#686868"/>
<rect x="259.0" y="-18.5" width="19.1" height="19.1" fill="#8f8f8f"/>
<rect x="277.5" y="-18.5" width="37.6" height="19.1" fill="#9f9f9f"/>
<rect x="314.5" y="-18.5" width="19.1" height="19.1" fill="#878787"/>
<rect x="333.0" y="-18.5" width="37.6" height="19.1" fill="#979797"/>
<rect x="370.0" y="-18.5" width="19.1" height="19.1" fill="#9f9f9f"/>
<rect x="388.5" y="-18.5" width="19.1" height="19.1" fill="#afafaf"/>
<rect x="407.0" y="-18.5" width="19.1" height="19.1" fill="#b7b7b7"/>
<rect x="425.5" y="-18.5" width="74.6" height="19.1" fill="#afafaf"/>
<rect x="-55.5" y="0.0" width="111.6" height="19.1" fill="#000000"/>
<rect x="55.5" y="0.0" width="19.1" height="19.1" fill="#101010"/>
<rect x="74.0" y="0.0" width="19.1" height="19.1" fill="#505050"/>
<rect x="92.5" y="0.0" width="56.1" height="19.1" fill="#606060"/>
<rect x="148.0" y="0.0" width="74.6" height="19.1" fill="#686868"/>
<rect x="222.0" y="0.0" width="19.1" height="19.1" fill="#606060"/>
<rect x="240.5" y="0.0" width="19.1" height="19.1" fill="#686868"/>
<rect x="259.0" y="0.0" width="19.1" height="19.1" fill="#8f8f8f"/>
<rect x="277.5" y="0.0" width="37.6" height="19.1" fill="#9f9f9f"/>
<rect x="314.5" y="0.0" width="19.1" height="19.1" fill="#878787"/>
<rect x="333.0" y="0.0" width="37.6" height="19.1" fill="#979797"/>
<rect x="370.0" y="0.0" width="19.1" height="19.1" fill="#9f9f9f"/>
<rect x="388.5" y="0.0" width="19.1" height="19.1" fill="#afafaf"/>
<rect x="407.0" y="0.0" width="19.1" height="19.1" fill="#b7b7b7"/>
<rect x="425.5" y="0.0" width="74.6" height="19.1" fill="#afafaf"/>
<rect x="-55.5" y="18.5" width="74.6" height="19.1" fill="#000000"/>
<rect x="18.5" y="18.5" width="19.1" height="19.1" fill="#101010"/>
<rect x="37.0" y="18.5" width="19.1" height="19.1" fill="#282828"/>
<rect x="55.5" y="18.5" width="19.1" height="19.1" fill="#505050"/>
<rect x="74.0" y="18.5" width="56.1" height="19.1" fill="#606060"/>
<rect x="129.5" y="18.5" width="37.6" height="19.1" fill="#686868"/>
<rect x="166.5" y="18.5" width="19.1" height="19.1" fill="#707070"/>
<rect x="185.0" y="18.5" width="37.6" height="19.1" fill="#686868"/>
<rect x="222.0" y="18.5" width="19.1" height="19.1" fill="#606060"/>
<rect x="240.5" y="18.5" width="19.1" height="19.1" fill="#686868"/>
<rect x="259.0" y="18.5" width="19.1" height="19.1" fill="#8f8f8f"/>
<rect x="277.5" y="18.5" width="37.6" height="19.1" fill="#a7a7a7"/>
<rect x="314.5" y="18.5" width="37.6" height="19.1" fill="#9f9f9f"/>
<rect x="351.5" y="18.5" width="19.1" height="19.1" fill="#979797"/>
<rect x="370.0" y="18.5" width="19.1" height="19.1" fill="#9f9f9f"/>
<rect x="388.5" y="18.5" width="19.1" height="19.1" fill="#b7b7b7"/>
<rect x="407.0" y="18.5" width="19.1" height="19.1" fill="#c7c7c7"/>
<rect x="425.5" y="18.5" width="74.6" height="19.1" fill="#b7b7b7"/>
<rect x="-55.5" y="37.0" width="74.6" height="19.1" fill="#202020"/>
<rect x="18.5" y="37.0" width="19.1" height="19.1" fill="#505050"/>
<rect x="37.0" y="37.0" width="56.1" height="19.1" fill="#606060"/>
<rect x="92.5" y="37.0" width="37.6" height="19.1" fill="#686868"/>
<rect x="129.5" y="37.0" width="37.6" height="19.1" fill="#606060"/>
<rect x="166.5" y="37.0" width="56.1" height="19.1" fill="#686868"/>
<rect x="222.0" y="37.0" width="37.6" height="19.1" fill="#606060"/>
<rect x="259.0" y="37.0" width="19.1" height="19.1" fill="#878787"/>
<rect x="277.5" y="37.0" width="19.1" height="19.1" fill="#979797"/>
<rect x="296.0" y="37.0" width="37.6" height="19.1" fill="#a7a7a7"/>
<rect x="333.0" y="37.0" width="19.1" height="19.1" fill="#9f9f9f"/>
<rect x="351.5" y="37.0" width="19.1" height="19.1" fill="#8f8f8f"/>
<rect x="370.0" y="37.0" width="19.1" height="19.1" fill="#9f9f9f"/>
<rect x="388.5" y="37.0" width="19.1" height="19.1" fill="#b7b7b7"/>
<rect x="407.0" y="37.0" width="93.1" height="19.1" fill="#cfcfcf"/>
<rect x="-55.5" y="55.5" width="93.1" height="19.1" fill="#606060"/>
<rect x="37.0" y="55.5" width="19.1" height="19.1" fill="#686868"/>
<rect x="55.5" y="55.5" width="37.6" height="19.1" fill="#707070"/>
<rect x="92.5" y="55.5" width="19.1" height="19.1" fill="#686868"/>
<rect x="111.0" y="55.5" width="148.6" height="19.1" fill="#606060"/>
<rect x="259.0" y="55.5" width="19.1" height="19.1" fill="#707070"/>
<rect x="277.5" y="55.5" width="19.1" height="19.1" fill="#8f8f8f"/>
<rect x="296.0" y="55.5" width="37.6" height="19.1" fill="#979797"/>
<rect x="333.0" y="55.5" width="19.1" height="19.1" fill="#8f8f8f"/>
<rect x="351.5" y="55.5" width="19.1" height="19.1" fill="#878787"/>
<rect x="370.0" y="55.5" width="19.1" height="19.1" fill="#9f9f9f"/>
<rect x="388.5" y="55.5" width="19.1" height="19.1" fill="#bfbfbf"/>
<rect x="407.0" y="55.5" width="93.1" height="19.1" fill="#cfcfcf"/>
<rect x="-55.5" y="74.0" width="74.6" height="19.1" fill="#686868"/>
<rect x="18.5" y="74.0" width="74.6" height="19.1" fill="#707070"/>
<rect x="92.5" y="74.0" width="19.1" height="19.1" fill="#686868"/>
<rect x="111.0" y="74.0" width="148.6" height="19.1" fill="#606060"/>
<rect x="259.0" y="74.0" width="19.1" height="19.1" fill="#686868"/>
<rect x="277.5" y="74.0" width="19.1" height="19.1" fill="#808080"/>
<rect x="296.0" y="74.0" width="37.6" height="19.1" fill="#8f8f8f"/>
<rect x="333.0" y="74.0" width="19.1" height="19.1" fill="#878787"/>
<rect x="351.5" y="74.0" width="19.1" height="19.1" fill="#8f8f8f"/>
<rect x="370.0" y="74.0" width="19.1" height="19.1" fill="#b7b7b7"/>
<rect x="388.5" y="74.0" width="19.1" height="19.1" fill="#cfcfcf"/>
<rect x="407.0" y="74.0" width="93.1" height="19.1" fill="#d7d7d7"/>
<rect x="-55.5" y="92.5" width="74.6" height="19.1" fill="#686868"/>
<rect x="18.5" y="92.5" width="19.1" height="19.1" fill="#707070"/>
<rect x="37.0" y="92.5" width="19.1" height="19.1" fill="#787878"/>
<rect x="55.5" y="92.5" width="56.1" height="19.1" fill="#707070"/>
<rect x="111.0" y="92.5" width="37.6" height="19.1" fill="#686868"/>
<rect x="148.0" y="92.5" width="111.6" height="19.1" fill="#606060"/>
<rect x="259.0" y="92.5" width="19.1" height="19.1" fill="#686868"/>
<rect x="277.5" y="92.5" width="19.1" height="19.1" fill="#707070"/>
<rect x="296.0" y="92.5" width="37.6" height="19.1" fill="#878787"/>
<rect x="333.0" y="92.5" width="19.1" height="19.1" fill="#9f9f9f"/>
<rect x="351.5" y="92.5" width="19.1" height="19.1" fill="#b7b7b7"/>
<rect x="370.0" y="92.5" width="37.6" height="19.1" fill="#cfcfcf"/>
<rect x="407.0" y="92.5" width="93.1" height="19.1" fill="#d7d7d7"/>
<rect x="-55.5" y="111.0" width="74.6" height="19.1" fill="#686868"/>
<rect x="18.5" y="111.0" width="19.1" height="19.1" fill="#707070"/>
<rect x="37.0" y="111.0" width="56.1" height="19.1" fill="#787878"/>
<rect x="92.5" y="111.0" width="74.6" height="19.1" fill="#707070"/>
<rect x="166.5" y="111.0" width="93.1" height="19.1" fill="#686868"/>
<rect x="259.0" y="111.0" width="19.1" height="19.1" fill="#707070"/>
<rect x="277.5" y="111.0" width="19.1" height="19.1" fill="#808080"/>
<rect x="296.0" y="111.0" width="19.1" height="19.1" fill="#9f9f9f"/>
<rect x="314.5" y="111.0" width="19.1" height="19.1" fill="#b7b7b7"/>
<rect x="333.0" y="111.0" width="19.1" height="19.1" fill="#c7c7c7"/>
<rect x="351.5" y="111.0" width="19.1" height="19.1" fill="#cfcfcf"/>
<rect x="370.0" y="111.0" width="56.1" height="19.1" fill="#dfdfdf"/>
<rect x="425.5" y="111.0" width="74.6" height="19.1" fill="#d7d7d7"/>
<rect x="-55.5" y="129.5" width="74.6" height="19.1" fill="#686868"/>
<rect x="18.5" y="129.5" width="19.1" height="19.1" fill="#707070"/>
<rect x="37.0" y="129.5" width="19.1" height="19.1" fill="#787878"/>
<rect x="55.5" y="129.5" width="19.1" height="19.1" fill="#808080"/>
<rect x="74.0" y="129.5" width="19.1" height="19.1" fill="#878787"/>
<rect x="92.5" y="129.5" width="19.1" height="19.1" fill="#9f9f9f"/>
<rect x="111.0" y="129.5" width="19.1" height="19.1" fill="#b7b7b7"/>
<rect x="129.5" y="129.5" width="56.1" height="19.1" fill="#c7c7c7"/>
<rect x="185.0" y="129.5" width="19.1" height="19.1" fill="#bfbfbf"/>
<rect x="203.5" y="129.5" width="19.1" height="19.1" fill="#b7b7b7"/>
<rect x="222.0" y="129.5" width="19.1" height="19.1" fill="#a7a7a7"/>
<rect x="240.5" y="129.5" width="37.6" height="19.1" fill="#b7b7b7"/>
<rect x="277.5" y="129.5" width="19.1" height="19.1" fill="#bfbfbf"/>
<rect x="296.0" y="129.5" width="19.1" height="19.1" fill="#c7c7c7"/>
<rect x="314.5" y="129.5" width="19.1" height="19.1" fill="#bfbfbf"/>
<rect x="333.0" y="129.5" width="19.1" height="19.1" fill="#b7b7b7"/>
<rect x="351.5" y="129.5" width="19.1" height="19.1" fill="#dfdfdf"/>
<rect x="370.0" y="129.5" width="19.1" height="19.1" fill="#e7e7e7"/>
<rect x="388.5" y="129.5" width="19.1" height="19.1" fill="#efefef"/>
<rect x="407.0" y="129.5" width="19.1" height="19.1" fill="#e7e7e7"/>
<rect x="425.5" y="129.5" width="74.6" height="19.1" fill="#dfdfdf"/>
<rect x="-55.5" y="148.0" width="74.6" height="19.1" fill="#686868"/>
<rect x="18.5" y="148.0" width="19.1" height="19.1" fill="#707070"/>
<rect x="37.0" y="148.0" width="19.1" height="19.1" fill="#878787"/>
<rect x="55.5" y="148.0" width="19.1" height="19.1" fill="#979797"/>
<rect x="74.0" y="148.0" width="19.1" height="19.1" fill="#a7a7a7"/>
<rect x="92.5" y="148.0" width="19.1" height="19.1" fill="#b7b7b7"/>
<rect x="111.0" y="148.0" width="37.6" height="19.1" fill="#bfbfbf"/>
<rect x="148.0" y="148.0" width="37.6" height="19.1" fill="#c7c7c7"/>
<rect x="185.0" y="148.0" width="19.1" height="19.1" fill="#cfcfcf"/>
<rect x="203.5" y="148.0" width="37.6" height="19.1" fill="#bfbfbf"/>
<rect x="240.5" y="148.0" width="19.1" height="19.1" fill="#b7b7b7"/>
<rect x="259.0" y="148.0" width="37.6" height="19.1" fill="#afafaf"/>
<rect x="296.0" y="148.0" width="56.1" height="19.1" fill="#a7a7a7"/>
<rect x="351.5" y="148.0" width="19.1" height="19.1" fill="#cfcfcf"/>
<rect x="370.0" y="148.0" width="56.1" height="19.1" fill="#dfdfdf"/>
<rect x="425.5" y="148.0" width="74.6" height="19.1" fill="#d7d7d7"/>
<rect x="-55.5" y="166.5" width="74.6" height="19.1" fill="#686868"/>
<rect x="18.5" y="166.5" width="19.1" height="19.1" fill="#707070"/>
<rect x="37.0" y="166.5" width="19.1" height="19.1" fill="#9f9f9f"/>
<rect x="55.5" y="166.5" width="19.1" height="19.1" fill="#b7b7b7"/>
<rect x="74.0" y="166.5" width="37.6" height="19.1" fill="#c7c7c7"/>
<rect x="111.0" y="166.5" width="37.6" height="19.1" fill="#cfcfcf"/>
<rect x="148.0" y="166.5" width="19.1" height="19.1" fill="#c7c7c7"/>
<rect x="166.5" y="166.5" width="19.1" height="19.1" fill="#bfbfbf"/>
<rect x="185.0" y="166.5" width="19.1" height="19.1" fill="#afafaf"/>
<rect x="203.5" y="166.5" width="19.1" height="19.1" fill="#a7a7a7"/>
<rect x="222.0" y="166.5" width="56.1" height="19.1" fill="#9f9f9f"/>
<rect x="277.5" y="166.5" width="19.1" height="19.1" fill="#a7a7a7"/>
<rect x="296.0" y="166.5" width="19.1" height="19.1" fill="#afafaf"/>
<rect x="314.5" y="166.5" width="19.1" height="19.1" fill="#b7b7b7"/>
<rect x="333.0" y="166.5" width="19.1" height="19.1" fill="#c7c7c7"/>
<rect x="351.5" y="166.5" width="148.6" height="19.1" fill="#dfdfdf"/>
<rect x="-55.5" y="185.0" width="74.6" height="19.1" fill="#686868"/>
<rect x="18.5" y="185.0" width="19.1" height="19.1" fill="#787878"/>
<rect x="37.0" y="185.0" width="19.1" height="19.1" fill="#9f9f9f"/>
<rect x="55.5" y="185.0" width="19.1" height="19.1" fill="#bfbfbf"/>
<rect x="74.0" y="185.0" width="19.1" height="19.1" fill="#c7c7c7"/>
<rect x="92.5" y="185.0" width="37.6" height="19.1" fill="#cfcfcf"/>
<rect x="129.5" y="185.0" width="19.1" height="19.1" fill="#bfbfbf"/>
<rect x="148.0" y="185.0" width="19.1" height="19.1" fill="#afafaf"/>
<rect x="166.5" y="185.0" width="93.1" height="19.1" fill="#9f9f9f"/>
<rect x="259.0" y="185.0" width="19.1" height="19.1" fill="#a7a7a7"/>
<rect x="277.5" y="185.0" width="19.1" height="19.1" fill="#b7b7b7"/>
<rect x="296.0" y="185.0" width="19.1" height="19.1" fill="#c7c7c7"/>
<rect x="314.5" y="185.0" width="19.1" height="19.1" fill="#d7d7d7"/>
<rect x="333.0" y="185.0" width="19.1" height="19.1" fill="#dfdfdf"/>
<rect x="351.5" y="185.0" width="19.1" height="19.1" fill="#d7d7d7"/>
<rect x="370.0" y="185.0" width="130.1" height="19.1" fill="#dfdfdf"/>
<rect x="-55.5" y="203.5" width="74.6" height="19.1" fill="#686868"/>
<rect x="18.5" y="203.5" width="19.1" height="19.1" fill="#787878"/>
<rect x="37.0" y="203.5" width="19.1" height="19.1" fill="#a7a7a7"/>
<rect x="55.5" y="203.5" width="37.6" height="19.1" fill="#bfbfbf"/>
<rect x="92.5" y="203.5" width="19.1" height="19.1" fill="#afafaf"/>
<rect x="111.0" y="203.5" width="93.1" height="19.1" fill="#9f9f9f"/>
<rect x="203.5" y="203.5" width="19.1" height="19.1" fill="#a7a7a7"/>
<rect x="222.0" y="203.5" width="19.1" height="19.1" fill="#b7b7b7"/>
<rect x="240.5" y="203.5" width="19.1" height="19.1" fill="#bfbfbf"/>
<rect x="259.0" y="203.5" width="19.1" height="19.1" fill="#cfcfcf"/>
<rect x="277.5" y="203.5" width="19.1" height="19.1" fill="#d7d7d7"/>
<rect x="296.0" y="203.5" width="19.1" height="19.1" fill="#dfdfdf"/>
<rect x="314.5" y="203.5" width="19.1" height="19.1" fill="#e7e7e7"/>
<rect x="333.0" y="203.5" width="19.1" height="19.1" fill="#efefef"/>
<rect x="351.5" y="203.5" width="19.1" height="19.1" fill="#e7e7e7"/>
<rect x="370.0" y="203.5" width="130.1" height="19.1" fill="#dfdfdf"/>
<rect x="-55.5" y="222.0" width="74.6" height="19.1" fill="#686868"/>
<rect x="18.5" y="222.0" width="19.1" height="19.1" fill="#787878"/>
<rect x="37.0" y="222.0" width="19.1" height="19.1" fill="#9f9f9f"/>
<rect x="55.5" y="222.0" width="37.6" height="19.1" fill="#afafaf"/>
<rect x="92.5" y="222.0" width="74.6" height="19.1" fill="#9f9f9f"/>
<rect x="166.5" y="222.0" width="19.1" height="19.1" fill="#afafaf"/>
<rect x="185.0" y="222.0" width="19.1" height="19.1" fill="#d7d7d7"/>
<rect x="203.5" y="222.0" width="19.1" height="19.1" fill="#dfdfdf"/>
<rect x="222.0" y="222.0" width="19.1" height="19.1" fill="#d7d7d7"/>
<rect x="240.5" y="222.0" width="56.1" height="19.1" fill="#dfdfdf"/>
<rect x="296.0" y="222.0" width="19.1" height="19.1" fill="#e7e7e7"/>
<rect x="314.5" y="222.0" width="19.1" height="19.1" fill="#f7f7f7"/>
<rect x="333.0" y="222.0" width="19.1" height="19.1" fill="#ffffff"/>
<rect x="351.5" y="222.0" width="19.1" height="19.1" fill="#f7f7f7"/>
<rect x="370.0" y="222.0" width="19.1" height="19.1" fill="#efefef"/>
<rect x="388.5" y="222.0" width="111.6" height="19.1" fill="#dfdfdf"/>
<rect x="-55.5" y="240.5" width="74.6" height="19.1" fill="#707070"/>
<rect x="18.5" y="240.5" width="19.1" height="19.1" fill="#808080"/>
<rect x="37.0" y="240.5" width="19.1" height="19.1" fill="#9f9f9f"/>
<rect x="55.5" y="240.5" width="37.6" height="19.1" fill="#a7a7a7"/>
<rect x="92.5" y="240.5" width="56.1" height="19.1" fill="#9f9f9f"/>
<rect x="148.0" y="240.5" width="19.1" height="19.1" fill="#b7b7b7"/>
<rect x="166.5" y="240.5" width="19.1" height="19.1" fill="#d7d7d7"/>
<rect x="185.0" y="240.5" width="19.1" height="19.1" fill="#e7e7e7"/>
<rect x="203.5" y="240.5" width="37.6" height="19.1" fill="#efefef"/>
<rect x="240.5" y="240.5" width="19.1" height="19.1" fill="#f7f7f7"/>
<rect x="259.0" y="240.5" width="111.6" height="19.1" fill="#ffffff"/>
<rect x="370.0" y="240.5" width="19.1" height="19.1" fill="#f7f7f7"/>
<rect x="388.5" y="240.5" width="19.1" height="19.1" fill="#e7e7e7"/>
<rect x="407.0" y="240.5" width="93.1" height="19.1" fill="#dfdfdf"/>
<rect x="-55.5" y="259.0" width="74.6" height="19.1" fill="#707070"/>
<rect x="18.5" y="259.0" width="19.1" height="19.1" fill="#808080"/>
<rect x="37.0" y="259.0" width="19.1" height="19.1" fill="#9f9f9f"/>
<rect x="55.5" y="259.0" width="19.1" height="19.1" fill="#a7a7a7"/>
<rect x="74.0" y="259.0" width="37.6" height="19.1" fill="#9f9f9f"/>
<rect x="111.0" y="259.0" width="19.1" height="19.1" fill="#a7a7a7"/>
<rect x="129.5" y="259.0" width="19.1" height="19.1" fill="#d7d7d7"/>
<rect x="148.0" y="259.0" width="19.1" height="19.1" fill="#e7e7e7"/>
<rect x="166.5" y="259.0" width="19.1" height="19.1" fill="#f7f7f7"/>
<rect x="185.0" y="259.0" width="204.1" height="19.1" fill="#ffffff"/>
<rect x="388.5" y="259.0" width="19.1" height="19.1" fill="#f7f7f7"/>
<rect x="407.0" y="259.0" width="19.1" height="19.1" fill="#e7e7e7"/>
<rect x="425.5" y="259.0" width="74.6" height="19.1" fill="#dfdfdf"/>
<rect x="-55.5" y="277.5" width="74.6" height="19.1" fill="#787878"/>
<rect x="18.5" y="277.5" width="19.1" height="19.1" fill="#878787"/>
<rect x="37.0" y="277.5" width="19.1" height="19.1" fill="#9f9f9f"/>
<rect x="55.5" y="277.5" width="19.1" height="19.1" fill="#a7a7a7"/>
<rect x="74.0" y="277.5" width="37.6" height="19.1" fill="#9f9f9f"/>
<rect x="111.0" y="277.5" width="19.1" height="19.1" fill="#cfcfcf"/>
<rect x="129.5" y="277.5" width="19.1" height="19.1" fill="#dfdfdf"/>
<rect x="148.0" y="277.5" width="19.1" height="19.1" fill="#efefef"/>
<rect x="166.5" y="277.5" width="333.6" height="19.1" fill="#ffffff"/>
<rect x="-55.5" y="296.0" width="74.6" height="19.1" fill="#787878"/>
<rect x="18.5" y="296.0" width="19.1" height="19.1" fill="#878787"/>
<rect x="37.0" y="296.0" width="19.1" height="19.1" fill="#9f9f9f"/>
<rect x="55.5" y="296.0" width="19.1" height="19.1" fill="#a7a7a7"/>
<rect x="74.0" y="296.0" width="37.6" height="19.1" fill="#9f9f9f"/>
<rect x="111.0" y="296.0" width="19.1" height="19.1" fill="#cfcfcf"/>
<rect x="129.5" y="296.0" width="19.1" height="19.1" fill="#dfdfdf"/>
<rect x="148.0" y="296.0" width="19.1" height="19.1" fill="#efefef"/>
<rect x="166.5" y="296.0" width="333.6" height="19.1" fill="#ffffff"/>
<rect x="-55.5" y="314.5" width="74.6" height="19.1" fill="#787878"/>
<rect x="18.5" y="314.5" width="19.1" height="19.1" fill="#878787"/>
<rect x="37.0" y="314.5" width="19.1" height="19.1" fill="#9f9f9f"/>
<rect x="55.5" y="314.5" width="19.1" height="19.1" fill="#a7a7a7"/>
<rect x="74.0" y="314.5" width="37.6" height="19.1" fill="#9f9f9f"/>
<rect x="111.0" y="314.5" width="19.1" height="19.1" fill="#cfcfcf"/>
<rect x="129.5" y="314.5" width="19.1" height="19.1" fill="#dfdfdf"/>
<rect x="148.0" y="314.5" width="19.1" height="19.1" fill="#efefef"/>
<rect x="166.5" y="314.5" width="333.6" height="19.1" fill="#ffffff"/>
<rect x="-55.5" y="333.0" width="74.6" height="19.1" fill="#787878"/>
<rect x="18.5" y="333.0" width="19.1" height="19.1" fill="#878787"/>
<rect x="37.0" y="333.0" width="19.1" height="19.1" fill="#9f9f9f"/>
<rect x="55.5" y="333.0" width="19.1" height="19.1" fill="#a7a7a7"/>
<rect x="74.0" y="333.0" width="37.6" height="19.1" fill="#9f9f9f"/>
<rect x="111.0" y="333.0" width="19.1" height="19.1" fill="#cfcfcf"/>
<rect x="129.5" y="333.0" width="19.1" height="19.1" fill="#dfdfdf"/>
<rect x="148.0" y="333.0" width="19.1" height="19.1" fill="#efefef"/>
<rect x="166.5" y="333.0" width="333.6" height="19.1" fill="#ffffff"/>
<polygon points="-6.0,-6.0 74.0,-6.0 51.0,16.0 29.0,29.0 10.0,38.0 -6.0,51.0" fill="#000000" />
</g>
<rect x="244" y="290.5" width="14" height="6" rx="2" fill="#0000a0"/>
<ellipse cx="338.0" cy="233.5" rx="3" ry="2.5" fill="#0000c0" />
</svg>
<div class="fr" style="left:189px;top:978px;width:450px;height:302px"></div>
<svg class="pn" style="left:793px;top:981px" width="445" height="296" viewBox="0 0 445 296">
<defs><filter id="ff" filterUnits="userSpaceOnUse" x="-55.6" y="-55.5" width="556.2" height="407.0" color-interpolation-filters="sRGB"><feGaussianBlur stdDeviation="5.0" result="bl"/><feTurbulence type="fractalNoise" baseFrequency="0.25" numOctaves="2" seed="3" result="tn"/><feColorMatrix in="tn" type="matrix" values="1 0 0 0 0  1 0 0 0 0  1 0 0 0 0  0 0 0 0 1" result="tg"/><feComposite in="bl" in2="tg" operator="arithmetic" k1="0" k2="1" k3="0.22" k4="-0.11"/><feComponentTransfer><feFuncR type="table" tableValues="0 0 0 0 0.5 1 1 1 0.5"/><feFuncG type="table" tableValues="0 0 0.5 1 1 1 0.5 0 0"/><feFuncB type="table" tableValues="0.5 1 1 1 0.5 0 0 0 0"/></feComponentTransfer></filter></defs>
<g filter="url(#ff)" shape-rendering="crispEdges">
<rect x="-55.6" y="-55.5" width="74.8" height="19.1" fill="#000000"/>
<rect x="18.5" y="-55.5" width="19.1" height="19.1" fill="#080808"/>
<rect x="37.1" y="-55.5" width="19.1" height="19.1" fill="#101010"/>
<rect x="55.6" y="-55.5" width="19.1" height="19.1" fill="#585858"/>
<rect x="74.2" y="-55.5" width="19.1" height="19.1" fill="#686868"/>
<rect x="92.7" y="-55.5" width="19.1" height="19.1" fill="#707070"/>
<rect x="111.2" y="-55.5" width="37.7" height="19.1" fill="#686868"/>
<rect x="148.3" y="-55.5" width="19.1" height="19.1" fill="#707070"/>
<rect x="166.9" y="-55.5" width="19.1" height="19.1" fill="#686868"/>
<rect x="185.4" y="-55.5" width="19.1" height="19.1" fill="#707070"/>
<rect x="204.0" y="-55.5" width="19.1" height="19.1" fill="#686868"/>
<rect x="222.5" y="-55.5" width="19.1" height="19.1" fill="#787878"/>
<rect x="241.0" y="-55.5" width="37.7" height="19.1" fill="#878787"/>
<rect x="278.1" y="-55.5" width="37.7" height="19.1" fill="#787878"/>
<rect x="315.2" y="-55.5" width="19.1" height="19.1" fill="#808080"/>
<rect x="333.8" y="-55.5" width="19.1" height="19.1" fill="#787878"/>
<rect x="352.3" y="-55.5" width="19.1" height="19.1" fill="#707070"/>
<rect x="370.8" y="-55.5" width="19.1" height="19.1" fill="#686868"/>
<rect x="389.4" y="-55.5" width="19.1" height="19.1" fill="#606060"/>
<rect x="407.9" y="-55.5" width="93.3" height="19.1" fill="#686868"/>
<rect x="-55.6" y="-37.0" width="74.8" height="19.1" fill="#000000"/>
<rect x="18.5" y="-37.0" width="19.1" height="19.1" fill="#080808"/>
<rect x="37.1" y="-37.0" width="19.1" height="19.1" fill="#101010"/>
<rect x="55.6" y="-37.0" width="19.1" height="19.1" fill="#585858"/>
<rect x="74.2" y="-37.0" width="19.1" height="19.1" fill="#686868"/>
<rect x="92.7" y="-37.0" width="19.1" height="19.1" fill="#707070"/>
<rect x="111.2" y="-37.0" width="37.7" height="19.1" fill="#686868"/>
<rect x="148.3" y="-37.0" width="19.1" height="19.1" fill="#707070"/>
<rect x="166.9" y="-37.0" width="19.1" height="19.1" fill="#686868"/>
<rect x="185.4" y="-37.0" width="19.1" height="19.1" fill="#707070"/>
<rect x="204.0" y="-37.0" width="19.1" height="19.1" fill="#686868"/>
<rect x="222.5" y="-37.0" width="19.1" height="19.1" fill="#787878"/>
<rect x="241.0" y="-37.0" width="37.7" height="19.1" fill="#878787"/>
<rect x="278.1" y="-37.0" width="37.7" height="19.1" fill="#787878"/>
<rect x="315.2" y="-37.0" width="19.1" height="19.1" fill="#808080"/>
<rect x="333.8" y="-37.0" width="19.1" height="19.1" fill="#787878"/>
<rect x="352.3" y="-37.0" width="19.1" height="19.1" fill="#707070"/>
<rect x="370.8" y="-37.0" width="19.1" height="19.1" fill="#686868"/>
<rect x="389.4" y="-37.0" width="19.1" height="19.1" fill="#606060"/>
<rect x="407.9" y="-37.0" width="93.3" height="19.1" fill="#686868"/>
<rect x="-55.6" y="-18.5" width="74.8" height="19.1" fill="#000000"/>
<rect x="18.5" y="-18.5" width="19.1" height="19.1" fill="#080808"/>
<rect x="37.1" y="-18.5" width="19.1" height="19.1" fill="#101010"/>
<rect x="55.6" y="-18.5" width="19.1" height="19.1" fill="#585858"/>
<rect x="74.2" y="-18.5" width="19.1" height="19.1" fill="#686868"/>
<rect x="92.7" y="-18.5" width="19.1" height="19.1" fill="#707070"/>
<rect x="111.2" y="-18.5" width="37.7" height="19.1" fill="#686868"/>
<rect x="148.3" y="-18.5" width="19.1" height="19.1" fill="#707070"/>
<rect x="166.9" y="-18.5" width="19.1" height="19.1" fill="#686868"/>
<rect x="185.4" y="-18.5" width="19.1" height="19.1" fill="#707070"/>
<rect x="204.0" y="-18.5" width="19.1" height="19.1" fill="#686868"/>
<rect x="222.5" y="-18.5" width="19.1" height="19.1" fill="#787878"/>
<rect x="241.0" y="-18.5" width="37.7" height="19.1" fill="#878787"/>
<rect x="278.1" y="-18.5" width="37.7" height="19.1" fill="#787878"/>
<rect x="315.2" y="-18.5" width="19.1" height="19.1" fill="#808080"/>
<rect x="333.8" y="-18.5" width="19.1" height="19.1" fill="#787878"/>
<rect x="352.3" y="-18.5" width="19.1" height="19.1" fill="#707070"/>
<rect x="370.8" y="-18.5" width="19.1" height="19.1" fill="#686868"/>
<rect x="389.4" y="-18.5" width="19.1" height="19.1" fill="#606060"/>
<rect x="407.9" y="-18.5" width="93.3" height="19.1" fill="#686868"/>
<rect x="-55.6" y="0.0" width="74.8" height="19.1" fill="#000000"/>
<rect x="18.5" y="0.0" width="19.1" height="19.1" fill="#080808"/>
<rect x="37.1" y="0.0" width="19.1" height="19.1" fill="#101010"/>
<rect x="55.6" y="0.0" width="19.1" height="19.1" fill="#585858"/>
<rect x="74.2" y="0.0" width="19.1" height="19.1" fill="#686868"/>
<rect x="92.7" y="0.0" width="19.1" height="19.1" fill="#707070"/>
<rect x="111.2" y="0.0" width="37.7" height="19.1" fill="#686868"/>
<rect x="148.3" y="0.0" width="19.1" height="19.1" fill="#707070"/>
<rect x="166.9" y="0.0" width="19.1" height="19.1" fill="#686868"/>
<rect x="185.4" y="0.0" width="19.1" height="19.1" fill="#707070"/>
<rect x="204.0" y="0.0" width="19.1" height="19.1" fill="#686868"/>
<rect x="222.5" y="0.0" width="19.1" height="19.1" fill="#787878"/>
<rect x="241.0" y="0.0" width="37.7" height="19.1" fill="#878787"/>
<rect x="278.1" y="0.0" width="37.7" height="19.1" fill="#787878"/>
<rect x="315.2" y="0.0" width="19.1" height="19.1" fill="#808080"/>
<rect x="333.8" y="0.0" width="19.1" height="19.1" fill="#787878"/>
<rect x="352.3" y="0.0" width="19.1" height="19.1" fill="#707070"/>
<rect x="370.8" y="0.0" width="19.1" height="19.1" fill="#686868"/>
<rect x="389.4" y="0.0" width="19.1" height="19.1" fill="#606060"/>
<rect x="407.9" y="0.0" width="93.3" height="19.1" fill="#686868"/>
<rect x="-55.6" y="18.5" width="74.8" height="19.1" fill="#080808"/>
<rect x="18.5" y="18.5" width="19.1" height="19.1" fill="#101010"/>
<rect x="37.1" y="18.5" width="19.1" height="19.1" fill="#202020"/>
<rect x="55.6" y="18.5" width="19.1" height="19.1" fill="#606060"/>
<rect x="74.2" y="18.5" width="19.1" height="19.1" fill="#808080"/>
<rect x="92.7" y="18.5" width="19.1" height="19.1" fill="#787878"/>
<rect x="111.2" y="18.5" width="19.1" height="19.1" fill="#707070"/>
<rect x="129.8" y="18.5" width="19.1" height="19.1" fill="#686868"/>
<rect x="148.3" y="18.5" width="19.1" height="19.1" fill="#787878"/>
<rect x="166.9" y="18.5" width="19.1" height="19.1" fill="#707070"/>
<rect x="185.4" y="18.5" width="19.1" height="19.1" fill="#787878"/>
<rect x="204.0" y="18.5" width="19.1" height="19.1" fill="#707070"/>
<rect x="222.5" y="18.5" width="19.1" height="19.1" fill="#787878"/>
<rect x="241.0" y="18.5" width="19.1" height="19.1" fill="#808080"/>
<rect x="259.6" y="18.5" width="19.1" height="19.1" fill="#787878"/>
<rect x="278.1" y="18.5" width="19.1" height="19.1" fill="#808080"/>
<rect x="296.7" y="18.5" width="19.1" height="19.1" fill="#979797"/>
<rect x="315.2" y="18.5" width="19.1" height="19.1" fill="#8f8f8f"/>
<rect x="333.8" y="18.5" width="37.7" height="19.1" fill="#787878"/>
<rect x="370.8" y="18.5" width="19.1" height="19.1" fill="#707070"/>
<rect x="389.4" y="18.5" width="37.7" height="19.1" fill="#686868"/>
<rect x="426.5" y="18.5" width="74.8" height="19.1" fill="#606060"/>
<rect x="-55.6" y="37.0" width="74.8" height="19.1" fill="#303030"/>
<rect x="18.5" y="37.0" width="19.1" height="19.1" fill="#404040"/>
<rect x="37.1" y="37.0" width="19.1" height="19.1" fill="#585858"/>
<rect x="55.6" y="37.0" width="19.1" height="19.1" fill="#787878"/>
<rect x="74.2" y="37.0" width="19.1" height="19.1" fill="#878787"/>
<rect x="92.7" y="37.0" width="19.1" height="19.1" fill="#8f8f8f"/>
<rect x="111.2" y="37.0" width="37.7" height="19.1" fill="#9f9f9f"/>
<rect x="148.3" y="37.0" width="19.1" height="19.1" fill="#878787"/>
<rect x="166.9" y="37.0" width="37.7" height="19.1" fill="#787878"/>
<rect x="204.0" y="37.0" width="19.1" height="19.1" fill="#707070"/>
<rect x="222.5" y="37.0" width="37.7" height="19.1" fill="#787878"/>
<rect x="259.6" y="37.0" width="19.1" height="19.1" fill="#686868"/>
<rect x="278.1" y="37.0" width="19.1" height="19.1" fill="#878787"/>
<rect x="296.7" y="37.0" width="19.1" height="19.1" fill="#9f9f9f"/>
<rect x="315.2" y="37.0" width="19.1" height="19.1" fill="#979797"/>
<rect x="333.8" y="37.0" width="19.1" height="19.1" fill="#8f8f8f"/>
<rect x="352.3" y="37.0" width="19.1" height="19.1" fill="#878787"/>
<rect x="370.8" y="37.0" width="19.1" height="19.1" fill="#707070"/>
<rect x="389.4" y="37.0" width="111.8" height="19.1" fill="#686868"/>
<rect x="-55.6" y="55.5" width="74.8" height="19.1" fill="#484848"/>
<rect x="18.5" y="55.5" width="19.1" height="19.1" fill="#585858"/>
<rect x="37.1" y="55.5" width="19.1" height="19.1" fill="#606060"/>
<rect x="55.6" y="55.5" width="19.1" height="19.1" fill="#686868"/>
<rect x="74.2" y="55.5" width="19.1" height="19.1" fill="#787878"/>
<rect x="92.7" y="55.5" width="19.1" height="19.1" fill="#878787"/>
<rect x="111.2" y="55.5" width="19.1" height="19.1" fill="#979797"/>
<rect x="129.8" y="55.5" width="19.1" height="19.1" fill="#9f9f9f"/>
<rect x="148.3" y="55.5" width="19.1" height="19.1" fill="#8f8f8f"/>
<rect x="166.9" y="55.5" width="19.1" height="19.1" fill="#878787"/>
<rect x="185.4" y="55.5" width="19.1" height="19.1" fill="#787878"/>
<rect x="204.0" y="55.5" width="37.7" height="19.1" fill="#808080"/>
<rect x="241.0" y="55.5" width="19.1" height="19.1" fill="#787878"/>
<rect x="259.6" y="55.5" width="19.1" height="19.1" fill="#404040"/>
<rect x="278.1" y="55.5" width="19.1" height="19.1" fill="#808080"/>
<rect x="296.7" y="55.5" width="19.1" height="19.1" fill="#a7a7a7"/>
<rect x="315.2" y="55.5" width="19.1" height="19.1" fill="#9f9f9f"/>
<rect x="333.8" y="55.5" width="19.1" height="19.1" fill="#979797"/>
<rect x="352.3" y="55.5" width="19.1" height="19.1" fill="#878787"/>
<rect x="370.8" y="55.5" width="130.4" height="19.1" fill="#686868"/>
<rect x="-55.6" y="74.0" width="74.8" height="19.1" fill="#585858"/>
<rect x="18.5" y="74.0" width="19.1" height="19.1" fill="#606060"/>
<rect x="37.1" y="74.0" width="19.1" height="19.1" fill="#787878"/>
<rect x="55.6" y="74.0" width="37.7" height="19.1" fill="#979797"/>
<rect x="92.7" y="74.0" width="37.7" height="19.1" fill="#8f8f8f"/>
<rect x="129.8" y="74.0" width="19.1" height="19.1" fill="#878787"/>
<rect x="148.3" y="74.0" width="19.1" height="19.1" fill="#8f8f8f"/>
<rect x="166.9" y="74.0" width="19.1" height="19.1" fill="#878787"/>
<rect x="185.4" y="74.0" width="37.7" height="19.1" fill="#808080"/>
<rect x="222.5" y="74.0" width="19.1" height="19.1" fill="#787878"/>
<rect x="241.0" y="74.0" width="19.1" height="19.1" fill="#707070"/>
<rect x="259.6" y="74.0" width="19.1" height="19.1" fill="#787878"/>
<rect x="278.1" y="74.0" width="19.1" height="19.1" fill="#8f8f8f"/>
<rect x="296.7" y="74.0" width="37.7" height="19.1" fill="#9f9f9f"/>
<rect x="333.8" y="74.0" width="19.1" height="19.1" fill="#979797"/>
<rect x="352.3" y="74.0" width="19.1" height="19.1" fill="#8f8f8f"/>
<rect x="370.8" y="74.0" width="19.1" height="19.1" fill="#808080"/>
<rect x="389.4" y="74.0" width="111.8" height="19.1" fill="#787878"/>
<rect x="-55.6" y="92.5" width="74.8" height="19.1" fill="#585858"/>
<rect x="18.5" y="92.5" width="19.1" height="19.1" fill="#979797"/>
<rect x="37.1" y="92.5" width="19.1" height="19.1" fill="#9f9f9f"/>
<rect x="55.6" y="92.5" width="19.1" height="19.1" fill="#979797"/>
<rect x="74.2" y="92.5" width="19.1" height="19.1" fill="#8f8f8f"/>
<rect x="92.7" y="92.5" width="19.1" height="19.1" fill="#979797"/>
<rect x="111.2" y="92.5" width="19.1" height="19.1" fill="#8f8f8f"/>
<rect x="129.8" y="92.5" width="19.1" height="19.1" fill="#808080"/>
<rect x="148.3" y="92.5" width="19.1" height="19.1" fill="#787878"/>
<rect x="166.9" y="92.5" width="19.1" height="19.1" fill="#707070"/>
<rect x="185.4" y="92.5" width="19.1" height="19.1" fill="#808080"/>
<rect x="204.0" y="92.5" width="19.1" height="19.1" fill="#878787"/>
<rect x="222.5" y="92.5" width="19.1" height="19.1" fill="#9f9f9f"/>
<rect x="241.0" y="92.5" width="19.1" height="19.1" fill="#979797"/>
<rect x="259.6" y="92.5" width="19.1" height="19.1" fill="#8f8f8f"/>
<rect x="278.1" y="92.5" width="37.7" height="19.1" fill="#979797"/>
<rect x="315.2" y="92.5" width="19.1" height="19.1" fill="#9f9f9f"/>
<rect x="333.8" y="92.5" width="19.1" height="19.1" fill="#8f8f8f"/>
<rect x="352.3" y="92.5" width="19.1" height="19.1" fill="#878787"/>
<rect x="370.8" y="92.5" width="130.4" height="19.1" fill="#808080"/>
<rect x="-55.6" y="111.0" width="74.8" height="19.1" fill="#606060"/>
<rect x="18.5" y="111.0" width="19.1" height="19.1" fill="#979797"/>
<rect x="37.1" y="111.0" width="37.7" height="19.1" fill="#8f8f8f"/>
<rect x="74.2" y="111.0" width="19.1" height="19.1" fill="#878787"/>
<rect x="92.7" y="111.0" width="19.1" height="19.1" fill="#808080"/>
<rect x="111.2" y="111.0" width="19.1" height="19.1" fill="#707070"/>
<rect x="129.8" y="111.0" width="19.1" height="19.1" fill="#787878"/>
<rect x="148.3" y="111.0" width="19.1" height="19.1" fill="#878787"/>
<rect x="166.9" y="111.0" width="19.1" height="19.1" fill="#8f8f8f"/>
<rect x="185.4" y="111.0" width="19.1" height="19.1" fill="#9f9f9f"/>
<rect x="204.0" y="111.0" width="37.7" height="19.1" fill="#c7c7c7"/>
<rect x="241.0" y="111.0" width="19.1" height="19.1" fill="#afafaf"/>
<rect x="259.6" y="111.0" width="19.1" height="19.1" fill="#9f9f9f"/>
<rect x="278.1" y="111.0" width="19.1" height="19.1" fill="#979797"/>
<rect x="296.7" y="111.0" width="19.1" height="19.1" fill="#9f9f9f"/>
<rect x="315.2" y="111.0" width="19.1" height="19.1" fill="#979797"/>
<rect x="333.8" y="111.0" width="37.7" height="19.1" fill="#8f8f8f"/>
<rect x="370.8" y="111.0" width="19.1" height="19.1" fill="#808080"/>
<rect x="389.4" y="111.0" width="19.1" height="19.1" fill="#878787"/>
<rect x="407.9" y="111.0" width="19.1" height="19.1" fill="#8f8f8f"/>
<rect x="426.5" y="111.0" width="74.8" height="19.1" fill="#878787"/>
<rect x="-55.6" y="129.5" width="74.8" height="19.1" fill="#9f9f9f"/>
<rect x="18.5" y="129.5" width="19.1" height="19.1" fill="#b7b7b7"/>
<rect x="37.1" y="129.5" width="19.1" height="19.1" fill="#9f9f9f"/>
<rect x="55.6" y="129.5" width="19.1" height="19.1" fill="#8f8f8f"/>
<rect x="74.2" y="129.5" width="19.1" height="19.1" fill="#808080"/>
<rect x="92.7" y="129.5" width="19.1" height="19.1" fill="#707070"/>
<rect x="111.2" y="129.5" width="19.1" height="19.1" fill="#787878"/>
<rect x="129.8" y="129.5" width="19.1" height="19.1" fill="#c7c7c7"/>
<rect x="148.3" y="129.5" width="37.7" height="19.1" fill="#dfdfdf"/>
<rect x="185.4" y="129.5" width="19.1" height="19.1" fill="#e7e7e7"/>
<rect x="204.0" y="129.5" width="19.1" height="19.1" fill="#bfbfbf"/>
<rect x="222.5" y="129.5" width="19.1" height="19.1" fill="#cfcfcf"/>
<rect x="241.0" y="129.5" width="19.1" height="19.1" fill="#e7e7e7"/>
<rect x="259.6" y="129.5" width="19.1" height="19.1" fill="#efefef"/>
<rect x="278.1" y="129.5" width="19.1" height="19.1" fill="#e7e7e7"/>
<rect x="296.7" y="129.5" width="19.1" height="19.1" fill="#cfcfcf"/>
<rect x="315.2" y="129.5" width="19.1" height="19.1" fill="#afafaf"/>
<rect x="333.8" y="129.5" width="19.1" height="19.1" fill="#cfcfcf"/>
<rect x="352.3" y="129.5" width="19.1" height="19.1" fill="#bfbfbf"/>
<rect x="370.8" y="129.5" width="19.1" height="19.1" fill="#a7a7a7"/>
<rect x="389.4" y="129.5" width="19.1" height="19.1" fill="#979797"/>
<rect x="407.9" y="129.5" width="93.3" height="19.1" fill="#878787"/>
<rect x="-55.6" y="148.0" width="74.8" height="19.1" fill="#b7b7b7"/>
<rect x="18.5" y="148.0" width="19.1" height="19.1" fill="#afafaf"/>
<rect x="37.1" y="148.0" width="19.1" height="19.1" fill="#b7b7b7"/>
<rect x="55.6" y="148.0" width="19.1" height="19.1" fill="#8f8f8f"/>
<rect x="74.2" y="148.0" width="19.1" height="19.1" fill="#cfcfcf"/>
<rect x="92.7" y="148.0" width="19.1" height="19.1" fill="#dfdfdf"/>
<rect x="111.2" y="148.0" width="19.1" height="19.1" fill="#d7d7d7"/>
<rect x="129.8" y="148.0" width="19.1" height="19.1" fill="#dfdfdf"/>
<rect x="148.3" y="148.0" width="19.1" height="19.1" fill="#cfcfcf"/>
<rect x="166.9" y="148.0" width="19.1" height="19.1" fill="#dfdfdf"/>
<rect x="185.4" y="148.0" width="19.1" height="19.1" fill="#e7e7e7"/>
<rect x="204.0" y="148.0" width="19.1" height="19.1" fill="#f7f7f7"/>
<rect x="222.5" y="148.0" width="19.1" height="19.1" fill="#ffffff"/>
<rect x="241.0" y="148.0" width="19.1" height="19.1" fill="#efefef"/>
<rect x="259.6" y="148.0" width="19.1" height="19.1" fill="#dfdfdf"/>
<rect x="278.1" y="148.0" width="19.1" height="19.1" fill="#efefef"/>
<rect x="296.7" y="148.0" width="19.1" height="19.1" fill="#e7e7e7"/>
<rect x="315.2" y="148.0" width="37.7" height="19.1" fill="#d7d7d7"/>
<rect x="352.3" y="148.0" width="37.7" height="19.1" fill="#cfcfcf"/>
<rect x="389.4" y="148.0" width="19.1" height="19.1" fill="#c7c7c7"/>
<rect x="407.9" y="148.0" width="19.1" height="19.1" fill="#bfbfbf"/>
<rect x="426.5" y="148.0" width="74.8" height="19.1" fill="#979797"/>
<rect x="-55.6" y="166.5" width="74.8" height="19.1" fill="#a7a7a7"/>
<rect x="18.5" y="166.5" width="19.1" height="19.1" fill="#afafaf"/>
<rect x="37.1" y="166.5" width="19.1" height="19.1" fill="#c7c7c7"/>
<rect x="55.6" y="166.5" width="19.1" height="19.1" fill="#cfcfcf"/>
<rect x="74.2" y="166.5" width="19.1" height="19.1" fill="#dfdfdf"/>
<rect x="92.7" y="166.5" width="19.1" height="19.1" fill="#e7e7e7"/>
<rect x="111.2" y="166.5" width="37.7" height="19.1" fill="#dfdfdf"/>
<rect x="148.3" y="166.5" width="19.1" height="19.1" fill="#b7b7b7"/>
<rect x="166.9" y="166.5" width="19.1" height="19.1" fill="#dfdfdf"/>
<rect x="185.4" y="166.5" width="19.1" height="19.1" fill="#efefef"/>
<rect x="204.0" y="166.5" width="19.1" height="19.1" fill="#ffffff"/>
<rect x="222.5" y="166.5" width="19.1" height="19.1" fill="#f7f7f7"/>
<rect x="241.0" y="166.5" width="19.1" height="19.1" fill="#e7e7e7"/>
<rect x="259.6" y="166.5" width="19.1" height="19.1" fill="#d7d7d7"/>
<rect x="278.1" y="166.5" width="19.1" height="19.1" fill="#f7f7f7"/>
<rect x="296.7" y="166.5" width="19.1" height="19.1" fill="#efefef"/>
<rect x="315.2" y="166.5" width="56.2" height="19.1" fill="#dfdfdf"/>
<rect x="370.8" y="166.5" width="19.1" height="19.1" fill="#d7d7d7"/>
<rect x="389.4" y="166.5" width="37.7" height="19.1" fill="#dfdfdf"/>
<rect x="426.5" y="166.5" width="74.8" height="19.1" fill="#d7d7d7"/>
<rect x="-55.6" y="185.0" width="74.8" height="19.1" fill="#c7c7c7"/>
<rect x="18.5" y="185.0" width="19.1" height="19.1" fill="#d7d7d7"/>
<rect x="37.1" y="185.0" width="19.1" height="19.1" fill="#b7b7b7"/>
<rect x="55.6" y="185.0" width="19.1" height="19.1" fill="#dfdfdf"/>
<rect x="74.2" y="185.0" width="19.1" height="19.1" fill="#efefef"/>
<rect x="92.7" y="185.0" width="19.1" height="19.1" fill="#e7e7e7"/>
<rect x="111.2" y="185.0" width="19.1" height="19.1" fill="#dfdfdf"/>
<rect x="129.8" y="185.0" width="19.1" height="19.1" fill="#bfbfbf"/>
<rect x="148.3" y="185.0" width="19.1" height="19.1" fill="#d7d7d7"/>
<rect x="166.9" y="185.0" width="19.1" height="19.1" fill="#dfdfdf"/>
<rect x="185.4" y="185.0" width="19.1" height="19.1" fill="#e7e7e7"/>
<rect x="204.0" y="185.0" width="37.7" height="19.1" fill="#f7f7f7"/>
<rect x="241.0" y="185.0" width="19.1" height="19.1" fill="#efefef"/>
<rect x="259.6" y="185.0" width="19.1" height="19.1" fill="#e7e7e7"/>
<rect x="278.1" y="185.0" width="19.1" height="19.1" fill="#efefef"/>
<rect x="296.7" y="185.0" width="19.1" height="19.1" fill="#e7e7e7"/>
<rect x="315.2" y="185.0" width="19.1" height="19.1" fill="#dfdfdf"/>
<rect x="333.8" y="185.0" width="19.1" height="19.1" fill="#e7e7e7"/>
<rect x="352.3" y="185.0" width="148.9" height="19.1" fill="#dfdfdf"/>
<rect x="-55.6" y="203.5" width="74.8" height="19.1" fill="#cfcfcf"/>
<rect x="18.5" y="203.5" width="19.1" height="19.1" fill="#d7d7d7"/>
<rect x="37.1" y="203.5" width="37.7" height="19.1" fill="#dfdfdf"/>
<rect x="74.2" y="203.5" width="37.7" height="19.1" fill="#efefef"/>
<rect x="111.2" y="203.5" width="19.1" height="19.1" fill="#c7c7c7"/>
<rect x="129.8" y="203.5" width="19.1" height="19.1" fill="#9f9f9f"/>
<rect x="148.3" y="203.5" width="19.1" height="19.1" fill="#dfdfdf"/>
<rect x="166.9" y="203.5" width="19.1" height="19.1" fill="#c7c7c7"/>
<rect x="185.4" y="203.5" width="37.7" height="19.1" fill="#dfdfdf"/>
<rect x="222.5" y="203.5" width="37.7" height="19.1" fill="#f7f7f7"/>
<rect x="259.6" y="203.5" width="19.1" height="19.1" fill="#ffffff"/>
<rect x="278.1" y="203.5" width="19.1" height="19.1" fill="#f7f7f7"/>
<rect x="296.7" y="203.5" width="19.1" height="19.1" fill="#e7e7e7"/>
<rect x="315.2" y="203.5" width="19.1" height="19.1" fill="#efefef"/>
<rect x="333.8" y="203.5" width="37.7" height="19.1" fill="#e7e7e7"/>
<rect x="370.8" y="203.5" width="19.1" height="19.1" fill="#dfdfdf"/>
<rect x="389.4" y="203.5" width="19.1" height="19.1" fill="#d7d7d7"/>
<rect x="407.9" y="203.5" width="93.3" height="19.1" fill="#dfdfdf"/>
<rect x="-55.6" y="222.0" width="130.4" height="19.1" fill="#dfdfdf"/>
<rect x="74.2" y="222.0" width="19.1" height="19.1" fill="#cfcfcf"/>
<rect x="92.7" y="222.0" width="19.1" height="19.1" fill="#dfdfdf"/>
<rect x="111.2" y="222.0" width="19.1" height="19.1" fill="#878787"/>
<rect x="129.8" y="222.0" width="19.1" height="19.1" fill="#979797"/>
<rect x="148.3" y="222.0" width="37.7" height="19.1" fill="#c7c7c7"/>
<rect x="185.4" y="222.0" width="19.1" height="19.1" fill="#dfdfdf"/>
<rect x="204.0" y="222.0" width="19.1" height="19.1" fill="#cfcfcf"/>
<rect x="222.5" y="222.0" width="19.1" height="19.1" fill="#dfdfdf"/>
<rect x="241.0" y="222.0" width="19.1" height="19.1" fill="#e7e7e7"/>
<rect x="259.6" y="222.0" width="19.1" height="19.1" fill="#f7f7f7"/>
<rect x="278.1" y="222.0" width="37.7" height="19.1" fill="#ffffff"/>
<rect x="315.2" y="222.0" width="37.7" height="19.1" fill="#f7f7f7"/>
<rect x="352.3" y="222.0" width="37.7" height="19.1" fill="#dfdfdf"/>
<rect x="389.4" y="222.0" width="19.1" height="19.1" fill="#cfcfcf"/>
<rect x="407.9" y="222.0" width="19.1" height="19.1" fill="#d7d7d7"/>
<rect x="426.5" y="222.0" width="74.8" height="19.1" fill="#dfdfdf"/>
<rect x="-55.6" y="240.5" width="74.8" height="19.1" fill="#e7e7e7"/>
<rect x="18.5" y="240.5" width="37.7" height="19.1" fill="#dfdfdf"/>
<rect x="55.6" y="240.5" width="19.1" height="19.1" fill="#c7c7c7"/>
<rect x="74.2" y="240.5" width="19.1" height="19.1" fill="#9f9f9f"/>
<rect x="92.7" y="240.5" width="37.7" height="19.1" fill="#787878"/>
<rect x="129.8" y="240.5" width="19.1" height="19.1" fill="#707070"/>
<rect x="148.3" y="240.5" width="19.1" height="19.1" fill="#979797"/>
<rect x="166.9" y="240.5" width="19.1" height="19.1" fill="#bfbfbf"/>
<rect x="185.4" y="240.5" width="37.7" height="19.1" fill="#cfcfcf"/>
<rect x="222.5" y="240.5" width="19.1" height="19.1" fill="#d7d7d7"/>
<rect x="241.0" y="240.5" width="19.1" height="19.1" fill="#dfdfdf"/>
<rect x="259.6" y="240.5" width="37.7" height="19.1" fill="#ffffff"/>
<rect x="296.7" y="240.5" width="19.1" height="19.1" fill="#f7f7f7"/>
<rect x="315.2" y="240.5" width="37.7" height="19.1" fill="#ffffff"/>
<rect x="352.3" y="240.5" width="19.1" height="19.1" fill="#e7e7e7"/>
<rect x="370.8" y="240.5" width="19.1" height="19.1" fill="#dfdfdf"/>
<rect x="389.4" y="240.5" width="37.7" height="19.1" fill="#c7c7c7"/>
<rect x="426.5" y="240.5" width="74.8" height="19.1" fill="#dfdfdf"/>
<rect x="-55.6" y="259.0" width="93.3" height="19.1" fill="#dfdfdf"/>
<rect x="37.1" y="259.0" width="19.1" height="19.1" fill="#cfcfcf"/>
<rect x="55.6" y="259.0" width="19.1" height="19.1" fill="#a7a7a7"/>
<rect x="74.2" y="259.0" width="19.1" height="19.1" fill="#484848"/>
<rect x="92.7" y="259.0" width="19.1" height="19.1" fill="#707070"/>
<rect x="111.2" y="259.0" width="19.1" height="19.1" fill="#585858"/>
<rect x="129.8" y="259.0" width="19.1" height="19.1" fill="#505050"/>
<rect x="148.3" y="259.0" width="19.1" height="19.1" fill="#606060"/>
<rect x="166.9" y="259.0" width="19.1" height="19.1" fill="#b7b7b7"/>
<rect x="185.4" y="259.0" width="19.1" height="19.1" fill="#cfcfcf"/>
<rect x="204.0" y="259.0" width="19.1" height="19.1" fill="#d7d7d7"/>
<rect x="222.5" y="259.0" width="37.7" height="19.1" fill="#dfdfdf"/>
<rect x="259.6" y="259.0" width="19.1" height="19.1" fill="#e7e7e7"/>
<rect x="278.1" y="259.0" width="19.1" height="19.1" fill="#ffffff"/>
<rect x="296.7" y="259.0" width="19.1" height="19.1" fill="#f7f7f7"/>
<rect x="315.2" y="259.0" width="37.7" height="19.1" fill="#ffffff"/>
<rect x="352.3" y="259.0" width="19.1" height="19.1" fill="#f7f7f7"/>
<rect x="370.8" y="259.0" width="19.1" height="19.1" fill="#dfdfdf"/>
<rect x="389.4" y="259.0" width="19.1" height="19.1" fill="#cfcfcf"/>
<rect x="407.9" y="259.0" width="19.1" height="19.1" fill="#d7d7d7"/>
<rect x="426.5" y="259.0" width="74.8" height="19.1" fill="#bfbfbf"/>
<rect x="-55.6" y="277.5" width="74.8" height="19.1" fill="#dfdfdf"/>
<rect x="18.5" y="277.5" width="19.1" height="19.1" fill="#cfcfcf"/>
<rect x="37.1" y="277.5" width="19.1" height="19.1" fill="#bfbfbf"/>
<rect x="55.6" y="277.5" width="19.1" height="19.1" fill="#878787"/>
<rect x="74.2" y="277.5" width="19.1" height="19.1" fill="#606060"/>
<rect x="92.7" y="277.5" width="19.1" height="19.1" fill="#a7a7a7"/>
<rect x="111.2" y="277.5" width="19.1" height="19.1" fill="#787878"/>
<rect x="129.8" y="277.5" width="19.1" height="19.1" fill="#585858"/>
<rect x="148.3" y="277.5" width="19.1" height="19.1" fill="#606060"/>
<rect x="166.9" y="277.5" width="19.1" height="19.1" fill="#9f9f9f"/>
<rect x="185.4" y="277.5" width="19.1" height="19.1" fill="#cfcfcf"/>
<rect x="204.0" y="277.5" width="37.7" height="19.1" fill="#dfdfdf"/>
<rect x="241.0" y="277.5" width="19.1" height="19.1" fill="#d7d7d7"/>
<rect x="259.6" y="277.5" width="19.1" height="19.1" fill="#e7e7e7"/>
<rect x="278.1" y="277.5" width="93.3" height="19.1" fill="#ffffff"/>
<rect x="370.8" y="277.5" width="19.1" height="19.1" fill="#efefef"/>
<rect x="389.4" y="277.5" width="19.1" height="19.1" fill="#e7e7e7"/>
<rect x="407.9" y="277.5" width="19.1" height="19.1" fill="#dfdfdf"/>
<rect x="426.5" y="277.5" width="74.8" height="19.1" fill="#cfcfcf"/>
<rect x="-55.6" y="296.0" width="74.8" height="19.1" fill="#dfdfdf"/>
<rect x="18.5" y="296.0" width="19.1" height="19.1" fill="#cfcfcf"/>
<rect x="37.1" y="296.0" width="19.1" height="19.1" fill="#bfbfbf"/>
<rect x="55.6" y="296.0" width="19.1" height="19.1" fill="#878787"/>
<rect x="74.2" y="296.0" width="19.1" height="19.1" fill="#606060"/>
<rect x="92.7" y="296.0" width="19.1" height="19.1" fill="#a7a7a7"/>
<rect x="111.2" y="296.0" width="19.1" height="19.1" fill="#787878"/>
<rect x="129.8" y="296.0" width="19.1" height="19.1" fill="#585858"/>
<rect x="148.3" y="296.0" width="19.1" height="19.1" fill="#606060"/>
<rect x="166.9" y="296.0" width="19.1" height="19.1" fill="#9f9f9f"/>
<rect x="185.4" y="296.0" width="19.1" height="19.1" fill="#cfcfcf"/>
<rect x="204.0" y="296.0" width="37.7" height="19.1" fill="#dfdfdf"/>
<rect x="241.0" y="296.0" width="19.1" height="19.1" fill="#d7d7d7"/>
<rect x="259.6" y="296.0" width="19.1" height="19.1" fill="#e7e7e7"/>
<rect x="278.1" y="296.0" width="93.3" height="19.1" fill="#ffffff"/>
<rect x="370.8" y="296.0" width="19.1" height="19.1" fill="#efefef"/>
<rect x="389.4" y="296.0" width="19.1" height="19.1" fill="#e7e7e7"/>
<rect x="407.9" y="296.0" width="19.1" height="19.1" fill="#dfdfdf"/>
<rect x="426.5" y="296.0" width="74.8" height="19.1" fill="#cfcfcf"/>
<rect x="-55.6" y="314.5" width="74.8" height="19.1" fill="#dfdfdf"/>
<rect x="18.5" y="314.5" width="19.1" height="19.1" fill="#cfcfcf"/>
<rect x="37.1" y="314.5" width="19.1" height="19.1" fill="#bfbfbf"/>
<rect x="55.6" y="314.5" width="19.1" height="19.1" fill="#878787"/>
<rect x="74.2" y="314.5" width="19.1" height="19.1" fill="#606060"/>
<rect x="92.7" y="314.5" width="19.1" height="19.1" fill="#a7a7a7"/>
<rect x="111.2" y="314.5" width="19.1" height="19.1" fill="#787878"/>
<rect x="129.8" y="314.5" width="19.1" height="19.1" fill="#585858"/>
<rect x="148.3" y="314.5" width="19.1" height="19.1" fill="#606060"/>
<rect x="166.9" y="314.5" width="19.1" height="19.1" fill="#9f9f9f"/>
<rect x="185.4" y="314.5" width="19.1" height="19.1" fill="#cfcfcf"/>
<rect x="204.0" y="314.5" width="37.7" height="19.1" fill="#dfdfdf"/>
<rect x="241.0" y="314.5" width="19.1" height="19.1" fill="#d7d7d7"/>
<rect x="259.6" y="314.5" width="19.1" height="19.1" fill="#e7e7e7"/>
<rect x="278.1" y="314.5" width="93.3" height="19.1" fill="#ffffff"/>
<rect x="370.8" y="314.5" width="19.1" height="19.1" fill="#efefef"/>
<rect x="389.4" y="314.5" width="19.1" height="19.1" fill="#e7e7e7"/>
<rect x="407.9" y="314.5" width="19.1" height="19.1" fill="#dfdfdf"/>
<rect x="426.5" y="314.5" width="74.8" height="19.1" fill="#cfcfcf"/>
<rect x="-55.6" y="333.0" width="74.8" height="19.1" fill="#dfdfdf"/>
<rect x="18.5" y="333.0" width="19.1" height="19.1" fill="#cfcfcf"/>
<rect x="37.1" y="333.0" width="19.1" height="19.1" fill="#bfbfbf"/>
<rect x="55.6" y="333.0" width="19.1" height="19.1" fill="#878787"/>
<rect x="74.2" y="333.0" width="19.1" height="19.1" fill="#606060"/>
<rect x="92.7" y="333.0" width="19.1" height="19.1" fill="#a7a7a7"/>
<rect x="111.2" y="333.0" width="19.1" height="19.1" fill="#787878"/>
<rect x="129.8" y="333.0" width="19.1" height="19.1" fill="#585858"/>
<rect x="148.3" y="333.0" width="19.1" height="19.1" fill="#606060"/>
<rect x="166.9" y="333.0" width="19.1" height="19.1" fill="#9f9f9f"/>
<rect x="185.4" y="333.0" width="19.1" height="19.1" fill="#cfcfcf"/>
<rect x="204.0" y="333.0" width="37.7" height="19.1" fill="#dfdfdf"/>
<rect x="241.0" y="333.0" width="19.1" height="19.1" fill="#d7d7d7"/>
<rect x="259.6" y="333.0" width="19.1" height="19.1" fill="#e7e7e7"/>
<rect x="278.1" y="333.0" width="93.3" height="19.1" fill="#ffffff"/>
<rect x="370.8" y="333.0" width="19.1" height="19.1" fill="#efefef"/>
<rect x="389.4" y="333.0" width="19.1" height="19.1" fill="#e7e7e7"/>
<rect x="407.9" y="333.0" width="19.1" height="19.1" fill="#dfdfdf"/>
<rect x="426.5" y="333.0" width="74.8" height="19.1" fill="#cfcfcf"/>

</g>
<g filter="url(#sbf)"><defs><filter id="sbf" x="-50%" y="-50%" width="200%" height="200%"><feGaussianBlur stdDeviation="1.2"/></filter></defs>
<ellipse cx="279.0" cy="63.0" rx="8" ry="7" fill="#0030ff" />
<ellipse cx="277.0" cy="61.0" rx="5" ry="4" fill="#0000c0" />
<ellipse cx="265.0" cy="75.0" rx="2.5" ry="2.5" fill="#0010b0" />
<ellipse cx="264.0" cy="49.0" rx="2" ry="2" fill="#0010b0" />
<ellipse cx="278.0" cy="48.0" rx="2" ry="2" fill="#0010b0" />
<ellipse cx="330.0" cy="25.0" rx="2" ry="2" fill="#0010b0" />
<ellipse cx="356.0" cy="19.0" rx="2" ry="2" fill="#0010b0" />
<ellipse cx="431.0" cy="32.0" rx="2.5" ry="2.5" fill="#0010b0" />
<ellipse cx="372.0" cy="74.0" rx="2" ry="2" fill="#0010b0" />
<ellipse cx="436.0" cy="98.0" rx="2" ry="2" fill="#0010b0" />
<ellipse cx="104.0" cy="55.0" rx="2" ry="2" fill="#0010b0" />
<ellipse cx="111.0" cy="37.0" rx="1.5" ry="1.5" fill="#0010b0" />
<ellipse cx="385.0" cy="7.0" rx="2" ry="2" fill="#0010b0" />
<ellipse cx="415.0" cy="50.0" rx="2.5" ry="2.5" fill="#0010b0" />
</g>
</svg>
<div class="fr" style="left:790px;top:978px;width:451px;height:302px"></div>
<div class="cb" style="left:1291px;top:75px;width:34px;height:254px;background:linear-gradient(to top,#000080 0.00%,#0000bf 6.25%,#0000ff 12.50%,#0040ff 18.75%,#0080ff 25.00%,#00bfff 31.25%,#00ffff 37.50%,#40ffbf 43.75%,#80ff80 50.00%,#bfff40 56.25%,#ffff00 62.50%,#ffbf00 68.75%,#ff8000 75.00%,#ff4000 81.25%,#ff0000 87.50%,#bf0000 93.75%,#800000 100.00%)"></div>
<div class="cb" style="left:1291px;top:551px;width:34px;height:255px;background:linear-gradient(to top,#000080 0.00%,#0000bf 6.25%,#0000ff 12.50%,#0040ff 18.75%,#0080ff 25.00%,#00bfff 31.25%,#00ffff 37.50%,#40ffbf 43.75%,#80ff80 50.00%,#bfff40 56.25%,#ffff00 62.50%,#ffbf00 68.75%,#ff8000 75.00%,#ff4000 81.25%,#ff0000 87.50%,#bf0000 93.75%,#800000 100.00%)"></div>
<div class="cb" style="left:1291px;top:1011px;width:34px;height:256px;background:linear-gradient(to top,#000080 0.00%,#0000bf 6.25%,#0000ff 12.50%,#0040ff 18.75%,#0080ff 25.00%,#00bfff 31.25%,#00ffff 37.50%,#40ffbf 43.75%,#80ff80 50.00%,#bfff40 56.25%,#ffff00 62.50%,#ffbf00 68.75%,#ff8000 75.00%,#ff4000 81.25%,#ff0000 87.50%,#bf0000 93.75%,#800000 100.00%)"></div>
<div class="t" style="left:94.8px;top:-0.4px;font-size:48px;">20.5</div>
<div class="t" style="left:94.8px;top:99.4px;font-size:48px;">18.5</div>
<div class="t" style="left:94.8px;top:198.9px;font-size:48px;">16.5</div>
<div class="t" style="left:94.8px;top:297.6px;font-size:48px;">14.5</div>
<div class="t" style="left:154.0px;top:355.8px;font-size:48px;">109</div>
<div class="t" style="left:255.4px;top:355.8px;font-size:48px;">111</div>
<div class="t" style="left:353.6px;top:355.8px;font-size:48px;">113</div>
<div class="t" style="left:452.7px;top:355.8px;font-size:48px;">115</div>
<div class="t" style="left:552.0px;top:355.8px;font-size:48px;">117</div>
<div class="t" style="left:695.8px;top:-0.4px;font-size:48px;">20.5</div>
<div class="t" style="left:695.8px;top:99.4px;font-size:48px;">18.5</div>
<div class="t" style="left:695.8px;top:198.9px;font-size:48px;">16.5</div>
<div class="t" style="left:695.8px;top:297.6px;font-size:48px;">14.5</div>
<div class="t" style="left:755.0px;top:355.8px;font-size:48px;">109</div>
<div class="t" style="left:856.4px;top:355.8px;font-size:48px;">111</div>
<div class="t" style="left:954.6px;top:355.8px;font-size:48px;">113</div>
<div class="t" style="left:1053.7px;top:355.8px;font-size:48px;">115</div>
<div class="t" style="left:1153.0px;top:355.8px;font-size:48px;">117</div>
<div class="t" style="left:94.8px;top:476.6px;font-size:48px;">20.5</div>
<div class="t" style="left:94.8px;top:576.4px;font-size:48px;">18.5</div>
<div class="t" style="left:94.8px;top:675.9px;font-size:48px;">16.5</div>
<div class="t" style="left:94.8px;top:774.6px;font-size:48px;">14.5</div>
<div class="t" style="left:154.0px;top:832.8px;font-size:48px;">109</div>
<div class="t" style="left:255.4px;top:832.8px;font-size:48px;">111</div>
<div class="t" style="left:353.6px;top:832.8px;font-size:48px;">113</div>
<div class="t" style="left:452.7px;top:832.8px;font-size:48px;">115</div>
<div class="t" style="left:552.0px;top:832.8px;font-size:48px;">117</div>
<div class="t" style="left:695.8px;top:476.6px;font-size:48px;">20.5</div>
<div class="t" style="left:695.8px;top:576.4px;font-size:48px;">18.5</div>
<div class="t" style="left:695.8px;top:675.9px;font-size:48px;">16.5</div>
<div class="t" style="left:695.8px;top:774.6px;font-size:48px;">14.5</div>
<div class="t" style="left:755.0px;top:832.8px;font-size:48px;">109</div>
<div class="t" style="left:856.4px;top:832.8px;font-size:48px;">111</div>
<div class="t" style="left:954.6px;top:832.8px;font-size:48px;">113</div>
<div class="t" style="left:1053.7px;top:832.8px;font-size:48px;">115</div>
<div class="t" style="left:1153.0px;top:832.8px;font-size:48px;">117</div>
<div class="t" style="left:130.1px;top:1027.5px;font-size:48px;">18</div>
<div class="t" style="left:130.1px;top:1177.3px;font-size:48px;">17</div>
<div class="t" style="left:155.4px;top:1285.8px;font-size:48px;">110</div>
<div class="t" style="left:304.6px;top:1285.8px;font-size:48px;">111</div>
<div class="t" style="left:453.3px;top:1285.8px;font-size:48px;">112</div>
<div class="t" style="left:601.0px;top:1285.8px;font-size:48px;">113</div>
<div class="t" style="left:731.1px;top:1027.5px;font-size:48px;">18</div>
<div class="t" style="left:731.1px;top:1177.3px;font-size:48px;">17</div>
<div class="t" style="left:756.4px;top:1285.8px;font-size:48px;">110</div>
<div class="t" style="left:905.6px;top:1285.8px;font-size:48px;">111</div>
<div class="t" style="left:1054.3px;top:1285.8px;font-size:48px;">112</div>
<div class="t" style="left:1202.0px;top:1285.8px;font-size:48px;">113</div>
<div class="t" style="left:1272.9px;top:9.2px;font-size:48px;">m/s</div>
<div class="t" style="left:1335.6px;top:47.4px;font-size:48px;letter-spacing:-0.9px">0.15</div>
<div class="t" style="left:1335.6px;top:132.0px;font-size:48px;">0.1</div>
<div class="t" style="left:1335.6px;top:216.0px;font-size:48px;letter-spacing:-0.9px">0.05</div>
<div class="t" style="left:1335.6px;top:300.5px;font-size:48px;">0</div>
<div class="t" style="left:1335.3px;top:554.0px;font-size:48px;">29</div>
<div class="t" style="left:1335.3px;top:611.0px;font-size:48px;">28</div>
<div class="t" style="left:1335.3px;top:668.0px;font-size:48px;">27</div>
<div class="t" style="left:1335.3px;top:722.0px;font-size:48px;">26</div>
<div class="t" style="left:1335.3px;top:779.0px;font-size:48px;">25</div>
<div class="t" style="left:1335.3px;top:985.0px;font-size:48px;">25</div>
<div class="t" style="left:1335.3px;top:1113.0px;font-size:48px;">24</div>
<div class="t" style="left:1335.3px;top:1240.0px;font-size:48px;">23</div>
<div class="t" style="left:209.7px;top:47.4px;font-size:44px;">(a)</div>
<div class="t" style="left:808.0px;top:45.6px;font-size:44px;">(b)</div>
<div class="t" style="left:208.0px;top:524.0px;font-size:44px;">(c)</div>
<div class="t" style="left:808.0px;top:526.0px;font-size:44px;">(d)</div>
<div class="t" style="left:220.0px;top:1001.7px;font-size:44px;">(e)</div>
<div class="t" style="left:819.5px;top:1000.8px;font-size:44px;">(f)</div>
<div class="t" style="left:595.9px;top:1377.7px;font-size:48px;">Longitude(&#176;E)</div>
<div class="t" style="left:1304.0px;top:487.0px;font-size:48px;">C</div>
<div class="t" style="left:1304.0px;top:949.0px;font-size:48px;">C</div>
<div class="t" style="left:1279.0px;top:488.0px;font-size:40px;">&#176;</div>
<div class="t" style="left:1278.0px;top:949.0px;font-size:40px;">&#176;</div>
<div class="t" style="left:0;top:0;font-size:48px;transform-origin:0 0;transform:translate(-8.5px,788px) rotate(-90deg)">Latitude(&#176;N)</div>
</body></html>
